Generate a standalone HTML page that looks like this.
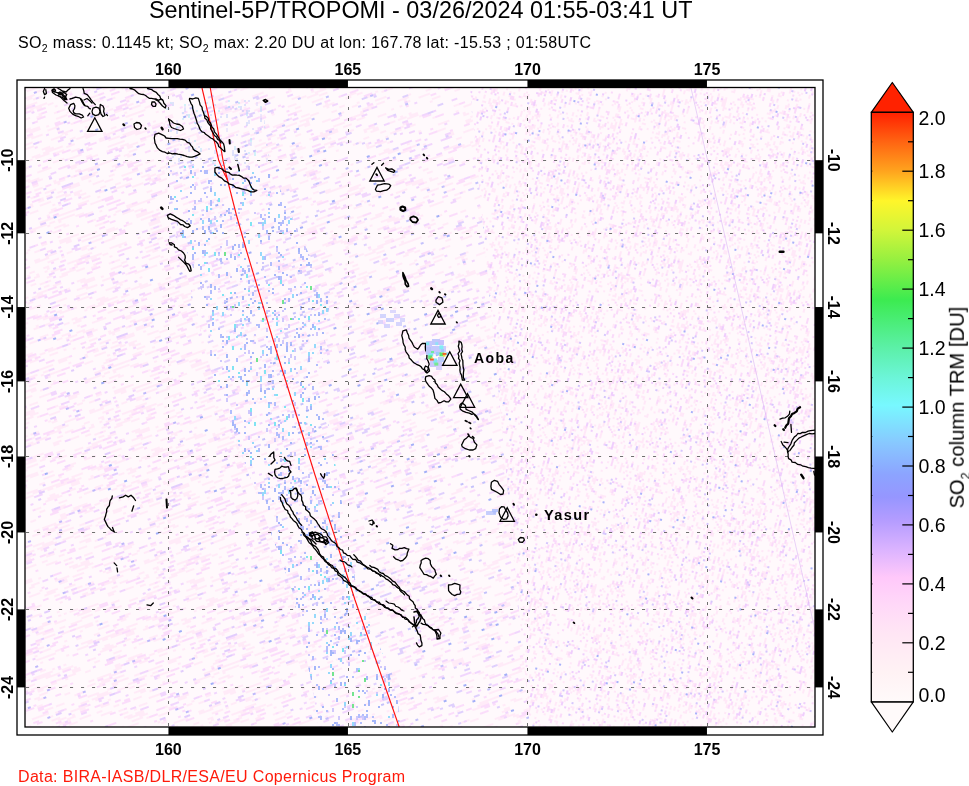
<!DOCTYPE html><html><head><meta charset="utf-8"><style>html,body{margin:0;padding:0;background:#fff;width:969px;height:786px;overflow:hidden}</style></head><body><svg width="969" height="786" viewBox="0 0 969 786" style="position:absolute;left:0;top:0;will-change:transform">
<defs>
<linearGradient id="cb" x1="0" y1="0" x2="0" y2="1"><stop offset="0" stop-color="#ff2000"/><stop offset="0.05" stop-color="#ff6412"/><stop offset="0.1" stop-color="#ffa41e"/><stop offset="0.15" stop-color="#fff52a"/><stop offset="0.2" stop-color="#d2f53a"/><stop offset="0.25" stop-color="#96f040"/><stop offset="0.318" stop-color="#3ceb50"/><stop offset="0.4" stop-color="#5cf0a8"/><stop offset="0.45" stop-color="#6cf5d8"/><stop offset="0.497" stop-color="#78f8ff"/><stop offset="0.561" stop-color="#88c8ff"/><stop offset="0.614" stop-color="#8ca4ff"/><stop offset="0.653" stop-color="#9696ff"/><stop offset="0.692" stop-color="#b49cff"/><stop offset="0.743" stop-color="#dcb4ff"/><stop offset="0.789" stop-color="#ffc8fa"/><stop offset="0.835" stop-color="#ffd8f8"/><stop offset="0.886" stop-color="#ffe6f4"/><stop offset="0.95" stop-color="#fff2f4"/><stop offset="1.0" stop-color="#fffafa"/></linearGradient>
<clipPath id="mapclip"><rect x="25" y="87.5" width="790" height="639.5"/></clipPath>
<pattern id="pL" width="270" height="160" patternUnits="userSpaceOnUse" patternTransform="rotate(-20)"><path fill="#ffebf8" d="M12 0h9v2h-9zM51 0h3v2h-3zM171 0h9v2h-9zM189 0h6v2h-6zM201 0h6v2h-6zM243 0h3v2h-3zM249 0h15v2h-15zM0 2h9v2h-9zM51 2h12v2h-12zM147 2h6v2h-6zM45 4h6v2h-6zM54 4h3v2h-3zM78 4h6v2h-6zM144 4h12v2h-12zM168 4h6v2h-6zM204 4h3v2h-3zM228 4h6v2h-6zM15 6h9v2h-9zM45 6h6v2h-6zM90 6h3v2h-3zM102 6h3v2h-3zM141 6h18v2h-18zM219 6h6v2h-6zM231 6h9v2h-9zM30 8h3v2h-3zM54 8h12v2h-12zM69 8h21v2h-21zM228 8h9v2h-9zM0 10h6v2h-6zM72 10h15v2h-15zM99 10h12v2h-12zM129 10h6v2h-6zM192 10h9v2h-9zM264 10h6v2h-6zM9 12h15v2h-15zM81 12h15v2h-15zM111 12h3v2h-3zM153 12h9v2h-9zM180 12h9v2h-9zM231 12h3v2h-3zM51 14h18v2h-18zM108 14h9v2h-9zM132 14h6v2h-6zM174 14h3v2h-3zM195 14h12v2h-12zM246 14h15v2h-15zM27 16h6v2h-6zM108 16h9v2h-9zM153 16h6v2h-6zM213 16h9v2h-9zM33 18h6v2h-6zM48 18h3v2h-3zM63 18h9v2h-9zM90 18h6v2h-6zM102 18h9v2h-9zM153 18h3v2h-3zM207 18h6v2h-6zM228 18h9v2h-9zM9 20h9v2h-9zM69 20h12v2h-12zM84 20h6v2h-6zM99 20h3v2h-3zM120 20h6v2h-6zM216 20h12v2h-12zM234 20h12v2h-12zM9 22h6v2h-6zM69 22h6v2h-6zM165 22h15v2h-15zM243 22h6v2h-6zM150 24h6v2h-6zM162 24h9v2h-9zM195 24h6v2h-6zM219 24h3v2h-3zM12 26h6v2h-6zM69 26h9v2h-9zM93 26h6v2h-6zM150 26h6v2h-6zM171 26h12v2h-12zM186 26h6v2h-6zM195 26h9v2h-9zM237 26h6v2h-6zM0 28h3v2h-3zM18 28h33v2h-33zM63 28h6v2h-6zM147 28h9v2h-9zM258 28h3v2h-3zM6 30h3v2h-3zM12 30h3v2h-3zM24 30h3v2h-3zM30 30h6v2h-6zM66 30h6v2h-6zM120 30h6v2h-6zM129 30h15v2h-15zM174 30h9v2h-9zM195 30h9v2h-9zM210 30h3v2h-3zM237 30h9v2h-9zM258 30h12v2h-12zM141 32h12v2h-12zM219 32h3v2h-3zM261 32h3v2h-3zM15 34h9v2h-9zM27 34h6v2h-6zM48 34h6v2h-6zM93 34h6v2h-6zM117 34h9v2h-9zM132 34h9v2h-9zM15 36h15v2h-15zM63 36h6v2h-6zM129 36h12v2h-12zM144 36h12v2h-12zM231 36h3v2h-3zM246 36h12v2h-12zM3 38h9v2h-9zM48 38h3v2h-3zM102 38h3v2h-3zM108 38h3v2h-3zM129 38h3v2h-3zM201 38h12v2h-12zM0 40h12v2h-12zM21 40h3v2h-3zM141 40h18v2h-18zM165 40h6v2h-6zM180 40h15v2h-15zM201 40h9v2h-9zM240 40h3v2h-3zM246 40h6v2h-6zM258 40h6v2h-6zM42 42h6v2h-6zM69 42h9v2h-9zM81 42h9v2h-9zM141 42h6v2h-6zM228 42h3v2h-3zM237 42h6v2h-6zM24 44h12v2h-12zM114 44h12v2h-12zM135 44h3v2h-3zM168 44h9v2h-9zM183 44h6v2h-6zM210 44h3v2h-3zM228 44h3v2h-3zM255 44h12v2h-12zM3 46h9v2h-9zM36 46h9v2h-9zM54 46h18v2h-18zM123 46h12v2h-12zM156 46h6v2h-6zM180 46h3v2h-3zM237 46h12v2h-12zM264 46h6v2h-6zM3 48h6v2h-6zM78 48h3v2h-3zM105 48h9v2h-9zM117 48h21v2h-21zM144 48h12v2h-12zM189 48h12v2h-12zM6 50h9v2h-9zM30 50h6v2h-6zM72 50h3v2h-3zM120 50h3v2h-3zM156 50h6v2h-6zM186 50h3v2h-3zM225 50h9v2h-9zM249 50h3v2h-3zM45 52h6v2h-6zM93 52h18v2h-18zM165 52h9v2h-9zM255 52h3v2h-3zM9 54h9v2h-9zM27 54h6v2h-6zM72 54h9v2h-9zM102 54h6v2h-6zM132 54h3v2h-3zM246 54h6v2h-6zM42 56h18v2h-18zM78 56h9v2h-9zM93 56h3v2h-3zM123 56h3v2h-3zM159 56h12v2h-12zM189 56h3v2h-3zM243 56h6v2h-6zM3 58h12v2h-12zM24 58h3v2h-3zM87 58h9v2h-9zM123 58h9v2h-9zM165 58h6v2h-6zM186 58h3v2h-3zM195 58h3v2h-3zM240 58h3v2h-3zM60 60h12v2h-12zM78 60h6v2h-6zM87 60h3v2h-3zM174 60h3v2h-3zM183 60h3v2h-3zM15 62h12v2h-12zM99 62h12v2h-12zM117 62h6v2h-6zM135 62h6v2h-6zM156 62h9v2h-9zM231 62h15v2h-15zM249 62h21v2h-21zM87 64h9v2h-9zM120 66h12v2h-12zM171 66h12v2h-12zM219 66h18v2h-18zM240 66h6v2h-6zM249 66h18v2h-18zM0 68h6v2h-6zM138 68h6v2h-6zM222 68h3v2h-3zM237 68h3v2h-3zM249 68h3v2h-3zM267 68h3v2h-3zM9 70h6v2h-6zM72 70h6v2h-6zM159 70h9v2h-9zM21 72h3v2h-3zM141 72h6v2h-6zM153 72h3v2h-3zM186 72h3v2h-3zM243 72h12v2h-12zM90 74h12v2h-12zM252 74h6v2h-6zM48 76h6v2h-6zM81 76h21v2h-21zM108 76h3v2h-3zM141 76h9v2h-9zM153 76h9v2h-9zM198 76h12v2h-12zM240 76h6v2h-6zM12 78h3v2h-3zM36 78h6v2h-6zM48 78h30v2h-30zM144 78h18v2h-18zM198 78h9v2h-9zM33 80h3v2h-3zM99 80h9v2h-9zM156 80h9v2h-9zM183 80h3v2h-3zM42 82h12v2h-12zM96 82h6v2h-6zM147 82h12v2h-12zM186 82h6v2h-6zM243 82h3v2h-3zM12 84h9v2h-9zM54 84h9v2h-9zM123 84h15v2h-15zM162 84h3v2h-3zM210 84h3v2h-3zM225 84h6v2h-6zM132 86h3v2h-3zM141 86h12v2h-12zM174 86h12v2h-12zM204 86h6v2h-6zM243 86h21v2h-21zM54 88h12v2h-12zM105 88h3v2h-3zM126 88h9v2h-9zM216 88h6v2h-6zM243 88h12v2h-12zM0 90h12v2h-12zM54 90h18v2h-18zM75 90h3v2h-3zM93 90h12v2h-12zM249 90h6v2h-6zM261 90h9v2h-9zM21 92h9v2h-9zM111 92h12v2h-12zM171 92h3v2h-3zM0 94h33v2h-33zM42 94h6v2h-6zM57 94h12v2h-12zM108 94h12v2h-12zM129 94h12v2h-12zM174 94h6v2h-6zM264 94h6v2h-6zM69 96h6v2h-6zM213 96h6v2h-6zM225 96h12v2h-12zM3 98h12v2h-12zM72 98h9v2h-9zM117 98h6v2h-6zM141 98h6v2h-6zM150 98h3v2h-3zM156 98h3v2h-3zM186 98h15v2h-15zM213 98h15v2h-15zM24 100h6v2h-6zM63 100h12v2h-12zM135 100h3v2h-3zM174 100h9v2h-9zM246 100h6v2h-6zM261 100h9v2h-9zM15 102h12v2h-12zM63 102h12v2h-12zM90 102h12v2h-12zM150 102h3v2h-3zM177 102h12v2h-12zM225 102h12v2h-12zM240 102h3v2h-3zM261 102h6v2h-6zM3 104h3v2h-3zM93 104h3v2h-3zM168 104h12v2h-12zM267 104h3v2h-3zM63 106h3v2h-3zM72 106h3v2h-3zM120 106h3v2h-3zM144 106h6v2h-6zM153 106h12v2h-12zM204 106h6v2h-6zM219 106h6v2h-6zM147 108h6v2h-6zM183 108h9v2h-9zM201 108h3v2h-3zM222 108h3v2h-3zM258 108h12v2h-12zM18 110h18v2h-18zM48 110h3v2h-3zM63 110h18v2h-18zM87 110h12v2h-12zM174 110h6v2h-6zM210 110h3v2h-3zM219 110h3v2h-3zM243 110h12v2h-12zM0 112h9v2h-9zM27 112h3v2h-3zM75 112h6v2h-6zM207 112h6v2h-6zM225 112h12v2h-12zM252 112h6v2h-6zM261 112h9v2h-9zM0 114h3v2h-3zM9 114h6v2h-6zM57 114h9v2h-9zM114 114h3v2h-3zM168 114h9v2h-9zM249 114h3v2h-3zM261 114h3v2h-3zM267 114h3v2h-3zM168 116h6v2h-6zM186 116h9v2h-9zM219 116h6v2h-6zM243 116h3v2h-3zM249 116h3v2h-3zM15 118h3v2h-3zM66 118h6v2h-6zM114 118h3v2h-3zM120 118h3v2h-3zM126 118h9v2h-9zM201 118h6v2h-6zM234 118h15v2h-15zM84 120h3v2h-3zM96 120h6v2h-6zM144 120h12v2h-12zM210 120h6v2h-6zM219 120h3v2h-3zM231 120h9v2h-9zM249 120h9v2h-9zM267 120h3v2h-3zM51 122h9v2h-9zM90 122h15v2h-15zM138 122h9v2h-9zM264 122h6v2h-6zM12 124h3v2h-3zM18 124h6v2h-6zM84 124h12v2h-12zM108 124h12v2h-12zM132 124h15v2h-15zM153 124h3v2h-3zM168 124h9v2h-9zM213 124h6v2h-6zM51 126h9v2h-9zM150 126h6v2h-6zM222 126h9v2h-9zM24 128h6v2h-6zM57 128h6v2h-6zM87 128h9v2h-9zM135 128h12v2h-12zM162 128h3v2h-3zM186 128h9v2h-9zM204 128h12v2h-12zM12 130h12v2h-12zM72 130h3v2h-3zM93 130h12v2h-12zM111 130h6v2h-6zM123 130h12v2h-12zM168 130h9v2h-9zM198 130h12v2h-12zM246 130h9v2h-9zM201 132h3v2h-3zM249 132h15v2h-15zM0 134h3v2h-3zM51 134h12v2h-12zM93 134h12v2h-12zM192 134h6v2h-6zM228 134h3v2h-3zM234 134h3v2h-3zM252 134h12v2h-12zM63 136h3v2h-3zM84 136h6v2h-6zM111 136h9v2h-9zM126 136h18v2h-18zM147 136h3v2h-3zM0 138h12v2h-12zM135 138h9v2h-9zM243 138h12v2h-12zM24 140h3v2h-3zM60 140h9v2h-9zM129 140h3v2h-3zM153 140h6v2h-6zM177 140h6v2h-6zM192 140h12v2h-12zM252 140h12v2h-12zM9 142h3v2h-3zM33 142h24v2h-24zM81 142h9v2h-9zM174 142h6v2h-6zM219 142h12v2h-12zM69 144h9v2h-9zM111 144h3v2h-3zM147 144h12v2h-12zM171 144h6v2h-6zM240 144h12v2h-12zM12 146h9v2h-9zM87 146h9v2h-9zM123 146h6v2h-6zM0 148h12v2h-12zM15 148h3v2h-3zM36 148h3v2h-3zM60 148h9v2h-9zM78 148h3v2h-3zM108 148h3v2h-3zM141 148h6v2h-6zM162 148h3v2h-3zM195 148h3v2h-3zM225 148h3v2h-3zM240 148h12v2h-12zM99 150h6v2h-6zM204 150h3v2h-3zM78 152h21v2h-21zM126 152h12v2h-12zM174 152h12v2h-12zM195 152h9v2h-9zM216 152h6v2h-6zM18 154h6v2h-6zM33 154h3v2h-3zM132 154h6v2h-6zM141 154h21v2h-21zM165 154h12v2h-12zM201 154h12v2h-12zM219 154h12v2h-12zM234 154h3v2h-3zM258 154h9v2h-9zM24 156h18v2h-18zM81 156h3v2h-3zM120 156h12v2h-12zM147 156h6v2h-6zM156 156h12v2h-12zM177 156h6v2h-6zM261 156h9v2h-9zM0 158h9v2h-9zM33 158h12v2h-12zM60 158h6v2h-6zM108 158h3v2h-3zM171 158h9v2h-9zM192 158h3v2h-3zM246 158h9v2h-9zM258 158h12v2h-12z"/><path fill="#fbddfb" d="M114 0h6v2h-6zM63 2h6v2h-6zM267 2h3v2h-3zM0 4h3v2h-3zM6 4h9v2h-9zM159 4h6v2h-6zM180 4h3v2h-3zM210 4h3v2h-3zM33 6h9v2h-9zM177 6h3v2h-3zM207 6h6v2h-6zM255 6h9v2h-9zM96 8h3v2h-3zM138 8h3v2h-3zM150 8h3v2h-3zM165 8h3v2h-3zM174 8h6v2h-6zM249 8h3v2h-3zM30 10h6v2h-6zM126 10h3v2h-3zM207 10h9v2h-9zM99 12h9v2h-9zM192 12h3v2h-3zM204 12h9v2h-9zM252 12h6v2h-6zM234 14h6v2h-6zM0 18h9v2h-9zM27 18h6v2h-6zM51 18h9v2h-9zM84 18h6v2h-6zM144 18h9v2h-9zM156 18h9v2h-9zM219 18h3v2h-3zM267 18h3v2h-3zM24 20h3v2h-3zM60 20h6v2h-6zM141 20h9v2h-9zM81 24h6v2h-6zM174 24h9v2h-9zM192 24h3v2h-3zM222 24h12v2h-12zM237 24h6v2h-6zM54 26h6v2h-6zM102 26h3v2h-3zM156 26h3v2h-3zM204 26h6v2h-6zM216 26h3v2h-3zM15 28h3v2h-3zM168 28h9v2h-9zM180 28h6v2h-6zM264 28h6v2h-6zM9 30h3v2h-3zM27 30h3v2h-3zM228 30h6v2h-6zM249 30h6v2h-6zM84 32h6v2h-6zM129 32h6v2h-6zM60 34h3v2h-3zM141 34h3v2h-3zM237 34h6v2h-6zM51 36h9v2h-9zM189 36h9v2h-9zM234 36h6v2h-6zM0 38h3v2h-3zM63 38h12v2h-12zM105 38h3v2h-3zM126 38h3v2h-3zM132 38h3v2h-3zM213 38h3v2h-3zM264 38h6v2h-6zM63 40h6v2h-6zM231 40h9v2h-9zM105 42h9v2h-9zM66 44h6v2h-6zM96 46h3v2h-3zM162 46h3v2h-3zM171 46h3v2h-3zM87 48h3v2h-3zM165 48h3v2h-3zM201 48h9v2h-9zM213 48h12v2h-12zM54 50h6v2h-6zM102 50h3v2h-3zM261 50h9v2h-9zM57 52h6v2h-6zM111 52h3v2h-3zM195 52h9v2h-9zM102 56h9v2h-9zM117 56h6v2h-6zM249 56h9v2h-9zM75 58h6v2h-6zM138 58h6v2h-6zM189 58h6v2h-6zM3 60h9v2h-9zM147 60h6v2h-6zM198 60h6v2h-6zM240 60h3v2h-3zM246 60h6v2h-6zM27 62h12v2h-12zM48 62h3v2h-3zM81 62h9v2h-9zM144 62h9v2h-9zM30 64h9v2h-9zM54 66h9v2h-9zM30 68h15v2h-15zM108 68h3v2h-3zM129 68h6v2h-6zM144 68h3v2h-3zM219 68h3v2h-3zM0 70h9v2h-9zM192 70h6v2h-6zM6 72h3v2h-3zM39 72h9v2h-9zM138 72h3v2h-3zM177 72h9v2h-9zM30 74h9v2h-9zM75 74h12v2h-12zM237 74h3v2h-3zM54 76h6v2h-6zM246 76h3v2h-3zM6 78h6v2h-6zM18 78h9v2h-9zM123 78h9v2h-9zM264 78h3v2h-3zM15 80h9v2h-9zM27 80h3v2h-3zM69 80h3v2h-3zM174 80h9v2h-9zM123 82h3v2h-3zM219 82h3v2h-3zM225 82h6v2h-6zM252 82h3v2h-3zM21 84h6v2h-6zM165 84h9v2h-9zM186 84h9v2h-9zM201 84h3v2h-3zM27 86h6v2h-6zM60 86h6v2h-6zM93 86h3v2h-3zM108 86h3v2h-3zM15 88h6v2h-6zM141 90h9v2h-9zM168 90h3v2h-3zM198 90h3v2h-3zM42 92h3v2h-3zM177 92h3v2h-3zM204 92h3v2h-3zM228 92h6v2h-6zM39 94h3v2h-3zM69 94h9v2h-9zM192 94h3v2h-3zM240 96h3v2h-3zM33 98h6v2h-6zM93 98h3v2h-3zM105 98h6v2h-6zM30 100h9v2h-9zM87 100h9v2h-9zM198 100h9v2h-9zM117 102h6v2h-6zM141 102h9v2h-9zM162 102h12v2h-12zM126 104h6v2h-6zM165 104h3v2h-3zM228 104h3v2h-3zM177 106h3v2h-3zM237 106h6v2h-6zM189 110h12v2h-12zM255 110h9v2h-9zM33 112h3v2h-3zM66 112h9v2h-9zM48 114h6v2h-6zM78 114h3v2h-3zM198 114h9v2h-9zM234 114h6v2h-6zM252 114h9v2h-9zM0 116h6v2h-6zM24 116h15v2h-15zM246 116h3v2h-3zM267 116h3v2h-3zM48 118h3v2h-3zM0 120h6v2h-6zM135 120h6v2h-6zM216 120h3v2h-3zM60 122h6v2h-6zM72 122h6v2h-6zM108 122h3v2h-3zM129 122h6v2h-6zM156 122h9v2h-9zM0 124h3v2h-3zM15 124h3v2h-3zM156 124h9v2h-9zM264 124h6v2h-6zM72 126h9v2h-9zM261 126h3v2h-3zM96 128h9v2h-9zM165 128h6v2h-6zM216 128h9v2h-9zM45 130h9v2h-9zM159 130h6v2h-6zM24 132h6v2h-6zM120 132h9v2h-9zM183 132h9v2h-9zM204 132h9v2h-9zM219 132h6v2h-6zM9 134h6v2h-6zM84 134h6v2h-6zM165 134h9v2h-9zM183 134h3v2h-3zM9 136h9v2h-9zM30 136h6v2h-6zM120 136h6v2h-6zM213 136h15v2h-15zM249 136h6v2h-6zM84 138h3v2h-3zM102 138h9v2h-9zM192 138h3v2h-3zM27 140h9v2h-9zM72 140h12v2h-12zM69 142h9v2h-9zM99 142h6v2h-6zM168 142h6v2h-6zM96 144h6v2h-6zM21 146h3v2h-3zM84 146h3v2h-3zM162 146h6v2h-6zM213 146h9v2h-9zM258 146h3v2h-3zM186 148h9v2h-9zM63 150h9v2h-9zM105 150h9v2h-9zM153 150h9v2h-9zM192 150h9v2h-9zM210 150h6v2h-6zM252 150h3v2h-3zM105 152h3v2h-3zM162 152h9v2h-9zM204 152h3v2h-3zM228 152h3v2h-3zM162 154h3v2h-3zM90 156h6v2h-6zM168 156h9v2h-9zM207 156h9v2h-9zM207 158h15v2h-15z"/><path fill="#f1d6fd" d="M195 0h6v2h-6zM75 2h6v2h-6zM168 2h3v2h-3zM204 2h6v2h-6zM30 4h6v2h-6zM51 4h3v2h-3zM60 4h3v2h-3zM69 4h3v2h-3zM126 4h3v2h-3zM165 4h3v2h-3zM267 4h3v2h-3zM51 6h6v2h-6zM96 6h3v2h-3zM21 8h3v2h-3zM180 8h6v2h-6zM21 10h6v2h-6zM66 10h6v2h-6zM6 12h3v2h-3zM93 14h3v2h-3zM144 16h3v2h-3zM15 18h6v2h-6zM96 18h6v2h-6zM129 18h3v2h-3zM6 20h3v2h-3zM18 20h6v2h-6zM30 20h3v2h-3zM48 20h6v2h-6zM57 20h3v2h-3zM258 20h6v2h-6zM33 22h6v2h-6zM60 22h3v2h-3zM216 22h3v2h-3zM237 22h6v2h-6zM255 22h3v2h-3zM153 32h6v2h-6zM168 32h3v2h-3zM183 32h6v2h-6zM228 34h3v2h-3zM45 38h3v2h-3zM75 38h3v2h-3zM105 40h3v2h-3zM171 40h9v2h-9zM264 42h3v2h-3zM0 44h3v2h-3zM189 44h6v2h-6zM222 44h3v2h-3zM165 46h6v2h-6zM81 48h6v2h-6zM183 48h6v2h-6zM105 50h6v2h-6zM123 50h6v2h-6zM141 50h6v2h-6zM183 50h3v2h-3zM216 50h6v2h-6zM255 50h3v2h-3zM6 52h3v2h-3zM123 52h3v2h-3zM264 54h3v2h-3zM126 56h6v2h-6zM150 56h3v2h-3zM39 58h6v2h-6zM54 58h6v2h-6zM102 58h6v2h-6zM231 58h3v2h-3zM84 60h3v2h-3zM0 62h6v2h-6zM72 62h6v2h-6zM78 64h6v2h-6zM210 64h3v2h-3zM183 66h6v2h-6zM21 68h6v2h-6zM183 68h6v2h-6zM150 70h6v2h-6zM189 72h6v2h-6zM159 74h9v2h-9zM195 74h6v2h-6zM204 74h6v2h-6zM48 80h3v2h-3zM111 80h6v2h-6zM189 80h9v2h-9zM213 82h6v2h-6zM234 84h3v2h-3zM129 86h3v2h-3zM195 86h6v2h-6zM111 88h3v2h-3zM222 88h6v2h-6zM135 92h3v2h-3zM156 92h3v2h-3zM240 92h3v2h-3zM261 92h3v2h-3zM33 96h3v2h-3zM66 98h6v2h-6zM81 98h6v2h-6zM135 98h6v2h-6zM252 98h6v2h-6zM153 100h6v2h-6zM240 100h3v2h-3zM255 100h6v2h-6zM12 102h3v2h-3zM123 102h6v2h-6zM135 102h6v2h-6zM153 104h6v2h-6zM54 106h6v2h-6zM66 106h6v2h-6zM129 106h3v2h-3zM141 108h6v2h-6zM153 108h3v2h-3zM162 108h6v2h-6zM201 110h3v2h-3zM234 110h6v2h-6zM264 110h3v2h-3zM60 112h6v2h-6zM96 112h3v2h-3zM222 114h6v2h-6zM45 116h6v2h-6zM102 116h6v2h-6zM180 116h6v2h-6zM261 116h3v2h-3zM225 118h3v2h-3zM24 120h6v2h-6zM45 124h3v2h-3zM225 124h6v2h-6zM60 126h6v2h-6zM87 126h3v2h-3zM201 126h3v2h-3zM258 126h3v2h-3zM39 128h3v2h-3zM66 130h6v2h-6zM228 130h3v2h-3zM240 130h3v2h-3zM147 132h6v2h-6zM210 134h3v2h-3zM225 134h3v2h-3zM231 134h3v2h-3zM78 136h6v2h-6zM231 136h6v2h-6zM21 138h3v2h-3zM42 138h6v2h-6zM147 140h3v2h-3zM171 140h6v2h-6zM267 142h3v2h-3zM9 144h6v2h-6zM78 144h6v2h-6zM123 144h6v2h-6zM63 146h6v2h-6zM237 146h6v2h-6zM207 148h3v2h-3zM9 150h6v2h-6zM75 150h3v2h-3zM228 150h3v2h-3zM6 152h6v2h-6zM138 154h3v2h-3zM231 154h3v2h-3zM15 158h3v2h-3zM132 158h9v2h-9z"/><path fill="#e2cdfd" d="M69 2h6v2h-6zM135 2h3v2h-3zM213 4h6v2h-6zM240 6h3v2h-3zM195 12h3v2h-3zM99 16h3v2h-3zM147 16h6v2h-6zM255 24h3v2h-3zM159 26h6v2h-6zM210 26h6v2h-6zM3 28h3v2h-3zM51 28h6v2h-6zM246 32h3v2h-3zM0 36h6v2h-6zM264 36h6v2h-6zM30 38h3v2h-3zM252 38h3v2h-3zM246 42h6v2h-6zM138 44h6v2h-6zM162 44h6v2h-6zM258 48h6v2h-6zM78 50h6v2h-6zM135 50h6v2h-6zM24 52h6v2h-6zM210 52h3v2h-3zM39 54h6v2h-6zM90 54h3v2h-3zM258 54h6v2h-6zM177 60h6v2h-6zM60 64h3v2h-3zM219 64h3v2h-3zM231 64h6v2h-6zM9 72h6v2h-6zM75 76h6v2h-6zM225 76h3v2h-3zM120 78h3v2h-3zM42 80h6v2h-6zM174 90h6v2h-6zM225 94h3v2h-3zM231 94h6v2h-6zM18 96h3v2h-3zM198 96h6v2h-6zM255 96h6v2h-6zM129 98h3v2h-3zM183 100h3v2h-3zM0 104h3v2h-3zM48 106h3v2h-3zM84 108h6v2h-6zM102 110h6v2h-6zM228 110h3v2h-3zM84 112h3v2h-3zM60 116h6v2h-6zM57 118h3v2h-3zM78 120h6v2h-6zM141 120h3v2h-3zM84 122h6v2h-6zM207 124h3v2h-3zM30 126h3v2h-3zM168 126h3v2h-3zM195 132h6v2h-6zM90 134h3v2h-3zM108 134h6v2h-6zM9 140h3v2h-3zM60 142h3v2h-3zM120 142h3v2h-3zM213 142h6v2h-6zM252 146h6v2h-6zM30 150h3v2h-3zM144 150h3v2h-3zM120 152h3v2h-3zM138 156h6v2h-6z"/><path fill="#beb8fa" d="M216 0h3v2h-3zM24 8h3v2h-3zM189 12h3v2h-3zM78 24h3v2h-3zM33 26h3v2h-3zM168 26h3v2h-3zM15 30h3v2h-3zM72 30h3v2h-3zM147 30h3v2h-3zM24 34h3v2h-3zM54 34h3v2h-3zM111 38h3v2h-3zM144 38h3v2h-3zM225 44h3v2h-3zM69 50h3v2h-3zM198 72h3v2h-3zM126 86h3v2h-3zM192 86h3v2h-3zM201 92h3v2h-3zM15 96h3v2h-3zM0 98h3v2h-3zM126 98h3v2h-3zM153 98h3v2h-3zM102 120h3v2h-3zM18 136h3v2h-3zM93 142h3v2h-3zM18 156h3v2h-3zM75 158h3v2h-3z"/><path fill="#a0aff7" d="M222 14h3v2h-3zM204 16h3v2h-3zM33 32h3v2h-3zM33 54h3v2h-3zM246 62h3v2h-3zM234 74h3v2h-3zM45 140h3v2h-3zM150 140h3v2h-3zM45 154h3v2h-3zM213 154h3v2h-3z"/></pattern>
<pattern id="pM" width="288" height="168" patternUnits="userSpaceOnUse" patternTransform="rotate(-20)"><path fill="#ffebf8" d="M105 0h6v2h-6zM117 0h6v2h-6zM228 0h9v2h-9zM0 2h9v2h-9zM24 2h12v2h-12zM72 2h6v2h-6zM81 2h3v2h-3zM99 2h21v2h-21zM141 2h6v2h-6zM264 2h3v2h-3zM270 2h3v2h-3zM282 2h6v2h-6zM0 4h12v2h-12zM45 4h15v2h-15zM99 4h12v2h-12zM135 4h12v2h-12zM165 4h9v2h-9zM219 4h6v2h-6zM231 4h3v2h-3zM6 6h12v2h-12zM21 6h3v2h-3zM30 6h3v2h-3zM72 6h6v2h-6zM165 6h9v2h-9zM222 6h6v2h-6zM231 6h9v2h-9zM249 6h12v2h-12zM117 8h9v2h-9zM192 8h3v2h-3zM204 8h12v2h-12zM237 8h6v2h-6zM276 8h6v2h-6zM285 8h3v2h-3zM33 10h3v2h-3zM171 10h3v2h-3zM180 10h15v2h-15zM240 10h3v2h-3zM252 10h3v2h-3zM0 12h6v2h-6zM90 12h6v2h-6zM126 12h3v2h-3zM165 12h9v2h-9zM243 12h6v2h-6zM258 12h3v2h-3zM264 12h3v2h-3zM285 12h3v2h-3zM6 14h6v2h-6zM153 14h6v2h-6zM171 14h9v2h-9zM240 14h3v2h-3zM12 16h6v2h-6zM51 16h3v2h-3zM180 16h9v2h-9zM192 16h3v2h-3zM204 16h6v2h-6zM213 16h12v2h-12zM240 16h3v2h-3zM15 18h6v2h-6zM42 18h3v2h-3zM102 18h9v2h-9zM279 18h6v2h-6zM72 20h6v2h-6zM117 20h12v2h-12zM186 20h9v2h-9zM9 22h12v2h-12zM33 22h12v2h-12zM90 22h9v2h-9zM111 22h3v2h-3zM201 22h12v2h-12zM279 22h9v2h-9zM0 24h12v2h-12zM105 24h3v2h-3zM111 24h30v2h-30zM180 24h3v2h-3zM240 24h9v2h-9zM261 24h3v2h-3zM270 24h15v2h-15zM51 26h6v2h-6zM138 26h3v2h-3zM147 26h9v2h-9zM159 26h12v2h-12zM249 26h6v2h-6zM264 26h12v2h-12zM6 28h3v2h-3zM69 28h3v2h-3zM111 28h9v2h-9zM138 28h12v2h-12zM255 28h12v2h-12zM3 30h24v2h-24zM36 30h3v2h-3zM132 30h21v2h-21zM204 30h6v2h-6zM234 30h9v2h-9zM267 30h9v2h-9zM33 32h6v2h-6zM87 32h3v2h-3zM144 32h12v2h-12zM216 32h3v2h-3zM48 34h3v2h-3zM87 34h3v2h-3zM96 34h3v2h-3zM135 34h12v2h-12zM240 34h6v2h-6zM258 34h12v2h-12zM45 36h3v2h-3zM51 36h6v2h-6zM117 36h3v2h-3zM168 36h12v2h-12zM42 38h9v2h-9zM126 38h9v2h-9zM153 38h12v2h-12zM240 38h6v2h-6zM6 40h9v2h-9zM66 40h12v2h-12zM120 40h3v2h-3zM183 40h6v2h-6zM204 40h6v2h-6zM270 40h3v2h-3zM3 42h6v2h-6zM15 42h6v2h-6zM48 42h6v2h-6zM72 42h3v2h-3zM129 42h15v2h-15zM156 42h12v2h-12zM267 42h12v2h-12zM189 44h6v2h-6zM198 44h3v2h-3zM213 44h12v2h-12zM243 44h9v2h-9zM270 44h3v2h-3zM33 46h3v2h-3zM63 46h12v2h-12zM87 46h3v2h-3zM99 46h12v2h-12zM252 46h9v2h-9zM24 48h3v2h-3zM39 48h3v2h-3zM45 48h6v2h-6zM183 48h3v2h-3zM225 48h12v2h-12zM240 48h12v2h-12zM282 48h6v2h-6zM12 50h3v2h-3zM246 50h3v2h-3zM273 50h6v2h-6zM6 52h6v2h-6zM99 52h6v2h-6zM138 52h3v2h-3zM171 52h6v2h-6zM195 52h3v2h-3zM204 52h9v2h-9zM237 52h12v2h-12zM30 54h12v2h-12zM231 54h3v2h-3zM243 54h6v2h-6zM282 54h3v2h-3zM189 56h12v2h-12zM213 56h6v2h-6zM261 56h9v2h-9zM15 58h12v2h-12zM30 58h9v2h-9zM117 58h3v2h-3zM123 58h6v2h-6zM12 60h3v2h-3zM21 60h3v2h-3zM63 60h3v2h-3zM111 60h18v2h-18zM174 60h3v2h-3zM195 60h15v2h-15zM231 60h6v2h-6zM3 62h12v2h-12zM51 62h12v2h-12zM81 62h6v2h-6zM90 62h6v2h-6zM132 62h12v2h-12zM180 62h6v2h-6zM57 64h3v2h-3zM210 64h6v2h-6zM270 64h12v2h-12zM6 66h9v2h-9zM60 66h3v2h-3zM72 66h12v2h-12zM99 66h9v2h-9zM123 66h3v2h-3zM156 66h3v2h-3zM195 66h9v2h-9zM255 66h3v2h-3zM42 68h3v2h-3zM51 68h3v2h-3zM108 68h3v2h-3zM144 68h3v2h-3zM222 68h12v2h-12zM243 68h3v2h-3zM252 68h12v2h-12zM267 68h6v2h-6zM279 68h9v2h-9zM27 70h9v2h-9zM126 70h9v2h-9zM177 70h6v2h-6zM195 70h6v2h-6zM255 70h18v2h-18zM84 72h9v2h-9zM108 72h6v2h-6zM222 72h12v2h-12zM258 72h3v2h-3zM81 74h3v2h-3zM222 74h3v2h-3zM228 74h9v2h-9zM261 74h3v2h-3zM282 74h6v2h-6zM195 76h3v2h-3zM204 76h12v2h-12zM9 78h12v2h-12zM48 78h3v2h-3zM57 78h3v2h-3zM156 78h3v2h-3zM207 78h3v2h-3zM255 78h12v2h-12zM9 80h3v2h-3zM18 80h6v2h-6zM36 80h6v2h-6zM45 80h9v2h-9zM57 80h9v2h-9zM168 80h6v2h-6zM15 82h9v2h-9zM54 82h12v2h-12zM228 82h3v2h-3zM258 82h6v2h-6zM273 82h3v2h-3zM66 84h3v2h-3zM150 84h6v2h-6zM168 84h6v2h-6zM213 84h12v2h-12zM240 84h12v2h-12zM6 86h6v2h-6zM24 86h6v2h-6zM48 86h3v2h-3zM102 86h6v2h-6zM150 86h3v2h-3zM216 86h9v2h-9zM0 88h3v2h-3zM45 88h3v2h-3zM153 88h3v2h-3zM159 88h3v2h-3zM192 88h3v2h-3zM210 88h6v2h-6zM264 88h3v2h-3zM282 88h3v2h-3zM33 90h12v2h-12zM54 90h6v2h-6zM78 90h3v2h-3zM111 90h12v2h-12zM171 90h3v2h-3zM231 90h12v2h-12zM6 92h3v2h-3zM27 92h3v2h-3zM102 92h3v2h-3zM123 92h12v2h-12zM240 92h12v2h-12zM6 94h3v2h-3zM138 94h9v2h-9zM180 94h12v2h-12zM216 94h15v2h-15zM237 94h3v2h-3zM6 96h9v2h-9zM18 96h9v2h-9zM108 96h3v2h-3zM135 96h6v2h-6zM207 96h6v2h-6zM246 96h3v2h-3zM252 96h3v2h-3zM27 98h3v2h-3zM60 98h3v2h-3zM81 98h12v2h-12zM108 98h6v2h-6zM162 98h6v2h-6zM171 98h18v2h-18zM228 98h9v2h-9zM129 100h12v2h-12zM228 100h3v2h-3zM114 102h3v2h-3zM120 102h6v2h-6zM135 102h3v2h-3zM189 102h9v2h-9zM228 102h3v2h-3zM237 102h6v2h-6zM21 104h6v2h-6zM78 104h9v2h-9zM108 104h6v2h-6zM120 104h9v2h-9zM177 104h6v2h-6zM198 104h12v2h-12zM234 104h3v2h-3zM15 106h15v2h-15zM45 106h3v2h-3zM108 106h15v2h-15zM132 106h9v2h-9zM153 106h6v2h-6zM162 106h3v2h-3zM198 106h12v2h-12zM219 106h9v2h-9zM273 106h3v2h-3zM24 108h12v2h-12zM198 108h6v2h-6zM207 108h3v2h-3zM234 108h6v2h-6zM48 110h6v2h-6zM90 110h3v2h-3zM36 112h12v2h-12zM60 112h3v2h-3zM87 112h6v2h-6zM141 112h6v2h-6zM261 112h9v2h-9zM3 114h3v2h-3zM102 114h18v2h-18zM153 114h9v2h-9zM234 114h12v2h-12zM255 114h12v2h-12zM285 114h3v2h-3zM18 116h9v2h-9zM135 116h3v2h-3zM150 116h12v2h-12zM15 118h6v2h-6zM93 118h6v2h-6zM123 118h15v2h-15zM141 118h12v2h-12zM192 118h3v2h-3zM228 120h6v2h-6zM12 122h3v2h-3zM51 122h3v2h-3zM132 122h3v2h-3zM213 122h3v2h-3zM240 122h6v2h-6zM15 124h9v2h-9zM78 124h15v2h-15zM162 124h9v2h-9zM219 124h6v2h-6zM240 124h27v2h-27zM9 126h3v2h-3zM42 126h9v2h-9zM96 126h3v2h-3zM105 126h3v2h-3zM135 126h6v2h-6zM195 126h12v2h-12zM27 128h9v2h-9zM60 128h15v2h-15zM96 128h9v2h-9zM120 128h3v2h-3zM141 128h9v2h-9zM207 128h6v2h-6zM264 128h12v2h-12zM105 130h9v2h-9zM222 130h3v2h-3zM228 130h6v2h-6zM261 130h12v2h-12zM18 132h9v2h-9zM111 132h3v2h-3zM123 132h12v2h-12zM168 132h6v2h-6zM273 132h6v2h-6zM72 134h12v2h-12zM171 134h12v2h-12zM198 134h12v2h-12zM258 134h18v2h-18zM51 136h6v2h-6zM114 136h12v2h-12zM168 136h12v2h-12zM246 136h15v2h-15zM21 138h12v2h-12zM246 138h3v2h-3zM18 140h3v2h-3zM54 140h6v2h-6zM0 142h9v2h-9zM12 142h3v2h-3zM75 142h9v2h-9zM90 142h9v2h-9zM114 142h9v2h-9zM126 142h3v2h-3zM135 142h3v2h-3zM150 142h6v2h-6zM165 142h3v2h-3zM0 144h6v2h-6zM30 144h18v2h-18zM258 144h3v2h-3zM270 144h3v2h-3zM282 144h6v2h-6zM36 146h12v2h-12zM54 146h3v2h-3zM123 146h9v2h-9zM204 146h3v2h-3zM222 146h12v2h-12zM273 146h3v2h-3zM18 148h12v2h-12zM48 148h3v2h-3zM54 148h9v2h-9zM261 148h9v2h-9zM156 150h3v2h-3zM276 150h3v2h-3zM186 152h3v2h-3zM210 152h21v2h-21zM234 152h18v2h-18zM42 154h9v2h-9zM60 154h9v2h-9zM120 154h6v2h-6zM207 154h12v2h-12zM201 156h9v2h-9zM252 156h6v2h-6zM48 158h12v2h-12zM66 158h9v2h-9zM261 158h6v2h-6zM15 160h3v2h-3zM93 160h9v2h-9zM165 160h3v2h-3zM240 160h6v2h-6zM6 162h6v2h-6zM42 162h6v2h-6zM231 162h3v2h-3zM243 162h9v2h-9zM279 162h9v2h-9zM66 164h6v2h-6zM84 164h9v2h-9zM108 164h3v2h-3zM165 164h12v2h-12zM186 164h3v2h-3zM192 164h3v2h-3zM255 164h12v2h-12zM273 164h12v2h-12zM33 166h9v2h-9zM117 166h6v2h-6zM165 166h9v2h-9zM195 166h9v2h-9zM231 166h6v2h-6z"/><path fill="#fbddfb" d="M24 0h15v2h-15zM60 0h6v2h-6zM132 0h6v2h-6zM177 0h9v2h-9zM24 4h6v2h-6zM177 4h3v2h-3zM225 4h6v2h-6zM24 6h6v2h-6zM30 8h3v2h-3zM108 8h6v2h-6zM144 8h3v2h-3zM168 8h9v2h-9zM246 8h9v2h-9zM282 8h3v2h-3zM21 10h6v2h-6zM129 10h3v2h-3zM243 10h9v2h-9zM261 10h3v2h-3zM30 12h3v2h-3zM135 12h9v2h-9zM174 12h9v2h-9zM195 12h3v2h-3zM210 12h9v2h-9zM0 14h6v2h-6zM57 14h3v2h-3zM147 14h6v2h-6zM285 14h3v2h-3zM18 16h3v2h-3zM237 16h3v2h-3zM6 18h6v2h-6zM189 18h9v2h-9zM60 20h9v2h-9zM261 22h3v2h-3zM36 24h3v2h-3zM147 24h3v2h-3zM165 24h9v2h-9zM204 24h9v2h-9zM285 24h3v2h-3zM174 26h9v2h-9zM225 26h3v2h-3zM36 28h6v2h-6zM45 28h6v2h-6zM66 28h3v2h-3zM105 28h6v2h-6zM174 28h9v2h-9zM219 28h3v2h-3zM123 30h6v2h-6zM195 30h9v2h-9zM114 32h3v2h-3zM204 32h6v2h-6zM60 34h9v2h-9zM156 34h6v2h-6zM231 34h3v2h-3zM63 36h9v2h-9zM9 38h9v2h-9zM75 38h9v2h-9zM102 38h6v2h-6zM165 38h9v2h-9zM231 38h9v2h-9zM270 38h6v2h-6zM285 38h3v2h-3zM156 40h6v2h-6zM204 42h6v2h-6zM225 42h3v2h-3zM231 42h3v2h-3zM63 44h3v2h-3zM78 44h3v2h-3zM165 44h6v2h-6zM21 46h9v2h-9zM216 46h6v2h-6zM186 48h6v2h-6zM120 54h3v2h-3zM204 54h3v2h-3zM21 56h6v2h-6zM105 56h3v2h-3zM138 58h9v2h-9zM201 58h6v2h-6zM270 58h9v2h-9zM156 60h6v2h-6zM0 62h3v2h-3zM159 62h3v2h-3zM189 62h6v2h-6zM282 62h6v2h-6zM0 64h6v2h-6zM204 64h6v2h-6zM246 64h3v2h-3zM264 66h6v2h-6zM84 68h6v2h-6zM99 68h9v2h-9zM147 68h6v2h-6zM159 68h12v2h-12zM246 68h6v2h-6zM57 70h3v2h-3zM120 70h3v2h-3zM144 72h9v2h-9zM168 74h9v2h-9zM183 74h3v2h-3zM207 74h9v2h-9zM15 76h6v2h-6zM135 76h3v2h-3zM186 76h3v2h-3zM192 76h3v2h-3zM243 76h9v2h-9zM219 78h3v2h-3zM270 78h9v2h-9zM165 82h9v2h-9zM186 82h12v2h-12zM243 82h3v2h-3zM156 84h6v2h-6zM51 86h3v2h-3zM69 86h9v2h-9zM108 86h6v2h-6zM171 88h3v2h-3zM81 90h9v2h-9zM195 92h6v2h-6zM15 94h9v2h-9zM249 96h3v2h-3zM261 98h6v2h-6zM72 100h3v2h-3zM231 100h9v2h-9zM180 102h6v2h-6zM69 104h9v2h-9zM255 104h3v2h-3zM3 106h9v2h-9zM54 106h6v2h-6zM165 106h6v2h-6zM183 106h9v2h-9zM231 106h6v2h-6zM90 108h3v2h-3zM105 108h6v2h-6zM39 110h9v2h-9zM207 110h9v2h-9zM15 112h3v2h-3zM174 112h3v2h-3zM27 116h3v2h-3zM117 116h3v2h-3zM138 116h9v2h-9zM174 118h3v2h-3zM273 118h6v2h-6zM42 122h9v2h-9zM135 122h9v2h-9zM264 122h3v2h-3zM60 124h3v2h-3zM144 124h3v2h-3zM87 126h9v2h-9zM36 128h3v2h-3zM54 128h6v2h-6zM81 128h9v2h-9zM225 128h3v2h-3zM159 130h3v2h-3zM9 132h9v2h-9zM48 132h3v2h-3zM147 132h9v2h-9zM228 132h12v2h-12zM252 132h9v2h-9zM141 134h9v2h-9zM78 136h6v2h-6zM21 140h9v2h-9zM237 140h9v2h-9zM30 142h6v2h-6zM102 142h3v2h-3zM168 142h3v2h-3zM243 142h6v2h-6zM249 144h9v2h-9zM12 148h3v2h-3zM42 148h6v2h-6zM186 148h9v2h-9zM216 148h3v2h-3zM105 150h6v2h-6zM162 150h9v2h-9zM75 152h3v2h-3zM108 152h3v2h-3zM177 152h6v2h-6zM279 152h3v2h-3zM195 154h6v2h-6zM168 156h6v2h-6zM210 156h9v2h-9zM0 158h6v2h-6zM81 158h6v2h-6zM93 158h6v2h-6zM108 158h9v2h-9zM213 158h6v2h-6zM222 158h3v2h-3zM267 158h9v2h-9zM78 160h9v2h-9zM51 162h3v2h-3zM105 162h3v2h-3zM132 162h3v2h-3zM207 162h9v2h-9zM72 164h3v2h-3zM21 166h3v2h-3zM111 166h6v2h-6z"/><path fill="#f1d6fd" d="M3 0h3v2h-3zM45 0h6v2h-6zM78 2h3v2h-3zM231 2h3v2h-3zM15 4h3v2h-3zM69 6h3v2h-3zM114 6h6v2h-6zM228 6h3v2h-3zM6 8h6v2h-6zM66 8h6v2h-6zM138 8h6v2h-6zM156 8h6v2h-6zM282 10h6v2h-6zM105 12h3v2h-3zM114 12h6v2h-6zM261 12h3v2h-3zM168 14h3v2h-3zM24 16h6v2h-6zM12 20h6v2h-6zM33 20h6v2h-6zM90 20h3v2h-3zM237 20h6v2h-6zM156 22h3v2h-3zM177 22h3v2h-3zM189 22h6v2h-6zM75 26h3v2h-3zM228 28h3v2h-3zM81 30h3v2h-3zM216 30h3v2h-3zM282 30h6v2h-6zM90 32h9v2h-9zM108 32h6v2h-6zM111 34h3v2h-3zM123 34h6v2h-6zM147 34h3v2h-3zM186 34h3v2h-3zM99 36h6v2h-6zM0 38h6v2h-6zM93 38h3v2h-3zM198 40h6v2h-6zM237 40h3v2h-3zM96 42h6v2h-6zM180 42h9v2h-9zM195 42h6v2h-6zM234 44h6v2h-6zM276 44h6v2h-6zM30 48h3v2h-3zM42 48h3v2h-3zM177 48h3v2h-3zM210 48h6v2h-6zM81 50h3v2h-3zM144 52h3v2h-3zM150 52h6v2h-6zM177 52h3v2h-3zM183 52h3v2h-3zM222 52h6v2h-6zM21 54h3v2h-3zM66 54h6v2h-6zM114 54h3v2h-3zM216 54h6v2h-6zM42 56h3v2h-3zM231 56h3v2h-3zM279 56h3v2h-3zM156 58h6v2h-6zM216 58h6v2h-6zM15 60h6v2h-6zM24 60h6v2h-6zM150 60h3v2h-3zM243 60h6v2h-6zM96 62h9v2h-9zM111 62h3v2h-3zM12 64h6v2h-6zM93 64h3v2h-3zM177 64h3v2h-3zM57 66h3v2h-3zM261 66h3v2h-3zM192 68h6v2h-6zM210 68h3v2h-3zM66 70h3v2h-3zM246 70h6v2h-6zM3 72h6v2h-6zM120 72h3v2h-3zM126 72h6v2h-6zM36 74h6v2h-6zM159 74h6v2h-6zM279 74h3v2h-3zM42 76h3v2h-3zM189 76h3v2h-3zM219 76h6v2h-6zM30 80h6v2h-6zM102 80h6v2h-6zM243 80h12v2h-12zM261 80h6v2h-6zM198 82h6v2h-6zM267 82h6v2h-6zM48 84h6v2h-6zM69 84h6v2h-6zM81 84h3v2h-3zM276 84h6v2h-6zM39 88h6v2h-6zM51 88h6v2h-6zM156 88h3v2h-3zM48 90h6v2h-6zM165 90h6v2h-6zM9 92h3v2h-3zM18 92h3v2h-3zM42 94h3v2h-3zM99 94h6v2h-6zM126 94h6v2h-6zM51 96h6v2h-6zM183 96h6v2h-6zM30 98h3v2h-3zM249 98h3v2h-3zM267 98h6v2h-6zM60 100h3v2h-3zM87 100h3v2h-3zM126 100h3v2h-3zM189 100h6v2h-6zM225 100h3v2h-3zM198 102h3v2h-3zM231 102h6v2h-6zM39 104h12v2h-12zM63 108h3v2h-3zM135 108h6v2h-6zM186 108h3v2h-3zM84 110h6v2h-6zM123 110h6v2h-6zM18 112h6v2h-6zM237 112h3v2h-3zM270 112h3v2h-3zM45 114h6v2h-6zM63 114h6v2h-6zM78 114h12v2h-12zM180 114h6v2h-6zM228 114h6v2h-6zM57 116h6v2h-6zM252 118h6v2h-6zM48 120h6v2h-6zM168 120h3v2h-3zM201 120h12v2h-12zM78 122h6v2h-6zM216 122h6v2h-6zM255 122h3v2h-3zM30 124h6v2h-6zM279 124h3v2h-3zM3 126h6v2h-6zM54 126h6v2h-6zM69 126h6v2h-6zM36 136h3v2h-3zM66 136h6v2h-6zM267 136h6v2h-6zM72 138h6v2h-6zM201 138h6v2h-6zM273 138h6v2h-6zM36 140h6v2h-6zM117 140h6v2h-6zM159 140h6v2h-6zM213 140h3v2h-3zM228 140h6v2h-6zM273 140h9v2h-9zM36 142h3v2h-3zM129 142h6v2h-6zM252 142h3v2h-3zM87 144h6v2h-6zM234 146h6v2h-6zM69 148h3v2h-3zM129 148h3v2h-3zM138 148h3v2h-3zM39 150h3v2h-3zM99 150h3v2h-3zM111 150h6v2h-6zM132 150h6v2h-6zM15 152h6v2h-6zM69 152h6v2h-6zM135 152h3v2h-3zM108 154h6v2h-6zM135 154h3v2h-3zM249 154h3v2h-3zM120 156h6v2h-6zM183 156h3v2h-3zM222 156h6v2h-6zM15 158h3v2h-3zM30 158h6v2h-6zM87 158h6v2h-6zM105 160h3v2h-3zM258 162h6v2h-6zM189 164h3v2h-3zM45 166h3v2h-3zM252 166h6v2h-6z"/><path fill="#dfd0fd" d="M18 0h6v2h-6zM171 0h6v2h-6zM87 2h6v2h-6zM96 4h3v2h-3zM156 4h6v2h-6zM174 10h6v2h-6zM204 10h6v2h-6zM120 12h6v2h-6zM207 12h3v2h-3zM141 14h6v2h-6zM183 14h3v2h-3zM135 18h6v2h-6zM153 18h12v2h-12zM258 18h3v2h-3zM141 20h3v2h-3zM213 20h6v2h-6zM180 22h3v2h-3zM186 22h3v2h-3zM141 24h6v2h-6zM195 24h6v2h-6zM192 26h6v2h-6zM213 28h6v2h-6zM66 30h6v2h-6zM63 32h6v2h-6zM39 36h3v2h-3zM84 36h6v2h-6zM261 38h6v2h-6zM228 42h3v2h-3zM93 46h6v2h-6zM111 46h6v2h-6zM18 48h6v2h-6zM120 48h6v2h-6zM180 48h3v2h-3zM30 50h3v2h-3zM111 50h6v2h-6zM204 50h6v2h-6zM120 52h6v2h-6zM12 54h3v2h-3zM102 54h6v2h-6zM135 54h6v2h-6zM78 56h6v2h-6zM57 60h6v2h-6zM210 62h3v2h-3zM228 70h3v2h-3zM174 72h3v2h-3zM42 74h3v2h-3zM153 74h6v2h-6zM21 76h3v2h-3zM153 76h3v2h-3zM198 76h3v2h-3zM279 76h6v2h-6zM126 78h6v2h-6zM150 78h6v2h-6zM87 80h6v2h-6zM219 80h6v2h-6zM75 84h6v2h-6zM270 84h3v2h-3zM285 88h3v2h-3zM3 90h3v2h-3zM216 90h3v2h-3zM36 92h3v2h-3zM162 92h6v2h-6zM213 96h6v2h-6zM15 98h6v2h-6zM117 98h3v2h-3zM30 106h6v2h-6zM279 106h6v2h-6zM165 108h3v2h-3zM204 108h3v2h-3zM132 110h3v2h-3zM198 110h3v2h-3zM243 110h6v2h-6zM84 112h3v2h-3zM210 112h3v2h-3zM231 112h3v2h-3zM120 114h6v2h-6zM120 116h6v2h-6zM207 116h6v2h-6zM156 122h3v2h-3zM234 122h6v2h-6zM36 124h6v2h-6zM27 126h6v2h-6zM21 130h3v2h-3zM192 134h6v2h-6zM240 136h6v2h-6zM78 138h6v2h-6zM225 138h3v2h-3zM162 142h3v2h-3zM108 144h6v2h-6zM171 144h3v2h-3zM180 144h6v2h-6zM207 144h6v2h-6zM183 146h3v2h-3zM264 146h6v2h-6zM24 150h3v2h-3zM186 154h6v2h-6zM162 162h6v2h-6zM225 162h3v2h-3zM267 162h3v2h-3zM183 164h3v2h-3z"/><path fill="#c4c1fb" d="M264 4h3v2h-3zM153 6h3v2h-3zM186 8h3v2h-3zM18 10h3v2h-3zM249 14h3v2h-3zM18 24h3v2h-3zM246 26h3v2h-3zM273 34h3v2h-3zM24 36h3v2h-3zM48 36h3v2h-3zM195 44h3v2h-3zM129 46h3v2h-3zM222 46h3v2h-3zM27 48h3v2h-3zM252 50h3v2h-3zM141 52h3v2h-3zM180 52h3v2h-3zM279 54h3v2h-3zM168 58h3v2h-3zM108 60h3v2h-3zM177 60h3v2h-3zM186 60h3v2h-3zM174 62h3v2h-3zM57 68h3v2h-3zM264 68h3v2h-3zM246 82h3v2h-3zM27 94h3v2h-3zM135 94h3v2h-3zM162 94h3v2h-3zM186 104h3v2h-3zM267 108h3v2h-3zM54 110h3v2h-3zM234 112h3v2h-3zM0 114h3v2h-3zM27 114h3v2h-3zM60 114h3v2h-3zM276 114h3v2h-3zM183 116h3v2h-3zM42 120h3v2h-3zM117 120h3v2h-3zM123 120h3v2h-3zM93 124h3v2h-3zM147 124h3v2h-3zM222 142h3v2h-3zM144 146h3v2h-3zM276 146h3v2h-3zM72 150h3v2h-3zM117 150h3v2h-3zM117 154h3v2h-3zM252 154h3v2h-3zM48 156h3v2h-3zM63 158h3v2h-3zM30 160h3v2h-3zM63 164h3v2h-3zM96 166h3v2h-3zM141 166h3v2h-3z"/><path fill="#a3aff7" d="M237 2h3v2h-3zM132 4h3v2h-3zM147 8h3v2h-3zM48 16h3v2h-3zM114 22h3v2h-3zM108 24h3v2h-3zM51 38h3v2h-3zM234 54h3v2h-3zM114 62h3v2h-3zM225 66h3v2h-3zM255 72h3v2h-3zM174 84h3v2h-3zM237 84h3v2h-3zM252 84h3v2h-3zM201 86h3v2h-3zM243 96h3v2h-3zM132 98h3v2h-3zM3 104h3v2h-3zM33 112h3v2h-3zM24 128h3v2h-3zM201 130h3v2h-3zM0 132h3v2h-3zM243 134h3v2h-3zM177 138h3v2h-3zM0 146h3v2h-3zM204 148h3v2h-3zM231 152h3v2h-3zM147 154h3v2h-3z"/></pattern>
<pattern id="pB" width="240" height="270" patternUnits="userSpaceOnUse"><path fill="#cfc8fc" d="M60 0h2v2h-2zM116 0h2v2h-2zM120 0h2v2h-2zM124 0h2v2h-2zM60 2h2v2h-2zM164 2h2v2h-2zM36 6h2v2h-2zM96 6h2v2h-2zM112 6h2v2h-2zM122 6h2v2h-2zM126 6h2v2h-2zM158 6h2v2h-2zM230 6h2v2h-2zM96 8h2v2h-2zM126 8h2v2h-2zM158 8h2v2h-2zM162 8h4v2h-4zM26 10h2v2h-2zM184 10h2v2h-2zM188 10h2v2h-2zM26 12h2v2h-2zM116 12h2v2h-2zM188 12h2v2h-2zM116 14h2v2h-2zM202 14h2v2h-2zM14 16h2v2h-2zM60 16h2v2h-2zM122 16h2v2h-2zM154 16h2v2h-2zM170 16h2v2h-2zM200 16h4v2h-4zM8 18h2v2h-2zM48 18h4v2h-4zM122 18h2v2h-2zM162 18h2v2h-2zM200 18h2v2h-2zM218 18h2v2h-2zM14 20h2v2h-2zM50 20h2v2h-2zM98 20h2v2h-2zM130 22h2v2h-2zM166 22h2v2h-2zM8 24h2v2h-2zM74 24h2v2h-2zM108 24h2v2h-2zM108 26h2v2h-2zM170 26h2v2h-2zM206 26h4v2h-4zM236 26h2v2h-2zM196 28h2v2h-2zM206 28h2v2h-2zM68 30h2v2h-2zM224 30h2v2h-2zM144 34h2v2h-2zM234 34h2v2h-2zM234 36h2v2h-2zM68 38h2v2h-2zM114 38h2v2h-2zM26 40h4v2h-4zM42 40h2v2h-2zM108 40h2v2h-2zM140 40h2v2h-2zM170 40h2v2h-2zM26 42h2v2h-2zM70 44h2v2h-2zM150 44h2v2h-2zM188 44h2v2h-2zM230 44h2v2h-2zM36 46h2v2h-2zM54 46h2v2h-2zM112 46h2v2h-2zM142 46h2v2h-2zM150 46h2v2h-2zM210 46h2v2h-2zM0 48h2v2h-2zM42 48h2v2h-2zM196 48h2v2h-2zM210 48h2v2h-2zM42 50h2v2h-2zM68 50h2v2h-2zM150 50h2v2h-2zM154 52h2v2h-2zM202 52h2v2h-2zM48 54h2v2h-2zM176 54h2v2h-2zM208 54h2v2h-2zM236 54h2v2h-2zM48 56h2v2h-2zM176 56h2v2h-2zM200 56h2v2h-2zM208 56h2v2h-2zM236 56h2v2h-2zM26 58h2v2h-2zM44 58h4v2h-4zM142 58h2v2h-2zM148 58h2v2h-2zM154 58h2v2h-2zM202 58h2v2h-2zM26 60h2v2h-2zM76 62h2v2h-2zM138 62h2v2h-2zM14 64h2v2h-2zM72 64h2v2h-2zM76 64h2v2h-2zM182 64h2v2h-2zM208 66h2v2h-2zM226 66h2v2h-2zM6 68h2v2h-2zM34 68h2v2h-2zM38 68h2v2h-2zM176 68h2v2h-2zM34 70h2v2h-2zM38 70h2v2h-2zM42 70h2v2h-2zM62 70h2v2h-2zM84 70h2v2h-2zM138 70h2v2h-2zM176 70h2v2h-2zM14 72h2v2h-2zM42 72h2v2h-2zM84 72h2v2h-2zM138 72h2v2h-2zM162 72h2v2h-2zM200 72h2v2h-2zM62 74h2v2h-2zM54 78h2v2h-2zM86 78h2v2h-2zM188 78h2v2h-2zM202 78h2v2h-2zM8 80h2v2h-2zM36 80h2v2h-2zM54 80h2v2h-2zM210 80h2v2h-2zM4 82h2v2h-2zM8 82h2v2h-2zM164 82h2v2h-2zM210 82h2v2h-2zM22 84h2v2h-2zM50 84h2v2h-2zM142 84h2v2h-2zM20 86h2v2h-2zM50 86h2v2h-2zM54 86h2v2h-2zM122 86h2v2h-2zM140 86h4v2h-4zM48 88h2v2h-2zM54 88h2v2h-2zM86 88h2v2h-2zM94 88h2v2h-2zM122 88h2v2h-2zM152 88h2v2h-2zM172 88h2v2h-2zM204 88h2v2h-2zM208 88h2v2h-2zM48 90h2v2h-2zM152 90h2v2h-2zM172 90h2v2h-2zM204 90h2v2h-2zM220 90h2v2h-2zM30 92h2v2h-2zM10 96h2v2h-2zM182 96h2v2h-2zM182 98h4v2h-4zM222 98h2v2h-2zM164 100h2v2h-2zM16 102h2v2h-2zM56 102h2v2h-2zM158 102h2v2h-2zM16 104h2v2h-2zM42 104h2v2h-2zM154 104h2v2h-2zM158 104h2v2h-2zM188 104h2v2h-2zM154 106h2v2h-2zM184 106h2v2h-2zM230 108h2v2h-2zM92 110h4v2h-4zM104 110h2v2h-2zM192 110h2v2h-2zM212 110h2v2h-2zM94 112h2v2h-2zM104 112h2v2h-2zM192 112h2v2h-2zM20 114h2v2h-2zM68 114h2v2h-2zM200 114h2v2h-2zM206 114h2v2h-2zM20 116h2v2h-2zM108 116h2v2h-2zM156 116h2v2h-2zM86 118h2v2h-2zM108 118h2v2h-2zM124 120h2v2h-2zM176 120h2v2h-2zM102 122h2v2h-2zM108 122h2v2h-2zM138 122h2v2h-2zM176 122h2v2h-2zM108 124h2v2h-2zM224 124h2v2h-2zM140 126h2v2h-2zM144 126h2v2h-2zM226 128h2v2h-2zM66 130h2v2h-2zM226 130h2v2h-2zM54 132h2v2h-2zM54 134h2v2h-2zM146 134h2v2h-2zM236 134h2v2h-2zM66 136h2v2h-2zM146 136h2v2h-2zM170 136h2v2h-2zM66 138h2v2h-2zM144 138h2v2h-2zM170 138h2v2h-2zM182 138h2v2h-2zM188 138h2v2h-2zM8 140h2v2h-2zM144 140h2v2h-2zM178 140h2v2h-2zM8 142h2v2h-2zM190 142h2v2h-2zM52 144h2v2h-2zM94 144h2v2h-2zM180 144h2v2h-2zM190 144h2v2h-2zM52 146h2v2h-2zM174 148h2v2h-2zM236 148h2v2h-2zM126 150h2v2h-2zM170 150h2v2h-2zM174 150h2v2h-2zM40 152h2v2h-2zM136 152h2v2h-2zM88 154h2v2h-2zM4 156h2v2h-2zM38 156h2v2h-2zM52 156h2v2h-2zM26 158h2v2h-2zM36 158h2v2h-2zM72 158h2v2h-2zM142 158h2v2h-2zM168 158h2v2h-2zM200 158h2v2h-2zM210 158h2v2h-2zM234 158h2v2h-2zM26 160h2v2h-2zM72 160h2v2h-2zM210 160h2v2h-2zM174 162h2v2h-2zM8 166h2v2h-2zM18 166h2v2h-2zM104 166h2v2h-2zM116 166h2v2h-2zM8 168h2v2h-2zM34 168h2v2h-2zM70 168h2v2h-2zM92 168h2v2h-2zM34 170h2v2h-2zM92 170h2v2h-2zM170 170h2v2h-2zM180 172h2v2h-2zM194 172h2v2h-2zM228 172h2v2h-2zM194 174h2v2h-2zM238 174h2v2h-2zM98 176h2v2h-2zM116 176h2v2h-2zM122 176h2v2h-2zM98 178h2v2h-2zM116 178h2v2h-2zM122 178h2v2h-2zM50 182h2v2h-2zM54 182h2v2h-2zM50 184h2v2h-2zM54 184h2v2h-2zM156 184h2v2h-2zM124 186h2v2h-2zM194 186h2v2h-2zM210 186h2v2h-2zM40 188h2v2h-2zM128 188h2v2h-2zM142 188h2v2h-2zM194 188h2v2h-2zM46 190h2v2h-2zM142 190h2v2h-2zM160 190h2v2h-2zM4 192h2v2h-2zM86 192h2v2h-2zM128 192h2v2h-2zM136 192h2v2h-2zM160 192h2v2h-2zM186 196h2v2h-2zM206 196h2v2h-2zM200 198h2v2h-2zM138 200h2v2h-2zM194 200h2v2h-2zM198 200h4v2h-4zM124 202h2v2h-2zM138 202h2v2h-2zM156 202h2v2h-2zM194 202h2v2h-2zM68 204h2v2h-2zM156 204h2v2h-2zM222 204h2v2h-2zM68 206h2v2h-2zM0 208h2v2h-2zM80 208h4v2h-4zM192 208h2v2h-2zM44 210h2v2h-2zM116 210h2v2h-2zM228 210h2v2h-2zM14 212h2v2h-2zM50 212h2v2h-2zM146 212h2v2h-2zM230 212h2v2h-2zM238 212h2v2h-2zM24 214h2v2h-2zM110 214h2v2h-2zM126 214h2v2h-2zM144 214h2v2h-2zM202 214h2v2h-2zM74 216h2v2h-2zM160 216h2v2h-2zM214 216h2v2h-2zM230 216h2v2h-2zM24 218h2v2h-2zM52 218h2v2h-2zM150 218h2v2h-2zM188 218h2v2h-2zM214 218h2v2h-2zM230 218h2v2h-2zM130 220h2v2h-2zM150 220h2v2h-2zM168 220h2v2h-2zM186 220h2v2h-2zM150 222h2v2h-2zM176 222h2v2h-2zM46 224h2v2h-2zM92 224h2v2h-2zM176 224h2v2h-2zM22 226h2v2h-2zM70 226h2v2h-2zM22 228h2v2h-2zM56 228h2v2h-2zM166 228h2v2h-2zM42 230h2v2h-2zM56 230h2v2h-2zM78 230h2v2h-2zM146 230h2v2h-2zM166 230h2v2h-2zM78 232h2v2h-2zM146 232h2v2h-2zM158 232h2v2h-2zM50 234h2v2h-2zM90 234h2v2h-2zM66 236h2v2h-2zM158 236h2v2h-2zM66 238h2v2h-2zM74 238h2v2h-2zM74 240h2v2h-2zM108 240h2v2h-2zM194 240h2v2h-2zM226 240h2v2h-2zM2 242h2v2h-2zM20 242h2v2h-2zM108 242h2v2h-2zM226 242h2v2h-2zM182 244h2v2h-2zM226 244h2v2h-2zM64 246h2v2h-2zM182 246h2v2h-2zM220 246h2v2h-2zM36 248h2v2h-2zM64 248h2v2h-2zM36 250h2v2h-2zM68 254h2v2h-2zM218 254h2v2h-2zM82 256h2v2h-2zM82 258h2v2h-2zM216 258h2v2h-2zM164 260h2v2h-2zM188 260h2v2h-2zM16 262h2v2h-2zM22 262h2v2h-2zM152 262h2v2h-2zM164 262h2v2h-2zM180 264h2v2h-2zM192 264h2v2h-2zM22 266h2v2h-2zM70 266h2v2h-2zM82 266h2v2h-2zM192 266h2v2h-2zM22 268h2v2h-2zM96 268h2v2h-2zM120 268h2v2h-2z"/><path fill="#b2bdfc" d="M2 0h4v2h-4zM112 0h2v2h-2zM128 0h2v2h-2zM150 0h2v2h-2zM168 0h2v2h-2zM4 2h2v2h-2zM118 2h2v2h-2zM46 4h2v2h-2zM92 4h4v2h-4zM162 4h4v2h-4zM218 4h2v2h-2zM24 6h2v2h-2zM40 6h2v2h-2zM50 6h2v2h-2zM162 6h4v2h-4zM172 6h4v2h-4zM218 6h2v2h-2zM0 8h2v2h-2zM40 8h2v2h-2zM8 10h2v2h-2zM120 10h2v2h-2zM8 12h2v2h-2zM64 12h2v2h-2zM134 12h2v2h-2zM170 12h2v2h-2zM178 12h2v2h-2zM170 14h2v2h-2zM54 16h2v2h-2zM104 16h2v2h-2zM214 16h2v2h-2zM32 18h2v2h-2zM214 18h2v2h-2zM28 20h2v2h-2zM210 20h2v2h-2zM12 22h2v2h-2zM76 22h2v2h-2zM210 22h2v2h-2zM12 24h2v2h-2zM138 24h2v2h-2zM10 28h2v2h-2zM68 28h2v2h-2zM80 28h2v2h-2zM80 30h2v2h-2zM12 32h2v2h-2zM26 32h2v2h-2zM44 32h2v2h-2zM184 32h2v2h-2zM224 32h2v2h-2zM122 34h2v2h-2zM60 36h2v2h-2zM104 36h2v2h-2zM132 36h2v2h-2zM226 36h2v2h-2zM230 36h2v2h-2zM44 38h2v2h-2zM60 38h2v2h-2zM92 38h2v2h-2zM126 38h2v2h-2zM132 38h2v2h-2zM226 38h2v2h-2zM102 40h2v2h-2zM172 40h2v2h-2zM78 42h2v2h-2zM102 42h2v2h-2zM172 42h2v2h-2zM182 42h2v2h-2zM38 44h2v2h-2zM74 44h2v2h-2zM154 44h2v2h-2zM6 46h2v2h-2zM64 46h2v2h-2zM32 48h2v2h-2zM84 48h2v2h-2zM204 48h2v2h-2zM0 50h2v2h-2zM62 52h2v2h-2zM16 54h4v2h-4zM212 54h2v2h-2zM18 56h2v2h-2zM62 56h2v2h-2zM102 56h2v2h-2zM60 58h2v2h-2zM70 58h2v2h-2zM102 58h2v2h-2zM158 58h2v2h-2zM184 58h2v2h-2zM218 58h2v2h-2zM56 62h2v2h-2zM90 62h2v2h-2zM62 64h2v2h-2zM112 64h2v2h-2zM220 64h2v2h-2zM54 66h2v2h-2zM112 66h2v2h-2zM220 66h2v2h-2zM10 70h4v2h-4zM66 70h2v2h-2zM152 70h2v2h-2zM222 70h2v2h-2zM46 72h2v2h-2zM50 72h2v2h-2zM4 74h2v2h-2zM46 74h2v2h-2zM186 74h2v2h-2zM196 74h2v2h-2zM4 76h2v2h-2zM26 76h2v2h-2zM80 76h2v2h-2zM84 76h2v2h-2zM94 76h2v2h-2zM182 76h2v2h-2zM222 76h2v2h-2zM4 78h2v2h-2zM80 78h2v2h-2zM150 80h4v2h-4zM196 80h2v2h-2zM206 80h2v2h-2zM80 82h2v2h-2zM150 82h4v2h-4zM196 82h2v2h-2zM36 84h2v2h-2zM68 86h2v2h-2zM98 86h2v2h-2zM126 86h2v2h-2zM154 86h2v2h-2zM158 86h2v2h-2zM208 86h2v2h-2zM98 88h2v2h-2zM102 88h2v2h-2zM154 88h2v2h-2zM236 88h2v2h-2zM102 90h2v2h-2zM166 90h2v2h-2zM170 90h2v2h-2zM236 90h2v2h-2zM128 92h2v2h-2zM170 92h2v2h-2zM206 92h2v2h-2zM76 94h2v2h-2zM84 94h2v2h-2zM98 96h2v2h-2zM198 96h2v2h-2zM54 98h2v2h-2zM98 98h2v2h-2zM8 100h2v2h-2zM32 100h2v2h-2zM90 100h2v2h-2zM138 102h2v2h-2zM28 104h2v2h-2zM28 106h2v2h-2zM86 106h2v2h-2zM130 106h2v2h-2zM52 108h2v2h-2zM86 108h2v2h-2zM130 108h2v2h-2zM150 108h2v2h-2zM168 108h2v2h-2zM184 108h2v2h-2zM32 110h2v2h-2zM86 110h2v2h-2zM150 110h2v2h-2zM184 110h2v2h-2zM32 112h2v2h-2zM154 112h2v2h-2zM118 114h2v2h-2zM72 116h2v2h-2zM150 116h2v2h-2zM20 118h2v2h-2zM28 118h2v2h-2zM64 118h2v2h-2zM72 118h2v2h-2zM98 118h2v2h-2zM150 118h2v2h-2zM8 120h2v2h-2zM202 120h2v2h-2zM8 122h2v2h-2zM162 122h2v2h-2zM60 124h2v2h-2zM60 126h2v2h-2zM78 126h2v2h-2zM200 126h2v2h-2zM12 128h2v2h-2zM20 128h2v2h-2zM116 128h2v2h-2zM144 128h2v2h-2zM116 130h2v2h-2zM214 130h2v2h-2zM14 132h2v2h-2zM30 132h2v2h-2zM34 132h2v2h-2zM218 132h2v2h-2zM34 134h2v2h-2zM136 134h2v2h-2zM152 134h2v2h-2zM112 136h2v2h-2zM142 136h2v2h-2zM152 136h2v2h-2zM92 138h2v2h-2zM154 138h2v2h-2zM220 138h2v2h-2zM54 140h2v2h-2zM230 140h2v2h-2zM10 142h2v2h-2zM28 142h2v2h-2zM230 142h2v2h-2zM10 144h2v2h-2zM42 144h2v2h-2zM48 144h2v2h-2zM58 144h2v2h-2zM76 144h2v2h-2zM48 146h2v2h-2zM94 146h2v2h-2zM188 146h2v2h-2zM198 146h2v2h-2zM82 148h2v2h-2zM148 148h2v2h-2zM188 148h2v2h-2zM208 148h2v2h-2zM188 150h2v2h-2zM214 150h2v2h-2zM232 150h2v2h-2zM58 152h2v2h-2zM124 152h2v2h-2zM214 152h2v2h-2zM58 154h2v2h-2zM150 154h2v2h-2zM164 154h2v2h-2zM234 154h2v2h-2zM74 156h2v2h-2zM154 156h2v2h-2zM96 158h2v2h-2zM226 158h2v2h-2zM96 160h2v2h-2zM36 162h2v2h-2zM238 162h2v2h-2zM36 164h4v2h-4zM38 166h2v2h-2zM42 166h2v2h-2zM158 166h2v2h-2zM168 166h2v2h-2zM218 166h2v2h-2zM42 168h2v2h-2zM102 168h2v2h-2zM158 168h2v2h-2zM218 168h2v2h-2zM86 170h2v2h-2zM158 170h2v2h-2zM200 170h2v2h-2zM204 170h4v2h-4zM66 172h2v2h-2zM204 172h4v2h-4zM66 174h2v2h-2zM118 174h2v2h-2zM122 174h2v2h-2zM126 174h2v2h-2zM152 174h2v2h-2zM160 174h2v2h-2zM14 176h2v2h-2zM78 176h4v2h-4zM118 176h2v2h-2zM124 176h4v2h-4zM132 176h2v2h-2zM152 176h2v2h-2zM18 178h2v2h-2zM64 178h2v2h-2zM80 178h2v2h-2zM124 178h2v2h-2zM18 180h2v2h-2zM176 180h2v2h-2zM208 180h4v2h-4zM96 182h2v2h-2zM114 182h2v2h-2zM120 182h2v2h-2zM208 182h2v2h-2zM96 184h4v2h-4zM114 184h2v2h-2zM146 184h2v2h-2zM224 184h2v2h-2zM148 186h2v2h-2zM190 186h2v2h-2zM150 188h2v2h-2zM40 190h2v2h-2zM36 192h2v2h-2zM78 192h2v2h-2zM120 192h2v2h-2zM114 194h2v2h-2zM120 194h2v2h-2zM148 194h2v2h-2zM58 196h2v2h-2zM4 198h2v2h-2zM58 198h2v2h-2zM172 198h2v2h-2zM176 200h2v2h-2zM210 200h2v2h-2zM0 202h2v2h-2zM40 202h2v2h-2zM62 202h2v2h-2zM88 202h2v2h-2zM210 202h2v2h-2zM40 204h2v2h-2zM210 204h2v2h-2zM44 206h2v2h-2zM194 206h2v2h-2zM28 208h2v2h-2zM58 208h2v2h-2zM98 208h2v2h-2zM162 208h2v2h-2zM194 208h2v2h-2zM238 208h2v2h-2zM58 210h2v2h-2zM82 210h4v2h-4zM134 210h2v2h-2zM162 210h2v2h-2zM226 210h2v2h-2zM60 212h2v2h-2zM84 212h2v2h-2zM134 212h2v2h-2zM20 214h2v2h-2zM86 214h2v2h-2zM164 214h2v2h-2zM220 214h2v2h-2zM234 214h2v2h-2zM20 216h2v2h-2zM44 216h2v2h-2zM88 216h2v2h-2zM22 218h2v2h-2zM44 218h2v2h-2zM60 218h2v2h-2zM98 218h2v2h-2zM120 218h2v2h-2zM146 218h2v2h-2zM162 218h2v2h-2zM42 220h2v2h-2zM60 220h2v2h-2zM124 220h2v2h-2zM190 220h2v2h-2zM222 220h2v2h-2zM18 222h4v2h-4zM40 222h4v2h-4zM124 222h2v2h-2zM158 222h2v2h-2zM190 222h2v2h-2zM236 222h2v2h-2zM40 224h2v2h-2zM74 224h2v2h-2zM38 226h2v2h-2zM202 226h2v2h-2zM38 228h2v2h-2zM46 228h2v2h-2zM202 228h2v2h-2zM40 230h2v2h-2zM70 230h2v2h-2zM80 230h2v2h-2zM138 230h2v2h-2zM4 232h2v2h-2zM26 232h2v2h-2zM70 232h2v2h-2zM120 232h2v2h-2zM152 232h2v2h-2zM62 234h2v2h-2zM124 234h2v2h-2zM128 234h2v2h-2zM4 236h2v2h-2zM28 236h2v2h-2zM124 236h2v2h-2zM160 236h2v2h-2zM170 236h2v2h-2zM184 236h2v2h-2zM28 238h2v2h-2zM76 240h2v2h-2zM128 240h2v2h-2zM146 240h2v2h-2zM98 242h2v2h-2zM128 242h2v2h-2zM98 244h2v2h-2zM198 244h2v2h-2zM238 244h2v2h-2zM36 246h2v2h-2zM148 246h2v2h-2zM192 246h2v2h-2zM238 246h2v2h-2zM66 248h2v2h-2zM148 248h2v2h-2zM66 250h2v2h-2zM70 250h2v2h-2zM84 250h2v2h-2zM130 250h2v2h-2zM204 250h2v2h-2zM58 252h2v2h-2zM70 252h2v2h-2zM84 252h2v2h-2zM110 252h2v2h-2zM138 252h2v2h-2zM204 252h2v2h-2zM218 252h2v2h-2zM60 254h2v2h-2zM110 254h2v2h-2zM138 254h2v2h-2zM192 254h2v2h-2zM230 254h2v2h-2zM24 256h2v2h-2zM60 256h4v2h-4zM74 256h2v2h-2zM94 256h2v2h-2zM192 256h2v2h-2zM230 256h2v2h-2zM4 258h2v2h-2zM24 258h2v2h-2zM62 258h2v2h-2zM94 258h2v2h-2zM172 258h2v2h-2zM192 258h2v2h-2zM220 258h2v2h-2zM226 258h2v2h-2zM98 260h2v2h-2zM220 260h2v2h-2zM30 262h2v2h-2zM88 262h2v2h-2zM206 262h2v2h-2zM30 264h2v2h-2zM70 264h2v2h-2zM88 264h2v2h-2zM122 264h2v2h-2zM168 264h2v2h-2zM38 266h2v2h-2zM142 266h2v2h-2zM166 266h2v2h-2zM200 266h2v2h-2zM2 268h2v2h-2zM38 268h2v2h-2zM112 268h2v2h-2zM128 268h4v2h-4zM150 268h2v2h-2zM200 268h2v2h-2z"/><path fill="#a4b6f9" d="M8 0h2v2h-2zM58 0h2v2h-2zM94 0h2v2h-2zM236 0h2v2h-2zM42 2h2v2h-2zM88 2h2v2h-2zM144 2h2v2h-2zM168 2h2v2h-2zM226 2h2v2h-2zM34 4h2v2h-2zM144 4h2v2h-2zM168 4h2v2h-2zM176 4h2v2h-2zM226 4h2v2h-2zM38 6h2v2h-2zM152 6h2v2h-2zM38 8h2v2h-2zM174 8h2v2h-2zM180 8h2v2h-2zM180 12h2v2h-2zM200 12h2v2h-2zM18 14h2v2h-2zM42 14h2v2h-2zM90 14h2v2h-2zM146 14h2v2h-2zM172 14h2v2h-2zM210 14h2v2h-2zM90 16h2v2h-2zM102 16h2v2h-2zM110 16h2v2h-2zM210 16h2v2h-2zM4 18h2v2h-2zM102 18h2v2h-2zM100 20h2v2h-2zM192 20h2v2h-2zM32 22h2v2h-2zM60 22h2v2h-2zM150 22h2v2h-2zM234 22h2v2h-2zM56 24h2v2h-2zM76 24h2v2h-2zM2 26h2v2h-2zM76 26h2v2h-2zM86 26h2v2h-2zM94 26h2v2h-2zM134 26h2v2h-2zM180 26h2v2h-2zM204 26h2v2h-2zM2 28h2v2h-2zM44 28h2v2h-2zM48 28h2v2h-2zM94 28h2v2h-2zM104 28h2v2h-2zM134 28h2v2h-2zM226 28h2v2h-2zM14 30h2v2h-2zM48 30h2v2h-2zM76 30h2v2h-2zM86 30h2v2h-2zM104 30h2v2h-2zM76 32h2v2h-2zM86 32h2v2h-2zM136 32h2v2h-2zM166 32h2v2h-2zM114 34h2v2h-2zM118 34h2v2h-2zM130 34h2v2h-2zM160 34h2v2h-2zM206 34h2v2h-2zM22 36h2v2h-2zM112 36h4v2h-4zM186 36h2v2h-2zM88 38h2v2h-2zM162 38h2v2h-2zM166 38h2v2h-2zM2 40h2v2h-2zM10 40h2v2h-2zM34 40h2v2h-2zM88 40h2v2h-2zM122 40h2v2h-2zM128 40h2v2h-2zM184 40h2v2h-2zM212 40h2v2h-2zM10 42h2v2h-2zM128 42h2v2h-2zM154 42h2v2h-2zM166 42h2v2h-2zM184 42h2v2h-2zM34 44h2v2h-2zM78 44h2v2h-2zM174 44h2v2h-2zM182 44h2v2h-2zM8 48h2v2h-2zM52 48h2v2h-2zM120 48h2v2h-2zM8 50h2v2h-2zM168 50h2v2h-2zM212 52h2v2h-2zM72 54h2v2h-2zM112 54h2v2h-2zM72 56h2v2h-2zM106 56h2v2h-2zM184 56h2v2h-2zM56 58h2v2h-2zM78 58h2v2h-2zM234 58h2v2h-2zM144 60h2v2h-2zM162 60h2v2h-2zM234 60h2v2h-2zM82 62h2v2h-2zM192 62h2v2h-2zM58 64h2v2h-2zM192 64h2v2h-2zM26 66h2v2h-2zM58 66h2v2h-2zM222 66h2v2h-2zM106 68h2v2h-2zM170 68h2v2h-2zM174 68h2v2h-2zM106 70h2v2h-2zM200 70h2v2h-2zM226 70h2v2h-2zM6 72h2v2h-2zM160 72h2v2h-2zM226 72h2v2h-2zM36 74h2v2h-2zM40 74h2v2h-2zM50 74h2v2h-2zM84 74h2v2h-2zM104 74h2v2h-2zM140 74h2v2h-2zM160 74h2v2h-2zM166 74h2v2h-2zM180 74h2v2h-2zM198 74h2v2h-2zM30 76h2v2h-2zM36 76h2v2h-2zM46 76h2v2h-2zM198 76h2v2h-2zM28 78h4v2h-4zM46 78h2v2h-2zM30 80h2v2h-2zM46 80h2v2h-2zM158 80h2v2h-2zM12 82h2v2h-2zM30 82h2v2h-2zM96 82h2v2h-2zM136 82h2v2h-2zM140 82h2v2h-2zM26 84h2v2h-2zM210 84h2v2h-2zM214 84h2v2h-2zM226 84h2v2h-2zM10 86h2v2h-2zM44 86h2v2h-2zM108 86h2v2h-2zM184 86h2v2h-2zM202 86h2v2h-2zM226 86h2v2h-2zM68 88h2v2h-2zM82 88h2v2h-2zM174 88h2v2h-2zM68 90h2v2h-2zM82 90h2v2h-2zM100 90h2v2h-2zM104 90h2v2h-2zM10 92h2v2h-2zM44 92h2v2h-2zM100 92h2v2h-2zM104 92h2v2h-2zM120 92h2v2h-2zM24 94h2v2h-2zM94 94h2v2h-2zM124 94h2v2h-2zM24 96h2v2h-2zM162 96h2v2h-2zM226 96h2v2h-2zM4 98h2v2h-2zM110 98h2v2h-2zM170 98h2v2h-2zM226 98h2v2h-2zM4 100h2v2h-2zM40 100h2v2h-2zM44 100h2v2h-2zM110 100h2v2h-2zM116 100h4v2h-4zM44 102h2v2h-2zM68 102h2v2h-2zM116 102h2v2h-2zM172 102h2v2h-2zM4 104h2v2h-2zM30 104h2v2h-2zM88 104h2v2h-2zM96 104h2v2h-2zM172 104h2v2h-2zM214 104h2v2h-2zM0 106h2v2h-2zM30 106h2v2h-2zM66 106h2v2h-2zM140 106h2v2h-2zM146 106h2v2h-2zM232 106h2v2h-2zM0 108h2v2h-2zM140 108h2v2h-2zM164 108h2v2h-2zM2 110h2v2h-2zM6 110h4v2h-4zM90 110h2v2h-2zM144 110h2v2h-2zM60 112h2v2h-2zM90 112h4v2h-4zM124 112h2v2h-2zM162 112h2v2h-2zM60 114h2v2h-2zM90 114h2v2h-2zM110 114h2v2h-2zM186 114h2v2h-2zM210 114h2v2h-2zM226 114h2v2h-2zM46 116h2v2h-2zM196 116h2v2h-2zM220 116h2v2h-2zM226 116h2v2h-2zM20 120h2v2h-2zM24 120h2v2h-2zM156 120h2v2h-2zM200 120h2v2h-2zM6 122h2v2h-2zM24 122h2v2h-2zM62 122h2v2h-2zM154 122h2v2h-2zM6 124h2v2h-2zM226 124h2v2h-2zM74 126h2v2h-2zM168 126h2v2h-2zM68 128h2v2h-2zM74 128h2v2h-2zM92 128h2v2h-2zM210 128h2v2h-2zM52 130h2v2h-2zM68 130h2v2h-2zM176 130h2v2h-2zM28 132h2v2h-2zM176 132h2v2h-2zM148 134h2v2h-2zM70 136h2v2h-2zM106 136h2v2h-2zM126 136h2v2h-2zM136 136h2v2h-2zM148 136h2v2h-2zM70 138h2v2h-2zM126 138h2v2h-2zM136 138h2v2h-2zM90 140h2v2h-2zM188 140h2v2h-2zM100 142h2v2h-2zM104 142h2v2h-2zM26 144h2v2h-2zM100 144h2v2h-2zM78 146h2v2h-2zM78 148h2v2h-2zM144 148h2v2h-2zM4 150h2v2h-2zM118 150h2v2h-2zM122 150h2v2h-2zM148 150h2v2h-2zM224 150h2v2h-2zM60 152h2v2h-2zM162 152h2v2h-2zM232 152h2v2h-2zM28 154h2v2h-2zM38 154h2v2h-2zM142 154h2v2h-2zM162 154h2v2h-2zM174 154h2v2h-2zM180 154h2v2h-2zM232 154h2v2h-2zM54 156h2v2h-2zM142 156h2v2h-2zM172 156h2v2h-2zM180 156h2v2h-2zM234 156h2v2h-2zM170 158h2v2h-2zM178 158h2v2h-2zM236 158h2v2h-2zM62 160h2v2h-2zM128 160h2v2h-2zM156 160h2v2h-2zM160 160h2v2h-2zM170 160h2v2h-2zM178 160h2v2h-2zM190 160h2v2h-2zM214 160h2v2h-2zM236 160h2v2h-2zM4 162h2v2h-2zM52 162h2v2h-2zM128 162h2v2h-2zM156 162h2v2h-2zM160 162h2v2h-2zM190 162h2v2h-2zM68 164h2v2h-2zM124 164h2v2h-2zM128 164h2v2h-2zM222 164h2v2h-2zM82 166h2v2h-2zM138 166h2v2h-2zM152 166h2v2h-2zM202 166h2v2h-2zM166 168h2v2h-2zM222 168h2v2h-2zM226 168h2v2h-2zM76 170h2v2h-2zM126 170h2v2h-2zM190 170h2v2h-2zM50 172h2v2h-2zM70 172h2v2h-2zM190 172h2v2h-2zM218 172h2v2h-2zM28 174h2v2h-2zM168 174h2v2h-2zM28 176h2v2h-2zM110 176h2v2h-2zM4 178h2v2h-2zM46 178h2v2h-2zM110 178h2v2h-2zM232 178h2v2h-2zM4 180h2v2h-2zM8 180h2v2h-2zM132 180h4v2h-4zM158 180h2v2h-2zM10 182h2v2h-2zM94 182h2v2h-2zM134 182h2v2h-2zM140 182h2v2h-2zM64 184h2v2h-2zM92 184h2v2h-2zM192 184h2v2h-2zM220 184h2v2h-2zM232 184h2v2h-2zM232 186h2v2h-2zM12 188h2v2h-2zM24 188h2v2h-2zM210 188h2v2h-2zM112 190h2v2h-2zM210 190h2v2h-2zM190 192h2v2h-2zM204 192h2v2h-2zM236 192h2v2h-2zM10 194h2v2h-2zM80 194h2v2h-2zM144 196h2v2h-2zM166 196h2v2h-2zM170 196h2v2h-2zM124 198h2v2h-2zM170 198h2v2h-2zM48 200h2v2h-2zM124 200h2v2h-2zM86 202h2v2h-2zM100 202h2v2h-2zM38 204h2v2h-2zM86 204h2v2h-2zM160 204h2v2h-2zM52 206h2v2h-2zM122 206h2v2h-2zM132 206h2v2h-2zM160 206h2v2h-2zM52 208h2v2h-2zM122 208h2v2h-2zM166 208h2v2h-2zM176 208h2v2h-2zM228 208h2v2h-2zM232 208h2v2h-2zM60 210h2v2h-2zM98 210h2v2h-2zM188 210h2v2h-2zM206 210h2v2h-2zM44 212h2v2h-2zM98 212h2v2h-2zM166 212h2v2h-2zM228 212h2v2h-2zM66 214h2v2h-2zM146 214h2v2h-2zM152 214h2v2h-2zM224 214h2v2h-2zM28 216h2v2h-2zM52 216h2v2h-2zM72 216h2v2h-2zM86 216h2v2h-2zM94 216h2v2h-2zM152 216h2v2h-2zM34 218h2v2h-2zM82 218h2v2h-2zM134 218h2v2h-2zM200 218h2v2h-2zM208 218h2v2h-2zM34 220h2v2h-2zM72 220h2v2h-2zM126 220h2v2h-2zM134 220h2v2h-2zM144 220h2v2h-2zM208 220h2v2h-2zM38 222h2v2h-2zM72 222h2v2h-2zM112 222h2v2h-2zM144 222h2v2h-2zM154 222h2v2h-2zM112 224h2v2h-2zM118 224h2v2h-2zM154 224h2v2h-2zM220 224h2v2h-2zM138 226h2v2h-2zM158 226h2v2h-2zM208 226h2v2h-2zM220 226h2v2h-2zM104 228h4v2h-4zM128 228h2v2h-2zM196 228h2v2h-2zM208 228h2v2h-2zM26 230h2v2h-2zM32 230h2v2h-2zM46 230h2v2h-2zM54 230h2v2h-2zM100 230h2v2h-2zM104 230h2v2h-2zM128 230h2v2h-2zM182 230h2v2h-2zM192 230h2v2h-2zM204 230h2v2h-2zM216 230h2v2h-2zM100 232h2v2h-2zM180 232h4v2h-4zM192 232h2v2h-2zM204 232h2v2h-2zM210 232h2v2h-2zM222 232h2v2h-2zM146 234h2v2h-2zM180 234h2v2h-2zM116 236h2v2h-2zM164 236h2v2h-2zM68 238h2v2h-2zM208 238h2v2h-2zM20 240h2v2h-2zM104 240h2v2h-2zM134 240h2v2h-2zM56 242h2v2h-2zM162 242h2v2h-2zM198 242h2v2h-2zM2 244h2v2h-2zM204 244h2v2h-2zM234 244h2v2h-2zM2 246h2v2h-2zM98 246h2v2h-2zM126 246h4v2h-4zM232 246h2v2h-2zM58 248h2v2h-2zM126 248h2v2h-2zM232 248h2v2h-2zM58 250h2v2h-2zM128 250h2v2h-2zM202 250h2v2h-2zM0 252h2v2h-2zM38 252h2v2h-2zM82 252h2v2h-2zM186 252h2v2h-2zM194 252h2v2h-2zM202 252h2v2h-2zM40 254h2v2h-2zM94 254h2v2h-2zM130 254h2v2h-2zM234 256h2v2h-2zM66 258h2v2h-2zM110 258h4v2h-4zM184 258h2v2h-2zM234 258h2v2h-2zM38 260h2v2h-2zM110 260h6v2h-6zM184 260h2v2h-2zM68 262h2v2h-2zM80 262h2v2h-2zM132 262h2v2h-2zM60 264h2v2h-2zM66 264h4v2h-4zM80 264h2v2h-2zM112 264h2v2h-2zM198 264h2v2h-2zM100 266h2v2h-2zM112 266h2v2h-2zM152 266h2v2h-2zM160 266h2v2h-2zM8 268h2v2h-2zM236 268h2v2h-2z"/><path fill="#96d9fb" d="M156 0h2v2h-2zM208 0h2v2h-2zM138 2h2v2h-2zM156 2h2v2h-2zM166 2h2v2h-2zM138 4h2v2h-2zM200 4h2v2h-2zM190 14h2v2h-2zM86 18h2v2h-2zM190 18h2v2h-2zM176 20h2v2h-2zM190 20h2v2h-2zM110 22h2v2h-2zM174 22h2v2h-2zM52 24h2v2h-2zM78 24h2v2h-2zM110 24h2v2h-2zM176 24h2v2h-2zM52 26h2v2h-2zM78 26h2v2h-2zM124 26h2v2h-2zM164 28h2v2h-2zM210 28h2v2h-2zM130 30h2v2h-2zM18 32h4v2h-4zM150 32h2v2h-2zM200 32h2v2h-2zM238 32h2v2h-2zM102 34h2v2h-2zM150 34h2v2h-2zM200 34h2v2h-2zM238 34h2v2h-2zM18 36h2v2h-2zM102 36h2v2h-2zM122 36h2v2h-2zM162 36h2v2h-2zM216 36h2v2h-2zM18 38h2v2h-2zM86 38h2v2h-2zM216 38h2v2h-2zM82 40h2v2h-2zM86 40h2v2h-2zM104 40h2v2h-2zM134 40h2v2h-2zM192 40h2v2h-2zM32 42h2v2h-2zM82 42h2v2h-2zM192 42h2v2h-2zM212 42h2v2h-2zM222 42h2v2h-2zM2 44h2v2h-2zM106 44h2v2h-2zM110 44h2v2h-2zM212 44h2v2h-2zM222 44h2v2h-2zM106 46h2v2h-2zM110 46h2v2h-2zM4 48h2v2h-2zM212 48h2v2h-2zM78 50h2v2h-2zM122 50h2v2h-2zM36 52h2v2h-2zM2 54h2v2h-2zM36 54h2v2h-2zM64 54h2v2h-2zM74 56h2v2h-2zM74 58h2v2h-2zM40 60h2v2h-2zM210 60h2v2h-2zM0 62h2v2h-2zM104 62h2v2h-2zM0 64h2v2h-2zM36 66h2v2h-2zM236 66h2v2h-2zM86 68h2v2h-2zM200 68h2v2h-2zM86 70h2v2h-2zM126 72h2v2h-2zM74 74h2v2h-2zM74 76h2v2h-2zM124 76h2v2h-2zM0 78h2v2h-2zM124 78h2v2h-2zM22 80h2v2h-2zM52 80h2v2h-2zM22 82h2v2h-2zM68 82h2v2h-2zM72 82h2v2h-2zM116 82h2v2h-2zM206 82h2v2h-2zM68 84h2v2h-2zM128 84h2v2h-2zM94 86h2v2h-2zM156 90h2v2h-2zM110 92h2v2h-2zM110 94h2v2h-2zM200 94h2v2h-2zM60 96h2v2h-2zM108 96h2v2h-2zM10 98h2v2h-2zM50 98h2v2h-2zM60 98h2v2h-2zM108 98h2v2h-2zM50 100h2v2h-2zM228 100h2v2h-2zM86 102h2v2h-2zM130 102h2v2h-2zM170 102h2v2h-2zM204 102h4v2h-4zM130 104h2v2h-2zM20 106h2v2h-2zM106 106h2v2h-2zM192 106h2v2h-2zM228 106h2v2h-2zM238 106h2v2h-2zM20 108h2v2h-2zM166 108h2v2h-2zM192 108h2v2h-2zM20 110h2v2h-2zM142 110h2v2h-2zM6 112h2v2h-2zM86 112h2v2h-2zM142 112h2v2h-2zM182 112h2v2h-2zM204 112h2v2h-2zM6 114h2v2h-2zM204 114h2v2h-2zM32 118h2v2h-2zM100 118h2v2h-2zM182 118h2v2h-2zM100 120h2v2h-2zM54 122h2v2h-2zM136 122h2v2h-2zM34 124h2v2h-2zM54 124h2v2h-2zM90 124h2v2h-2zM24 126h2v2h-2zM90 126h2v2h-2zM118 128h2v2h-2zM170 130h2v2h-2zM88 132h2v2h-2zM28 134h2v2h-2zM70 134h2v2h-2zM28 136h2v2h-2zM218 136h2v2h-2zM148 142h2v2h-2zM216 142h2v2h-2zM148 144h2v2h-2zM66 146h2v2h-2zM234 146h2v2h-2zM30 148h2v2h-2zM194 148h2v2h-2zM200 148h2v2h-2zM234 148h2v2h-2zM44 150h2v2h-2zM194 150h2v2h-2zM200 150h2v2h-2zM8 152h2v2h-2zM64 152h2v2h-2zM136 154h2v2h-2zM188 156h2v2h-2zM42 158h2v2h-2zM42 160h2v2h-2zM212 160h2v2h-2zM220 160h2v2h-2zM48 162h2v2h-2zM68 162h2v2h-2zM104 162h2v2h-2zM212 162h2v2h-2zM224 162h2v2h-2zM48 164h2v2h-2zM104 164h2v2h-2zM214 164h2v2h-2zM192 166h2v2h-2zM238 170h2v2h-2zM12 172h2v2h-2zM214 172h2v2h-2zM214 174h2v2h-2zM70 176h2v2h-2zM148 176h2v2h-2zM16 180h2v2h-2zM2 182h2v2h-2zM40 182h2v2h-2zM112 182h2v2h-2zM112 184h2v2h-2zM84 188h2v2h-2zM116 188h2v2h-2zM148 188h2v2h-2zM10 190h2v2h-2zM58 190h2v2h-2zM148 190h2v2h-2zM154 190h2v2h-2zM180 190h2v2h-2zM10 192h2v2h-2zM58 192h2v2h-2zM214 192h2v2h-2zM28 194h2v2h-2zM162 194h2v2h-2zM214 194h2v2h-2zM122 198h2v2h-2zM136 198h2v2h-2zM2 202h2v2h-2zM2 204h2v2h-2zM138 206h2v2h-2zM174 208h2v2h-2zM210 208h2v2h-2zM170 210h2v2h-2zM28 212h2v2h-2zM38 214h2v2h-2zM114 214h2v2h-2zM38 216h2v2h-2zM50 218h2v2h-2zM106 218h2v2h-2zM160 218h2v2h-2zM24 220h2v2h-2zM48 220h2v2h-2zM106 220h2v2h-2zM160 220h2v2h-2zM202 220h2v2h-2zM210 220h2v2h-2zM216 220h2v2h-2zM22 222h4v2h-4zM48 222h2v2h-2zM202 222h2v2h-2zM210 222h2v2h-2zM22 224h2v2h-2zM142 224h2v2h-2zM146 224h2v2h-2zM126 226h2v2h-2zM146 226h2v2h-2zM126 228h2v2h-2zM42 232h2v2h-2zM92 232h2v2h-2zM138 232h2v2h-2zM212 232h2v2h-2zM18 234h2v2h-2zM76 234h2v2h-2zM174 234h2v2h-2zM182 234h2v2h-2zM18 236h2v2h-2zM74 236h2v2h-2zM182 236h2v2h-2zM104 238h2v2h-2zM162 238h2v2h-2zM8 240h2v2h-2zM190 240h2v2h-2zM206 240h2v2h-2zM8 242h2v2h-2zM132 242h2v2h-2zM190 242h2v2h-2zM20 252h2v2h-2zM150 252h2v2h-2zM206 252h2v2h-2zM20 254h2v2h-2zM160 254h2v2h-2zM204 254h2v2h-2zM22 256h2v2h-2zM42 256h2v2h-2zM86 256h2v2h-2zM22 258h2v2h-2zM86 258h2v2h-2zM156 260h2v2h-2zM156 262h2v2h-2zM168 262h2v2h-2zM0 266h2v2h-2z"/><path fill="#81e4f2" d="M6 4h2v2h-2zM6 6h2v2h-2zM40 10h2v2h-2zM40 12h2v2h-2zM28 14h2v2h-2zM100 14h2v2h-2zM66 16h2v2h-2zM8 20h2v2h-2zM156 20h2v2h-2zM156 22h2v2h-2zM230 22h2v2h-2zM222 24h2v2h-2zM72 30h2v2h-2zM8 34h2v2h-2zM80 34h2v2h-2zM84 36h2v2h-2zM124 36h2v2h-2zM68 46h2v2h-2zM36 48h2v2h-2zM58 48h2v2h-2zM68 48h2v2h-2zM22 50h2v2h-2zM140 50h2v2h-2zM234 54h2v2h-2zM108 56h2v2h-2zM234 56h2v2h-2zM108 58h2v2h-2zM228 66h2v2h-2zM228 68h2v2h-2zM182 70h2v2h-2zM170 74h2v2h-2zM232 76h2v2h-2zM232 78h2v2h-2zM166 80h2v2h-2zM36 86h2v2h-2zM36 88h2v2h-2zM48 92h2v2h-2zM120 94h2v2h-2zM232 96h2v2h-2zM232 98h2v2h-2zM24 100h2v2h-2zM24 102h2v2h-2zM238 102h2v2h-2zM184 104h2v2h-2zM92 106h2v2h-2zM102 108h2v2h-2zM46 110h2v2h-2zM102 110h2v2h-2zM196 110h2v2h-2zM218 110h2v2h-2zM158 112h2v2h-2zM188 114h2v2h-2zM62 116h2v2h-2zM188 116h2v2h-2zM194 122h2v2h-2zM36 124h2v2h-2zM176 126h2v2h-2zM62 128h2v2h-2zM62 130h2v2h-2zM44 136h2v2h-2zM10 138h2v2h-2zM10 140h2v2h-2zM194 140h2v2h-2zM90 142h2v2h-2zM104 144h2v2h-2zM140 144h2v2h-2zM46 146h2v2h-2zM46 148h2v2h-2zM14 152h2v2h-2zM34 152h2v2h-2zM14 154h2v2h-2zM34 154h2v2h-2zM70 154h2v2h-2zM184 166h2v2h-2zM192 176h2v2h-2zM10 186h2v2h-2zM44 188h2v2h-2zM58 188h2v2h-2zM44 190h2v2h-2zM158 190h2v2h-2zM2 192h2v2h-2zM148 192h2v2h-2zM158 192h2v2h-2zM166 192h2v2h-2zM2 194h2v2h-2zM94 194h2v2h-2zM166 194h2v2h-2zM174 196h2v2h-2zM218 198h2v2h-2zM126 200h2v2h-2zM218 200h2v2h-2zM206 206h2v2h-2zM206 208h2v2h-2zM54 210h2v2h-2zM128 210h2v2h-2zM128 212h2v2h-2zM192 214h2v2h-2zM90 216h2v2h-2zM10 222h2v2h-2zM10 224h2v2h-2zM164 224h2v2h-2zM130 232h2v2h-2zM192 248h2v2h-2zM214 252h2v2h-2zM186 254h2v2h-2zM214 254h2v2h-2zM238 254h2v2h-2zM176 256h2v2h-2zM176 258h2v2h-2zM204 262h2v2h-2zM208 268h2v2h-2z"/><path fill="#73e48f" d="M122 2h2v2h-2zM140 2h2v2h-2zM122 4h2v2h-2zM140 4h2v2h-2zM194 8h2v2h-2zM70 16h2v2h-2zM70 18h2v2h-2zM200 26h2v2h-2zM200 28h2v2h-2zM42 30h2v2h-2zM42 32h2v2h-2zM232 36h2v2h-2zM22 48h2v2h-2zM50 48h2v2h-2zM196 50h2v2h-2zM160 52h2v2h-2zM160 54h2v2h-2zM204 56h2v2h-2zM204 58h2v2h-2zM16 88h2v2h-2zM16 90h2v2h-2zM86 90h2v2h-2zM86 92h2v2h-2zM204 92h2v2h-2zM204 94h2v2h-2zM122 120h2v2h-2zM118 130h2v2h-2zM92 132h2v2h-2zM92 134h2v2h-2zM124 138h2v2h-2zM124 140h2v2h-2zM112 152h2v2h-2zM112 154h2v2h-2zM118 156h2v2h-2zM112 164h2v2h-2zM112 166h2v2h-2zM168 224h2v2h-2zM180 242h2v2h-2zM180 244h2v2h-2zM224 252h2v2h-2zM224 254h2v2h-2z"/></pattern>
<pattern id="pR" width="240" height="168" patternUnits="userSpaceOnUse" patternTransform="rotate(15)"><path fill="#ffe8f8" d="M14 0h2v2h-2zM38 0h2v2h-2zM50 0h2v2h-2zM86 0h2v2h-2zM98 0h2v2h-2zM118 0h2v2h-2zM122 0h2v2h-2zM128 0h4v2h-4zM138 0h2v2h-2zM142 0h4v2h-4zM150 0h2v2h-2zM154 0h2v2h-2zM168 0h2v2h-2zM174 0h2v2h-2zM222 0h2v2h-2zM232 0h2v2h-2zM236 0h2v2h-2zM6 2h4v2h-4zM20 2h2v2h-2zM38 2h2v2h-2zM48 2h2v2h-2zM70 2h4v2h-4zM86 2h2v2h-2zM118 2h2v2h-2zM128 2h2v2h-2zM138 2h4v2h-4zM150 2h2v2h-2zM154 2h2v2h-2zM164 2h2v2h-2zM182 2h2v2h-2zM194 2h2v2h-2zM214 2h2v2h-2zM236 2h2v2h-2zM6 4h2v2h-2zM20 4h2v2h-2zM52 4h2v2h-2zM60 4h2v2h-2zM68 4h4v2h-4zM74 4h2v2h-2zM82 4h2v2h-2zM110 4h2v2h-2zM114 4h2v2h-2zM126 4h2v2h-2zM130 4h2v2h-2zM140 4h2v2h-2zM148 4h2v2h-2zM154 4h2v2h-2zM160 4h2v2h-2zM164 4h2v2h-2zM188 4h4v2h-4zM194 4h2v2h-2zM232 4h2v2h-2zM40 6h4v2h-4zM60 6h4v2h-4zM94 6h2v2h-2zM110 6h2v2h-2zM114 6h2v2h-2zM118 6h2v2h-2zM124 6h4v2h-4zM138 6h2v2h-2zM148 6h2v2h-2zM160 6h4v2h-4zM168 6h2v2h-2zM182 6h2v2h-2zM194 6h2v2h-2zM198 6h2v2h-2zM210 6h2v2h-2zM0 8h2v2h-2zM18 8h2v2h-2zM22 8h2v2h-2zM40 8h2v2h-2zM62 8h2v2h-2zM92 8h2v2h-2zM160 8h2v2h-2zM182 8h2v2h-2zM190 8h2v2h-2zM200 8h2v2h-2zM212 8h2v2h-2zM10 10h2v2h-2zM18 10h2v2h-2zM22 10h2v2h-2zM44 10h2v2h-2zM62 10h2v2h-2zM96 10h2v2h-2zM110 10h2v2h-2zM122 10h2v2h-2zM134 10h2v2h-2zM158 10h2v2h-2zM164 10h2v2h-2zM200 10h4v2h-4zM206 10h2v2h-2zM212 10h2v2h-2zM220 10h2v2h-2zM6 12h6v2h-6zM14 12h2v2h-2zM18 12h2v2h-2zM38 12h4v2h-4zM44 12h2v2h-2zM48 12h2v2h-2zM58 12h2v2h-2zM62 12h4v2h-4zM74 12h2v2h-2zM84 12h2v2h-2zM110 12h2v2h-2zM122 12h2v2h-2zM164 12h4v2h-4zM186 12h2v2h-2zM206 12h2v2h-2zM220 12h2v2h-2zM232 12h2v2h-2zM8 14h2v2h-2zM12 14h2v2h-2zM16 14h4v2h-4zM36 14h2v2h-2zM48 14h2v2h-2zM74 14h2v2h-2zM84 14h2v2h-2zM100 14h2v2h-2zM130 14h2v2h-2zM144 14h2v2h-2zM150 14h2v2h-2zM186 14h6v2h-6zM226 14h6v2h-6zM10 16h2v2h-2zM16 16h2v2h-2zM78 16h2v2h-2zM100 16h2v2h-2zM114 16h2v2h-2zM126 16h2v2h-2zM144 16h2v2h-2zM168 16h4v2h-4zM190 16h2v2h-2zM194 16h2v2h-2zM202 16h2v2h-2zM228 16h4v2h-4zM0 18h2v2h-2zM48 18h2v2h-2zM58 18h4v2h-4zM68 18h2v2h-2zM74 18h2v2h-2zM102 18h4v2h-4zM114 18h2v2h-2zM122 18h2v2h-2zM164 18h4v2h-4zM194 18h2v2h-2zM204 18h2v2h-2zM228 18h2v2h-2zM20 20h2v2h-2zM60 20h4v2h-4zM68 20h2v2h-2zM74 20h2v2h-2zM80 20h2v2h-2zM88 20h2v2h-2zM98 20h2v2h-2zM110 20h2v2h-2zM118 20h2v2h-2zM122 20h2v2h-2zM128 20h2v2h-2zM138 20h2v2h-2zM150 20h2v2h-2zM166 20h4v2h-4zM174 20h2v2h-2zM182 20h2v2h-2zM204 20h2v2h-2zM210 20h2v2h-2zM234 20h2v2h-2zM20 22h2v2h-2zM36 22h2v2h-2zM42 22h2v2h-2zM52 22h2v2h-2zM74 22h2v2h-2zM94 22h2v2h-2zM106 22h2v2h-2zM120 22h2v2h-2zM166 22h4v2h-4zM174 22h2v2h-2zM188 22h2v2h-2zM218 22h2v2h-2zM224 22h2v2h-2zM234 22h2v2h-2zM6 24h2v2h-2zM36 24h2v2h-2zM42 24h2v2h-2zM64 24h2v2h-2zM74 24h2v2h-2zM100 24h2v2h-2zM152 24h2v2h-2zM166 24h2v2h-2zM174 24h2v2h-2zM184 24h2v2h-2zM188 24h4v2h-4zM218 24h2v2h-2zM224 24h4v2h-4zM2 26h2v2h-2zM6 26h2v2h-2zM36 26h2v2h-2zM42 26h2v2h-2zM70 26h2v2h-2zM96 26h4v2h-4zM104 26h2v2h-2zM116 26h2v2h-2zM126 26h2v2h-2zM146 26h2v2h-2zM180 26h2v2h-2zM186 26h2v2h-2zM208 26h2v2h-2zM218 26h4v2h-4zM224 26h6v2h-6zM2 28h2v2h-2zM22 28h2v2h-2zM30 28h2v2h-2zM62 28h2v2h-2zM66 28h2v2h-2zM70 28h4v2h-4zM88 28h2v2h-2zM94 28h2v2h-2zM102 28h4v2h-4zM116 28h2v2h-2zM126 28h2v2h-2zM130 28h2v2h-2zM134 28h2v2h-2zM146 28h2v2h-2zM164 28h4v2h-4zM174 28h2v2h-2zM190 28h2v2h-2zM224 28h2v2h-2zM228 28h2v2h-2zM232 28h2v2h-2zM14 30h4v2h-4zM20 30h2v2h-2zM24 30h4v2h-4zM46 30h2v2h-2zM66 30h2v2h-2zM94 30h4v2h-4zM104 30h2v2h-2zM126 30h2v2h-2zM180 30h2v2h-2zM190 30h2v2h-2zM218 30h2v2h-2zM238 30h2v2h-2zM2 32h2v2h-2zM16 32h2v2h-2zM24 32h2v2h-2zM60 32h2v2h-2zM70 32h2v2h-2zM94 32h4v2h-4zM104 32h2v2h-2zM116 32h2v2h-2zM122 32h2v2h-2zM154 32h2v2h-2zM174 32h2v2h-2zM180 32h2v2h-2zM206 32h2v2h-2zM210 32h2v2h-2zM218 32h2v2h-2zM230 32h4v2h-4zM238 32h2v2h-2zM12 34h2v2h-2zM32 34h2v2h-2zM48 34h2v2h-2zM70 34h2v2h-2zM80 34h2v2h-2zM86 34h2v2h-2zM108 34h2v2h-2zM116 34h2v2h-2zM122 34h2v2h-2zM144 34h2v2h-2zM158 34h4v2h-4zM172 34h4v2h-4zM202 34h2v2h-2zM214 34h4v2h-4zM224 34h2v2h-2zM230 34h2v2h-2zM2 36h2v2h-2zM32 36h2v2h-2zM42 36h2v2h-2zM48 36h2v2h-2zM70 36h2v2h-2zM74 36h2v2h-2zM88 36h4v2h-4zM110 36h4v2h-4zM122 36h2v2h-2zM136 36h2v2h-2zM142 36h2v2h-2zM166 36h2v2h-2zM186 36h2v2h-2zM192 36h2v2h-2zM198 36h2v2h-2zM202 36h2v2h-2zM210 36h2v2h-2zM214 36h2v2h-2zM230 36h2v2h-2zM16 38h2v2h-2zM28 38h2v2h-2zM44 38h2v2h-2zM48 38h2v2h-2zM54 38h2v2h-2zM60 38h2v2h-2zM100 38h2v2h-2zM104 38h2v2h-2zM110 38h4v2h-4zM138 38h2v2h-2zM142 38h2v2h-2zM148 38h2v2h-2zM168 38h2v2h-2zM174 38h2v2h-2zM184 38h2v2h-2zM190 38h4v2h-4zM210 38h2v2h-2zM26 40h2v2h-2zM48 40h2v2h-2zM54 40h2v2h-2zM72 40h2v2h-2zM86 40h2v2h-2zM90 40h2v2h-2zM94 40h2v2h-2zM110 40h6v2h-6zM138 40h2v2h-2zM148 40h2v2h-2zM166 40h2v2h-2zM170 40h2v2h-2zM186 40h2v2h-2zM204 40h2v2h-2zM226 40h2v2h-2zM238 40h2v2h-2zM2 42h2v2h-2zM22 42h2v2h-2zM48 42h2v2h-2zM56 42h2v2h-2zM68 42h4v2h-4zM74 42h2v2h-2zM112 42h2v2h-2zM118 42h2v2h-2zM132 42h2v2h-2zM150 42h4v2h-4zM160 42h2v2h-2zM166 42h2v2h-2zM174 42h2v2h-2zM204 42h6v2h-6zM214 42h2v2h-2zM222 42h2v2h-2zM2 44h2v2h-2zM18 44h2v2h-2zM52 44h2v2h-2zM64 44h2v2h-2zM70 44h2v2h-2zM94 44h2v2h-2zM102 44h4v2h-4zM108 44h2v2h-2zM114 44h2v2h-2zM122 44h4v2h-4zM150 44h4v2h-4zM160 44h2v2h-2zM170 44h2v2h-2zM176 44h2v2h-2zM198 44h2v2h-2zM206 44h2v2h-2zM214 44h2v2h-2zM222 44h2v2h-2zM230 44h2v2h-2zM236 44h4v2h-4zM18 46h4v2h-4zM26 46h2v2h-2zM38 46h2v2h-2zM50 46h2v2h-2zM56 46h2v2h-2zM60 46h2v2h-2zM66 46h2v2h-2zM76 46h2v2h-2zM88 46h2v2h-2zM108 46h4v2h-4zM114 46h2v2h-2zM122 46h2v2h-2zM126 46h2v2h-2zM130 46h2v2h-2zM154 46h2v2h-2zM176 46h2v2h-2zM198 46h2v2h-2zM208 46h2v2h-2zM214 46h2v2h-2zM236 46h2v2h-2zM2 48h4v2h-4zM20 48h2v2h-2zM26 48h2v2h-2zM32 48h2v2h-2zM48 48h2v2h-2zM56 48h2v2h-2zM60 48h2v2h-2zM66 48h2v2h-2zM114 48h2v2h-2zM122 48h4v2h-4zM146 48h2v2h-2zM154 48h2v2h-2zM202 48h2v2h-2zM208 48h4v2h-4zM216 48h2v2h-2zM4 50h2v2h-2zM36 50h2v2h-2zM66 50h2v2h-2zM70 50h2v2h-2zM74 50h2v2h-2zM78 50h2v2h-2zM86 50h2v2h-2zM114 50h2v2h-2zM122 50h2v2h-2zM146 50h2v2h-2zM154 50h4v2h-4zM188 50h2v2h-2zM200 50h2v2h-2zM222 50h2v2h-2zM6 52h2v2h-2zM18 52h2v2h-2zM38 52h2v2h-2zM66 52h2v2h-2zM76 52h2v2h-2zM86 52h2v2h-2zM112 52h2v2h-2zM138 52h2v2h-2zM144 52h2v2h-2zM148 52h2v2h-2zM186 52h2v2h-2zM200 52h2v2h-2zM206 52h2v2h-2zM6 54h2v2h-2zM44 54h4v2h-4zM58 54h2v2h-2zM96 54h2v2h-2zM144 54h2v2h-2zM192 54h4v2h-4zM14 56h2v2h-2zM22 56h4v2h-4zM36 56h2v2h-2zM44 56h4v2h-4zM56 56h2v2h-2zM74 56h2v2h-2zM78 56h2v2h-2zM102 56h2v2h-2zM130 56h2v2h-2zM138 56h2v2h-2zM150 56h2v2h-2zM154 56h2v2h-2zM180 56h2v2h-2zM194 56h2v2h-2zM210 56h4v2h-4zM222 56h2v2h-2zM228 56h2v2h-2zM232 56h2v2h-2zM6 58h2v2h-2zM14 58h2v2h-2zM22 58h2v2h-2zM28 58h2v2h-2zM34 58h2v2h-2zM38 58h2v2h-2zM56 58h4v2h-4zM76 58h2v2h-2zM88 58h2v2h-2zM94 58h2v2h-2zM108 58h2v2h-2zM138 58h4v2h-4zM150 58h2v2h-2zM154 58h2v2h-2zM166 58h4v2h-4zM194 58h2v2h-2zM200 58h2v2h-2zM212 58h2v2h-2zM228 58h2v2h-2zM232 58h2v2h-2zM6 60h2v2h-2zM18 60h2v2h-2zM38 60h2v2h-2zM50 60h2v2h-2zM66 60h2v2h-2zM96 60h2v2h-2zM102 60h4v2h-4zM108 60h2v2h-2zM148 60h2v2h-2zM154 60h2v2h-2zM168 60h2v2h-2zM184 60h2v2h-2zM192 60h2v2h-2zM198 60h2v2h-2zM214 60h2v2h-2zM228 60h2v2h-2zM76 62h2v2h-2zM96 62h2v2h-2zM104 62h2v2h-2zM132 62h2v2h-2zM164 62h2v2h-2zM172 62h4v2h-4zM178 62h2v2h-2zM192 62h2v2h-2zM202 62h4v2h-4zM208 62h2v2h-2zM214 62h4v2h-4zM222 62h2v2h-2zM228 62h2v2h-2zM2 64h4v2h-4zM12 64h2v2h-2zM34 64h2v2h-2zM38 64h2v2h-2zM52 64h2v2h-2zM56 64h2v2h-2zM68 64h2v2h-2zM76 64h2v2h-2zM84 64h2v2h-2zM88 64h2v2h-2zM104 64h2v2h-2zM108 64h2v2h-2zM132 64h2v2h-2zM162 64h2v2h-2zM168 64h2v2h-2zM172 64h4v2h-4zM192 64h2v2h-2zM208 64h2v2h-2zM216 64h2v2h-2zM222 64h4v2h-4zM236 64h2v2h-2zM2 66h2v2h-2zM10 66h4v2h-4zM52 66h2v2h-2zM66 66h4v2h-4zM88 66h2v2h-2zM92 66h2v2h-2zM100 66h2v2h-2zM118 66h2v2h-2zM128 66h2v2h-2zM144 66h2v2h-2zM154 66h2v2h-2zM178 66h2v2h-2zM204 66h2v2h-2zM210 66h2v2h-2zM214 66h4v2h-4zM238 66h2v2h-2zM24 68h2v2h-2zM30 68h4v2h-4zM58 68h2v2h-2zM66 68h2v2h-2zM102 68h4v2h-4zM118 68h2v2h-2zM130 68h2v2h-2zM140 68h2v2h-2zM154 68h2v2h-2zM160 68h2v2h-2zM184 68h2v2h-2zM188 68h2v2h-2zM206 68h2v2h-2zM210 68h2v2h-2zM214 68h2v2h-2zM232 68h2v2h-2zM20 70h2v2h-2zM24 70h2v2h-2zM58 70h2v2h-2zM70 70h2v2h-2zM82 70h2v2h-2zM104 70h2v2h-2zM118 70h2v2h-2zM130 70h2v2h-2zM140 70h2v2h-2zM148 70h2v2h-2zM154 70h2v2h-2zM158 70h2v2h-2zM164 70h4v2h-4zM188 70h4v2h-4zM196 70h4v2h-4zM208 70h2v2h-2zM220 70h2v2h-2zM226 70h2v2h-2zM232 70h2v2h-2zM20 72h2v2h-2zM30 72h2v2h-2zM56 72h2v2h-2zM64 72h2v2h-2zM82 72h2v2h-2zM104 72h2v2h-2zM108 72h2v2h-2zM114 72h2v2h-2zM128 72h2v2h-2zM148 72h4v2h-4zM154 72h2v2h-2zM164 72h2v2h-2zM176 72h2v2h-2zM196 72h2v2h-2zM202 72h2v2h-2zM212 72h4v2h-4zM220 72h2v2h-2zM238 72h2v2h-2zM2 74h2v2h-2zM6 74h2v2h-2zM22 74h2v2h-2zM28 74h6v2h-6zM54 74h4v2h-4zM62 74h4v2h-4zM68 74h2v2h-2zM76 74h2v2h-2zM80 74h2v2h-2zM92 74h4v2h-4zM114 74h2v2h-2zM122 74h2v2h-2zM126 74h2v2h-2zM138 74h2v2h-2zM150 74h2v2h-2zM154 74h2v2h-2zM170 74h2v2h-2zM178 74h2v2h-2zM182 74h2v2h-2zM186 74h2v2h-2zM192 74h2v2h-2zM196 74h2v2h-2zM208 74h2v2h-2zM230 74h2v2h-2zM238 74h2v2h-2zM4 76h4v2h-4zM14 76h2v2h-2zM22 76h4v2h-4zM34 76h4v2h-4zM52 76h4v2h-4zM72 76h2v2h-2zM76 76h2v2h-2zM94 76h2v2h-2zM106 76h6v2h-6zM116 76h2v2h-2zM128 76h2v2h-2zM138 76h2v2h-2zM160 76h2v2h-2zM182 76h2v2h-2zM192 76h2v2h-2zM206 76h4v2h-4zM220 76h2v2h-2zM228 76h2v2h-2zM232 76h2v2h-2zM2 78h6v2h-6zM16 78h2v2h-2zM24 78h2v2h-2zM50 78h4v2h-4zM58 78h2v2h-2zM70 78h2v2h-2zM104 78h8v2h-8zM116 78h2v2h-2zM132 78h2v2h-2zM140 78h2v2h-2zM160 78h2v2h-2zM170 78h2v2h-2zM178 78h2v2h-2zM190 78h2v2h-2zM204 78h2v2h-2zM232 78h2v2h-2zM4 80h4v2h-4zM30 80h2v2h-2zM68 80h4v2h-4zM106 80h2v2h-2zM116 80h2v2h-2zM150 80h2v2h-2zM170 80h2v2h-2zM178 80h2v2h-2zM204 80h2v2h-2zM228 80h2v2h-2zM232 80h2v2h-2zM4 82h4v2h-4zM14 82h2v2h-2zM20 82h2v2h-2zM40 82h2v2h-2zM52 82h2v2h-2zM106 82h2v2h-2zM110 82h2v2h-2zM116 82h2v2h-2zM142 82h2v2h-2zM150 82h2v2h-2zM164 82h2v2h-2zM170 82h2v2h-2zM184 82h2v2h-2zM216 82h2v2h-2zM228 82h4v2h-4zM238 82h2v2h-2zM6 84h4v2h-4zM26 84h2v2h-2zM46 84h2v2h-2zM72 84h4v2h-4zM80 84h2v2h-2zM88 84h2v2h-2zM96 84h2v2h-2zM100 84h2v2h-2zM110 84h2v2h-2zM116 84h2v2h-2zM132 84h2v2h-2zM140 84h2v2h-2zM156 84h2v2h-2zM164 84h2v2h-2zM184 84h2v2h-2zM198 84h2v2h-2zM212 84h2v2h-2zM216 84h2v2h-2zM222 84h2v2h-2zM226 84h2v2h-2zM230 84h2v2h-2zM6 86h2v2h-2zM22 86h2v2h-2zM50 86h2v2h-2zM72 86h2v2h-2zM80 86h2v2h-2zM106 86h2v2h-2zM110 86h4v2h-4zM140 86h2v2h-2zM154 86h2v2h-2zM184 86h2v2h-2zM198 86h2v2h-2zM208 86h2v2h-2zM212 86h2v2h-2zM238 86h2v2h-2zM14 88h2v2h-2zM22 88h2v2h-2zM32 88h2v2h-2zM40 88h2v2h-2zM70 88h2v2h-2zM86 88h2v2h-2zM106 88h2v2h-2zM110 88h2v2h-2zM114 88h2v2h-2zM150 88h2v2h-2zM184 88h2v2h-2zM204 88h2v2h-2zM208 88h4v2h-4zM224 88h2v2h-2zM234 88h2v2h-2zM14 90h2v2h-2zM20 90h2v2h-2zM28 90h2v2h-2zM44 90h2v2h-2zM76 90h2v2h-2zM80 90h2v2h-2zM86 90h2v2h-2zM90 90h2v2h-2zM94 90h2v2h-2zM98 90h2v2h-2zM114 90h2v2h-2zM136 90h2v2h-2zM148 90h4v2h-4zM178 90h2v2h-2zM208 90h2v2h-2zM234 90h2v2h-2zM10 92h6v2h-6zM28 92h2v2h-2zM36 92h2v2h-2zM70 92h2v2h-2zM80 92h2v2h-2zM94 92h2v2h-2zM100 92h2v2h-2zM110 92h2v2h-2zM122 92h2v2h-2zM136 92h2v2h-2zM148 92h2v2h-2zM168 92h2v2h-2zM188 92h2v2h-2zM194 92h2v2h-2zM224 92h2v2h-2zM230 92h2v2h-2zM8 94h2v2h-2zM16 94h2v2h-2zM26 94h4v2h-4zM36 94h2v2h-2zM54 94h2v2h-2zM70 94h2v2h-2zM74 94h2v2h-2zM78 94h4v2h-4zM86 94h2v2h-2zM104 94h2v2h-2zM114 94h2v2h-2zM122 94h2v2h-2zM156 94h2v2h-2zM160 94h2v2h-2zM172 94h4v2h-4zM194 94h4v2h-4zM212 94h2v2h-2zM224 94h2v2h-2zM230 94h2v2h-2zM8 96h2v2h-2zM12 96h2v2h-2zM16 96h2v2h-2zM20 96h2v2h-2zM52 96h6v2h-6zM90 96h2v2h-2zM94 96h2v2h-2zM104 96h2v2h-2zM114 96h4v2h-4zM154 96h4v2h-4zM166 96h2v2h-2zM174 96h2v2h-2zM182 96h2v2h-2zM196 96h2v2h-2zM212 96h2v2h-2zM236 96h2v2h-2zM12 98h2v2h-2zM30 98h2v2h-2zM70 98h2v2h-2zM100 98h2v2h-2zM108 98h2v2h-2zM174 98h2v2h-2zM182 98h2v2h-2zM186 98h2v2h-2zM196 98h2v2h-2zM212 98h2v2h-2zM234 98h2v2h-2zM2 100h4v2h-4zM12 100h2v2h-2zM32 100h2v2h-2zM60 100h2v2h-2zM82 100h2v2h-2zM100 100h2v2h-2zM104 100h2v2h-2zM110 100h2v2h-2zM128 100h2v2h-2zM158 100h2v2h-2zM166 100h2v2h-2zM182 100h2v2h-2zM196 100h2v2h-2zM208 100h2v2h-2zM228 100h2v2h-2zM238 100h2v2h-2zM10 102h4v2h-4zM42 102h2v2h-2zM50 102h2v2h-2zM60 102h2v2h-2zM70 102h4v2h-4zM92 102h2v2h-2zM100 102h2v2h-2zM104 102h2v2h-2zM114 102h2v2h-2zM156 102h2v2h-2zM182 102h2v2h-2zM190 102h2v2h-2zM210 102h2v2h-2zM218 102h2v2h-2zM230 102h2v2h-2zM238 102h2v2h-2zM8 104h2v2h-2zM32 104h2v2h-2zM40 104h2v2h-2zM64 104h2v2h-2zM70 104h2v2h-2zM92 104h4v2h-4zM98 104h2v2h-2zM104 104h2v2h-2zM112 104h4v2h-4zM126 104h2v2h-2zM164 104h2v2h-2zM176 104h2v2h-2zM190 104h6v2h-6zM200 104h6v2h-6zM228 104h4v2h-4zM12 106h2v2h-2zM28 106h2v2h-2zM46 106h2v2h-2zM58 106h2v2h-2zM64 106h2v2h-2zM82 106h2v2h-2zM96 106h2v2h-2zM102 106h2v2h-2zM130 106h2v2h-2zM140 106h2v2h-2zM152 106h2v2h-2zM166 106h4v2h-4zM176 106h2v2h-2zM194 106h6v2h-6zM202 106h2v2h-2zM222 106h2v2h-2zM232 106h2v2h-2zM238 106h2v2h-2zM12 108h2v2h-2zM20 108h2v2h-2zM34 108h2v2h-2zM56 108h6v2h-6zM66 108h4v2h-4zM90 108h2v2h-2zM100 108h4v2h-4zM106 108h2v2h-2zM140 108h2v2h-2zM156 108h2v2h-2zM172 108h2v2h-2zM188 108h2v2h-2zM198 108h2v2h-2zM202 108h2v2h-2zM212 108h2v2h-2zM232 108h2v2h-2zM238 108h2v2h-2zM48 110h2v2h-2zM58 110h2v2h-2zM68 110h2v2h-2zM86 110h2v2h-2zM112 110h4v2h-4zM122 110h4v2h-4zM138 110h2v2h-2zM146 110h2v2h-2zM158 110h2v2h-2zM188 110h2v2h-2zM192 110h2v2h-2zM196 110h2v2h-2zM2 112h2v2h-2zM32 112h2v2h-2zM42 112h4v2h-4zM64 112h2v2h-2zM72 112h2v2h-2zM76 112h2v2h-2zM112 112h2v2h-2zM120 112h2v2h-2zM124 112h2v2h-2zM128 112h2v2h-2zM144 112h4v2h-4zM154 112h2v2h-2zM160 112h2v2h-2zM172 112h2v2h-2zM188 112h2v2h-2zM194 112h2v2h-2zM4 114h2v2h-2zM10 114h2v2h-2zM32 114h4v2h-4zM44 114h4v2h-4zM54 114h2v2h-2zM64 114h2v2h-2zM76 114h2v2h-2zM86 114h2v2h-2zM146 114h2v2h-2zM182 114h2v2h-2zM188 114h2v2h-2zM212 114h4v2h-4zM230 114h2v2h-2zM234 114h2v2h-2zM16 116h2v2h-2zM34 116h2v2h-2zM68 116h4v2h-4zM76 116h2v2h-2zM82 116h2v2h-2zM86 116h2v2h-2zM164 116h2v2h-2zM168 116h2v2h-2zM172 116h2v2h-2zM180 116h2v2h-2zM184 116h4v2h-4zM200 116h2v2h-2zM204 116h2v2h-2zM234 116h2v2h-2zM0 118h2v2h-2zM6 118h2v2h-2zM16 118h2v2h-2zM44 118h2v2h-2zM80 118h2v2h-2zM96 118h2v2h-2zM102 118h2v2h-2zM106 118h2v2h-2zM116 118h2v2h-2zM126 118h2v2h-2zM144 118h4v2h-4zM160 118h6v2h-6zM186 118h4v2h-4zM198 118h2v2h-2zM202 118h4v2h-4zM216 118h2v2h-2zM236 118h2v2h-2zM0 120h4v2h-4zM12 120h2v2h-2zM16 120h2v2h-2zM24 120h2v2h-2zM30 120h2v2h-2zM44 120h2v2h-2zM52 120h2v2h-2zM80 120h2v2h-2zM114 120h2v2h-2zM126 120h2v2h-2zM144 120h2v2h-2zM164 120h2v2h-2zM172 120h4v2h-4zM188 120h2v2h-2zM198 120h2v2h-2zM202 120h2v2h-2zM208 120h2v2h-2zM226 120h2v2h-2zM0 122h2v2h-2zM20 122h6v2h-6zM32 122h2v2h-2zM50 122h2v2h-2zM54 122h2v2h-2zM92 122h2v2h-2zM126 122h2v2h-2zM142 122h2v2h-2zM150 122h2v2h-2zM184 122h2v2h-2zM198 122h2v2h-2zM208 122h2v2h-2zM234 122h2v2h-2zM0 124h2v2h-2zM6 124h2v2h-2zM10 124h2v2h-2zM18 124h6v2h-6zM36 124h2v2h-2zM40 124h2v2h-2zM50 124h6v2h-6zM76 124h2v2h-2zM80 124h2v2h-2zM92 124h2v2h-2zM106 124h2v2h-2zM116 124h2v2h-2zM130 124h4v2h-4zM144 124h2v2h-2zM150 124h2v2h-2zM170 124h2v2h-2zM178 124h2v2h-2zM190 124h2v2h-2zM196 124h4v2h-4zM208 124h4v2h-4zM234 124h2v2h-2zM0 126h2v2h-2zM4 126h2v2h-2zM18 126h2v2h-2zM22 126h2v2h-2zM30 126h2v2h-2zM48 126h2v2h-2zM54 126h2v2h-2zM58 126h2v2h-2zM72 126h2v2h-2zM76 126h2v2h-2zM116 126h2v2h-2zM146 126h2v2h-2zM150 126h4v2h-4zM170 126h2v2h-2zM184 126h2v2h-2zM188 126h4v2h-4zM194 126h4v2h-4zM200 126h2v2h-2zM18 128h2v2h-2zM30 128h2v2h-2zM36 128h2v2h-2zM58 128h2v2h-2zM72 128h2v2h-2zM102 128h2v2h-2zM110 128h2v2h-2zM124 128h2v2h-2zM128 128h2v2h-2zM138 128h2v2h-2zM142 128h2v2h-2zM146 128h2v2h-2zM150 128h2v2h-2zM194 128h2v2h-2zM200 128h2v2h-2zM206 128h2v2h-2zM210 128h4v2h-4zM42 130h2v2h-2zM64 130h2v2h-2zM78 130h2v2h-2zM88 130h2v2h-2zM96 130h2v2h-2zM102 130h2v2h-2zM106 130h2v2h-2zM116 130h2v2h-2zM124 130h4v2h-4zM142 130h6v2h-6zM188 130h4v2h-4zM206 130h2v2h-2zM222 130h2v2h-2zM26 132h2v2h-2zM62 132h2v2h-2zM70 132h2v2h-2zM90 132h2v2h-2zM134 132h2v2h-2zM142 132h6v2h-6zM152 132h2v2h-2zM164 132h2v2h-2zM184 132h2v2h-2zM12 134h2v2h-2zM26 134h2v2h-2zM34 134h4v2h-4zM44 134h2v2h-2zM50 134h2v2h-2zM58 134h2v2h-2zM88 134h2v2h-2zM98 134h2v2h-2zM102 134h2v2h-2zM110 134h2v2h-2zM132 134h4v2h-4zM146 134h2v2h-2zM194 134h2v2h-2zM210 134h2v2h-2zM214 134h2v2h-2zM12 136h2v2h-2zM18 136h2v2h-2zM22 136h4v2h-4zM28 136h2v2h-2zM42 136h4v2h-4zM58 136h2v2h-2zM80 136h2v2h-2zM88 136h2v2h-2zM100 136h6v2h-6zM132 136h2v2h-2zM172 136h2v2h-2zM180 136h2v2h-2zM4 138h2v2h-2zM18 138h2v2h-2zM22 138h4v2h-4zM28 138h2v2h-2zM54 138h2v2h-2zM58 138h4v2h-4zM70 138h2v2h-2zM82 138h2v2h-2zM118 138h2v2h-2zM168 138h2v2h-2zM196 138h6v2h-6zM210 138h4v2h-4zM218 138h2v2h-2zM224 138h2v2h-2zM238 138h2v2h-2zM4 140h2v2h-2zM12 140h4v2h-4zM18 140h4v2h-4zM52 140h2v2h-2zM60 140h2v2h-2zM66 140h6v2h-6zM120 140h2v2h-2zM134 140h2v2h-2zM150 140h2v2h-2zM164 140h2v2h-2zM168 140h2v2h-2zM178 140h2v2h-2zM206 140h2v2h-2zM216 140h4v2h-4zM224 140h2v2h-2zM232 140h2v2h-2zM20 142h4v2h-4zM52 142h2v2h-2zM58 142h2v2h-2zM64 142h2v2h-2zM68 142h2v2h-2zM90 142h2v2h-2zM100 142h2v2h-2zM140 142h2v2h-2zM144 142h2v2h-2zM160 142h2v2h-2zM168 142h4v2h-4zM178 142h4v2h-4zM186 142h2v2h-2zM206 142h2v2h-2zM212 142h2v2h-2zM216 142h4v2h-4zM226 142h2v2h-2zM22 144h2v2h-2zM30 144h2v2h-2zM52 144h2v2h-2zM58 144h2v2h-2zM64 144h2v2h-2zM84 144h2v2h-2zM90 144h2v2h-2zM108 144h2v2h-2zM122 144h2v2h-2zM126 144h2v2h-2zM148 144h2v2h-2zM178 144h2v2h-2zM218 144h2v2h-2zM16 146h2v2h-2zM58 146h4v2h-4zM88 146h2v2h-2zM108 146h2v2h-2zM114 146h4v2h-4zM126 146h2v2h-2zM132 146h2v2h-2zM138 146h2v2h-2zM148 146h2v2h-2zM176 146h4v2h-4zM184 146h2v2h-2zM214 146h2v2h-2zM230 146h2v2h-2zM236 146h2v2h-2zM14 148h2v2h-2zM26 148h2v2h-2zM46 148h2v2h-2zM56 148h2v2h-2zM74 148h2v2h-2zM84 148h2v2h-2zM102 148h2v2h-2zM110 148h2v2h-2zM116 148h2v2h-2zM130 148h2v2h-2zM146 148h2v2h-2zM172 148h2v2h-2zM176 148h2v2h-2zM214 148h4v2h-4zM236 148h2v2h-2zM0 150h2v2h-2zM12 150h2v2h-2zM26 150h2v2h-2zM42 150h2v2h-2zM68 150h2v2h-2zM74 150h2v2h-2zM94 150h2v2h-2zM106 150h2v2h-2zM118 150h2v2h-2zM126 150h2v2h-2zM130 150h2v2h-2zM136 150h2v2h-2zM160 150h2v2h-2zM184 150h2v2h-2zM198 150h2v2h-2zM216 150h2v2h-2zM238 150h2v2h-2zM12 152h2v2h-2zM24 152h2v2h-2zM30 152h2v2h-2zM36 152h4v2h-4zM52 152h2v2h-2zM58 152h2v2h-2zM62 152h8v2h-8zM72 152h2v2h-2zM78 152h2v2h-2zM84 152h2v2h-2zM92 152h2v2h-2zM112 152h2v2h-2zM126 152h2v2h-2zM132 152h2v2h-2zM136 152h2v2h-2zM140 152h2v2h-2zM160 152h4v2h-4zM172 152h2v2h-2zM180 152h2v2h-2zM222 152h2v2h-2zM24 154h2v2h-2zM40 154h4v2h-4zM46 154h2v2h-2zM52 154h2v2h-2zM64 154h4v2h-4zM78 154h2v2h-2zM84 154h2v2h-2zM94 154h2v2h-2zM110 154h4v2h-4zM124 154h2v2h-2zM144 154h2v2h-2zM162 154h2v2h-2zM166 154h2v2h-2zM172 154h2v2h-2zM176 154h2v2h-2zM180 154h2v2h-2zM196 154h2v2h-2zM204 154h2v2h-2zM222 154h2v2h-2zM228 154h6v2h-6zM2 156h2v2h-2zM64 156h2v2h-2zM68 156h2v2h-2zM88 156h2v2h-2zM96 156h2v2h-2zM106 156h2v2h-2zM112 156h2v2h-2zM116 156h2v2h-2zM120 156h2v2h-2zM128 156h2v2h-2zM136 156h2v2h-2zM154 156h2v2h-2zM164 156h2v2h-2zM170 156h2v2h-2zM196 156h2v2h-2zM204 156h4v2h-4zM214 156h2v2h-2zM226 156h2v2h-2zM230 156h2v2h-2zM62 158h4v2h-4zM72 158h2v2h-2zM88 158h2v2h-2zM100 158h2v2h-2zM110 158h2v2h-2zM120 158h2v2h-2zM128 158h2v2h-2zM134 158h4v2h-4zM164 158h2v2h-2zM170 158h2v2h-2zM178 158h2v2h-2zM188 158h2v2h-2zM214 158h4v2h-4zM2 160h2v2h-2zM32 160h2v2h-2zM40 160h2v2h-2zM62 160h2v2h-2zM74 160h4v2h-4zM90 160h4v2h-4zM96 160h2v2h-2zM100 160h4v2h-4zM118 160h2v2h-2zM142 160h2v2h-2zM150 160h2v2h-2zM172 160h2v2h-2zM194 160h2v2h-2zM216 160h2v2h-2zM228 160h2v2h-2zM24 162h4v2h-4zM40 162h2v2h-2zM72 162h6v2h-6zM80 162h2v2h-2zM100 162h2v2h-2zM106 162h2v2h-2zM118 162h2v2h-2zM172 162h2v2h-2zM182 162h2v2h-2zM204 162h2v2h-2zM26 164h2v2h-2zM30 164h2v2h-2zM38 164h2v2h-2zM46 164h2v2h-2zM50 164h2v2h-2zM80 164h2v2h-2zM84 164h2v2h-2zM100 164h2v2h-2zM104 164h4v2h-4zM122 164h2v2h-2zM128 164h2v2h-2zM134 164h2v2h-2zM146 164h2v2h-2zM164 164h2v2h-2zM204 164h2v2h-2zM214 164h2v2h-2zM4 166h2v2h-2zM22 166h2v2h-2zM32 166h2v2h-2zM50 166h2v2h-2zM62 166h4v2h-4zM70 166h2v2h-2zM86 166h2v2h-2zM100 166h2v2h-2zM128 166h2v2h-2zM134 166h2v2h-2zM142 166h2v2h-2zM150 166h2v2h-2zM158 166h2v2h-2zM168 166h2v2h-2zM174 166h2v2h-2zM180 166h2v2h-2zM228 166h2v2h-2zM238 166h2v2h-2z"/><path fill="#fadafa" d="M36 0h2v2h-2zM92 0h2v2h-2zM100 0h2v2h-2zM220 0h2v2h-2zM10 2h2v2h-2zM32 2h2v2h-2zM92 2h2v2h-2zM106 2h2v2h-2zM136 2h2v2h-2zM178 2h2v2h-2zM200 2h2v2h-2zM216 2h2v2h-2zM220 2h2v2h-2zM228 2h2v2h-2zM32 4h2v2h-2zM144 4h2v2h-2zM156 4h2v2h-2zM192 4h2v2h-2zM32 6h2v2h-2zM56 6h2v2h-2zM66 6h2v2h-2zM96 6h2v2h-2zM102 6h2v2h-2zM106 6h2v2h-2zM144 6h2v2h-2zM150 6h4v2h-4zM214 6h2v2h-2zM236 6h2v2h-2zM14 8h2v2h-2zM28 8h2v2h-2zM32 8h2v2h-2zM56 8h2v2h-2zM66 8h2v2h-2zM78 8h2v2h-2zM96 8h2v2h-2zM150 8h4v2h-4zM192 8h2v2h-2zM214 8h2v2h-2zM16 10h2v2h-2zM106 10h2v2h-2zM150 10h2v2h-2zM178 10h2v2h-2zM192 10h2v2h-2zM216 10h2v2h-2zM228 10h2v2h-2zM16 12h2v2h-2zM56 12h2v2h-2zM96 12h2v2h-2zM106 12h2v2h-2zM178 12h2v2h-2zM192 12h4v2h-4zM198 12h2v2h-2zM208 12h2v2h-2zM216 12h2v2h-2zM68 14h2v2h-2zM152 14h2v2h-2zM194 14h2v2h-2zM198 14h2v2h-2zM20 16h2v2h-2zM40 16h2v2h-2zM118 16h2v2h-2zM156 16h2v2h-2zM26 18h2v2h-2zM72 18h2v2h-2zM82 18h2v2h-2zM118 18h2v2h-2zM128 18h2v2h-2zM136 18h2v2h-2zM150 18h2v2h-2zM156 18h2v2h-2zM180 18h2v2h-2zM184 18h2v2h-2zM200 18h2v2h-2zM216 18h2v2h-2zM18 20h2v2h-2zM38 20h2v2h-2zM50 20h2v2h-2zM66 20h2v2h-2zM72 20h2v2h-2zM82 20h2v2h-2zM114 20h2v2h-2zM136 20h2v2h-2zM160 20h2v2h-2zM164 20h2v2h-2zM184 20h2v2h-2zM200 20h2v2h-2zM232 20h2v2h-2zM8 22h2v2h-2zM50 22h2v2h-2zM54 22h2v2h-2zM96 22h4v2h-4zM114 22h2v2h-2zM124 22h2v2h-2zM160 22h2v2h-2zM164 22h2v2h-2zM212 22h2v2h-2zM216 22h2v2h-2zM8 24h2v2h-2zM24 24h2v2h-2zM98 24h2v2h-2zM154 24h2v2h-2zM158 24h2v2h-2zM212 24h2v2h-2zM24 26h2v2h-2zM38 26h2v2h-2zM78 26h2v2h-2zM114 26h2v2h-2zM164 26h2v2h-2zM204 26h2v2h-2zM222 26h2v2h-2zM38 28h2v2h-2zM48 28h2v2h-2zM52 28h2v2h-2zM58 28h2v2h-2zM98 28h2v2h-2zM114 28h2v2h-2zM140 28h2v2h-2zM216 28h2v2h-2zM222 28h2v2h-2zM52 30h2v2h-2zM140 30h2v2h-2zM154 30h2v2h-2zM162 30h4v2h-4zM200 30h2v2h-2zM216 30h2v2h-2zM12 32h2v2h-2zM74 32h2v2h-2zM126 32h2v2h-2zM150 32h2v2h-2zM164 32h2v2h-2zM192 32h2v2h-2zM200 32h2v2h-2zM126 34h2v2h-2zM134 34h2v2h-2zM150 34h2v2h-2zM84 36h2v2h-2zM106 36h2v2h-2zM152 36h4v2h-4zM232 36h2v2h-2zM238 36h2v2h-2zM26 38h2v2h-2zM56 38h2v2h-2zM84 38h2v2h-2zM130 38h2v2h-2zM140 38h2v2h-2zM152 38h2v2h-2zM228 38h2v2h-2zM232 38h4v2h-4zM238 38h2v2h-2zM6 40h2v2h-2zM40 40h2v2h-2zM46 40h2v2h-2zM68 40h2v2h-2zM100 40h2v2h-2zM140 40h2v2h-2zM156 40h2v2h-2zM194 40h2v2h-2zM210 40h2v2h-2zM220 40h2v2h-2zM232 40h2v2h-2zM6 42h2v2h-2zM46 42h2v2h-2zM76 42h2v2h-2zM100 42h2v2h-2zM178 42h2v2h-2zM194 42h4v2h-4zM210 42h2v2h-2zM228 42h2v2h-2zM30 44h2v2h-2zM38 44h2v2h-2zM166 44h2v2h-2zM196 44h2v2h-2zM208 44h2v2h-2zM92 46h2v2h-2zM150 46h2v2h-2zM166 46h2v2h-2zM194 46h2v2h-2zM10 48h2v2h-2zM18 48h2v2h-2zM92 48h2v2h-2zM108 48h2v2h-2zM150 48h2v2h-2zM190 48h2v2h-2zM194 48h2v2h-2zM214 48h2v2h-2zM236 48h4v2h-4zM18 50h2v2h-2zM38 50h2v2h-2zM100 50h2v2h-2zM108 50h2v2h-2zM178 50h2v2h-2zM190 50h2v2h-2zM238 50h2v2h-2zM100 52h2v2h-2zM120 52h2v2h-2zM126 52h4v2h-4zM184 52h2v2h-2zM194 52h2v2h-2zM226 52h2v2h-2zM30 54h2v2h-2zM60 54h2v2h-2zM70 54h2v2h-2zM118 54h2v2h-2zM126 54h2v2h-2zM158 54h2v2h-2zM182 54h2v2h-2zM30 56h2v2h-2zM60 56h2v2h-2zM110 56h2v2h-2zM126 56h2v2h-2zM74 58h2v2h-2zM98 58h2v2h-2zM110 58h2v2h-2zM170 58h4v2h-4zM176 58h2v2h-2zM198 58h2v2h-2zM88 60h2v2h-2zM170 60h2v2h-2zM236 60h4v2h-4zM2 62h2v2h-2zM38 62h2v2h-2zM50 62h2v2h-2zM56 62h2v2h-2zM88 62h2v2h-2zM150 62h2v2h-2zM184 62h2v2h-2zM196 62h2v2h-2zM42 64h2v2h-2zM50 64h2v2h-2zM110 64h2v2h-2zM128 64h2v2h-2zM142 64h2v2h-2zM214 64h2v2h-2zM226 64h2v2h-2zM22 66h2v2h-2zM26 66h2v2h-2zM42 66h2v2h-2zM76 66h2v2h-2zM188 66h2v2h-2zM232 66h2v2h-2zM22 68h2v2h-2zM26 68h4v2h-4zM50 68h2v2h-2zM76 68h2v2h-2zM94 68h2v2h-2zM164 68h2v2h-2zM50 70h2v2h-2zM76 70h2v2h-2zM86 70h2v2h-2zM92 70h2v2h-2zM152 70h2v2h-2zM204 70h2v2h-2zM18 72h2v2h-2zM26 72h2v2h-2zM34 72h2v2h-2zM66 72h2v2h-2zM94 72h2v2h-2zM152 72h2v2h-2zM172 72h2v2h-2zM66 74h2v2h-2zM70 74h2v2h-2zM102 74h2v2h-2zM148 74h2v2h-2zM172 74h2v2h-2zM226 74h2v2h-2zM70 76h2v2h-2zM80 76h2v2h-2zM102 76h2v2h-2zM122 76h2v2h-2zM156 76h2v2h-2zM188 76h2v2h-2zM198 76h2v2h-2zM224 76h2v2h-2zM12 78h2v2h-2zM30 78h2v2h-2zM34 78h2v2h-2zM80 78h2v2h-2zM118 78h2v2h-2zM122 78h2v2h-2zM200 78h2v2h-2zM216 78h2v2h-2zM20 80h2v2h-2zM74 80h2v2h-2zM118 80h2v2h-2zM126 80h2v2h-2zM192 80h2v2h-2zM216 80h2v2h-2zM226 80h2v2h-2zM236 80h2v2h-2zM54 82h4v2h-4zM86 82h2v2h-2zM126 82h2v2h-2zM136 82h2v2h-2zM172 82h2v2h-2zM192 82h2v2h-2zM236 82h2v2h-2zM20 84h2v2h-2zM86 84h2v2h-2zM120 84h2v2h-2zM168 84h2v2h-2zM36 86h2v2h-2zM42 86h2v2h-2zM74 86h2v2h-2zM120 86h4v2h-4zM126 86h2v2h-2zM144 86h2v2h-2zM152 86h2v2h-2zM168 86h4v2h-4zM28 88h2v2h-2zM44 88h2v2h-2zM64 88h2v2h-2zM84 88h2v2h-2zM104 88h2v2h-2zM122 88h2v2h-2zM180 88h2v2h-2zM200 88h2v2h-2zM220 88h2v2h-2zM18 90h2v2h-2zM40 90h2v2h-2zM64 90h2v2h-2zM172 90h2v2h-2zM180 90h2v2h-2zM200 90h2v2h-2zM222 90h2v2h-2zM48 92h2v2h-2zM86 92h2v2h-2zM162 92h2v2h-2zM172 92h2v2h-2zM196 92h2v2h-2zM212 92h2v2h-2zM226 92h2v2h-2zM234 92h2v2h-2zM2 94h2v2h-2zM50 94h2v2h-2zM72 94h2v2h-2zM100 94h2v2h-2zM48 96h4v2h-4zM120 96h2v2h-2zM192 96h2v2h-2zM4 98h2v2h-2zM38 98h2v2h-2zM48 98h2v2h-2zM62 98h2v2h-2zM134 98h2v2h-2zM142 98h2v2h-2zM158 98h2v2h-2zM184 98h2v2h-2zM38 100h2v2h-2zM142 100h2v2h-2zM168 100h2v2h-2zM222 100h2v2h-2zM142 102h2v2h-2zM168 102h2v2h-2zM178 102h2v2h-2zM198 102h2v2h-2zM24 104h2v2h-2zM42 104h2v2h-2zM154 104h2v2h-2zM182 104h2v2h-2zM188 104h2v2h-2zM24 106h2v2h-2zM94 106h2v2h-2zM114 106h2v2h-2zM138 106h2v2h-2zM142 106h2v2h-2zM182 106h2v2h-2zM188 106h2v2h-2zM192 106h2v2h-2zM224 106h2v2h-2zM40 108h2v2h-2zM94 108h2v2h-2zM144 108h2v2h-2zM178 108h2v2h-2zM192 108h2v2h-2zM104 110h2v2h-2zM144 110h2v2h-2zM168 110h2v2h-2zM20 112h2v2h-2zM30 112h2v2h-2zM62 112h2v2h-2zM104 112h2v2h-2zM166 112h2v2h-2zM30 114h2v2h-2zM114 114h2v2h-2zM152 114h2v2h-2zM164 114h2v2h-2zM194 114h2v2h-2zM228 114h2v2h-2zM4 116h2v2h-2zM50 116h2v2h-2zM66 116h2v2h-2zM120 116h2v2h-2zM126 116h2v2h-2zM156 116h2v2h-2zM194 116h2v2h-2zM230 116h2v2h-2zM64 118h4v2h-4zM88 118h2v2h-2zM108 118h2v2h-2zM118 118h4v2h-4zM134 118h4v2h-4zM156 118h2v2h-2zM168 118h2v2h-2zM230 118h2v2h-2zM6 120h2v2h-2zM64 120h2v2h-2zM82 120h2v2h-2zM88 120h2v2h-2zM96 120h2v2h-2zM136 120h2v2h-2zM146 120h2v2h-2zM230 120h2v2h-2zM70 122h2v2h-2zM220 122h2v2h-2zM230 122h2v2h-2zM70 124h2v2h-2zM78 124h2v2h-2zM136 124h2v2h-2zM156 124h2v2h-2zM20 126h2v2h-2zM46 126h2v2h-2zM62 126h2v2h-2zM156 126h2v2h-2zM172 126h2v2h-2zM226 126h2v2h-2zM8 128h2v2h-2zM20 128h2v2h-2zM24 128h2v2h-2zM38 128h4v2h-4zM60 128h2v2h-2zM80 128h2v2h-2zM164 128h2v2h-2zM12 130h2v2h-2zM18 130h2v2h-2zM38 130h4v2h-4zM60 130h2v2h-2zM82 130h4v2h-4zM136 130h2v2h-2zM202 130h2v2h-2zM6 132h2v2h-2zM130 132h2v2h-2zM136 132h2v2h-2zM192 132h2v2h-2zM198 132h2v2h-2zM202 132h2v2h-2zM40 134h2v2h-2zM130 134h2v2h-2zM140 134h2v2h-2zM152 134h2v2h-2zM198 134h2v2h-2zM206 134h2v2h-2zM34 136h2v2h-2zM40 136h2v2h-2zM46 136h2v2h-2zM68 136h2v2h-2zM150 136h2v2h-2zM164 136h2v2h-2zM186 136h2v2h-2zM0 138h2v2h-2zM26 138h2v2h-2zM68 138h2v2h-2zM146 138h2v2h-2zM164 138h2v2h-2zM214 138h2v2h-2zM230 138h2v2h-2zM2 140h2v2h-2zM26 140h2v2h-2zM38 140h2v2h-2zM104 140h2v2h-2zM146 140h2v2h-2zM190 140h2v2h-2zM196 140h2v2h-2zM220 140h2v2h-2zM38 142h2v2h-2zM96 142h2v2h-2zM104 142h2v2h-2zM120 142h2v2h-2zM124 142h2v2h-2zM132 142h2v2h-2zM154 142h2v2h-2zM172 142h2v2h-2zM196 142h2v2h-2zM70 144h2v2h-2zM96 144h2v2h-2zM120 144h2v2h-2zM128 144h2v2h-2zM132 144h2v2h-2zM140 144h2v2h-2zM164 144h2v2h-2zM172 144h2v2h-2zM180 144h2v2h-2zM194 144h2v2h-2zM206 144h2v2h-2zM50 146h2v2h-2zM62 146h2v2h-2zM82 146h2v2h-2zM86 146h2v2h-2zM110 146h2v2h-2zM128 146h2v2h-2zM140 146h2v2h-2zM152 146h2v2h-2zM164 146h2v2h-2zM194 146h2v2h-2zM204 146h2v2h-2zM238 146h2v2h-2zM32 148h2v2h-2zM50 148h2v2h-2zM62 148h2v2h-2zM92 148h2v2h-2zM118 148h4v2h-4zM144 148h2v2h-2zM164 148h2v2h-2zM208 148h4v2h-4zM238 148h2v2h-2zM14 150h4v2h-4zM66 150h2v2h-2zM82 150h2v2h-2zM120 150h2v2h-2zM154 150h4v2h-4zM178 150h2v2h-2zM218 150h2v2h-2zM10 152h2v2h-2zM32 152h2v2h-2zM108 152h2v2h-2zM146 152h2v2h-2zM154 152h2v2h-2zM168 152h2v2h-2zM178 152h2v2h-2zM212 152h2v2h-2zM218 152h2v2h-2zM10 154h2v2h-2zM60 154h2v2h-2zM142 154h2v2h-2zM152 154h2v2h-2zM168 154h2v2h-2zM10 156h2v2h-2zM32 156h2v2h-2zM124 156h2v2h-2zM142 156h2v2h-2zM150 156h4v2h-4zM166 156h2v2h-2zM176 156h2v2h-2zM184 156h2v2h-2zM26 158h2v2h-2zM32 158h2v2h-2zM116 158h2v2h-2zM124 158h2v2h-2zM150 158h2v2h-2zM166 158h2v2h-2zM184 158h2v2h-2zM36 160h2v2h-2zM42 160h2v2h-2zM66 160h2v2h-2zM84 160h2v2h-2zM104 160h2v2h-2zM206 160h2v2h-2zM36 162h2v2h-2zM42 162h2v2h-2zM50 162h2v2h-2zM82 162h2v2h-2zM104 162h2v2h-2zM116 162h2v2h-2zM150 162h4v2h-4zM10 164h2v2h-2zM48 164h2v2h-2zM82 164h2v2h-2zM116 164h2v2h-2zM124 164h2v2h-2zM176 164h2v2h-2zM198 164h2v2h-2zM36 166h2v2h-2zM72 166h2v2h-2zM124 166h2v2h-2zM130 166h2v2h-2zM140 166h2v2h-2zM176 166h2v2h-2zM198 166h2v2h-2z"/><path fill="#efcefd" d="M8 0h2v2h-2zM40 0h2v2h-2zM146 0h2v2h-2zM146 2h2v2h-2zM38 4h2v2h-2zM38 6h2v2h-2zM46 6h2v2h-2zM218 6h2v2h-2zM46 8h2v2h-2zM72 8h2v2h-2zM84 8h2v2h-2zM158 8h2v2h-2zM72 10h2v2h-2zM84 10h2v2h-2zM36 12h2v2h-2zM66 12h2v2h-2zM102 14h2v2h-2zM6 16h2v2h-2zM36 16h2v2h-2zM58 16h2v2h-2zM70 16h2v2h-2zM184 16h2v2h-2zM6 18h4v2h-4zM108 18h2v2h-2zM146 18h2v2h-2zM168 18h2v2h-2zM224 18h2v2h-2zM0 20h2v2h-2zM30 20h2v2h-2zM100 20h2v2h-2zM108 20h2v2h-2zM146 20h2v2h-2zM152 20h2v2h-2zM224 20h2v2h-2zM44 22h2v2h-2zM128 22h2v2h-2zM152 22h2v2h-2zM180 22h2v2h-2zM204 22h2v2h-2zM76 24h2v2h-2zM94 24h2v2h-2zM132 24h2v2h-2zM176 24h2v2h-2zM202 24h2v2h-2zM32 26h2v2h-2zM84 26h2v2h-2zM90 26h2v2h-2zM94 26h2v2h-2zM122 26h2v2h-2zM136 26h2v2h-2zM176 26h2v2h-2zM200 26h2v2h-2zM4 28h2v2h-2zM84 28h2v2h-2zM122 28h2v2h-2zM136 28h2v2h-2zM212 28h2v2h-2zM4 30h2v2h-2zM112 30h2v2h-2zM150 30h2v2h-2zM206 30h2v2h-2zM212 30h2v2h-2zM232 30h2v2h-2zM8 32h2v2h-2zM20 34h2v2h-2zM152 34h2v2h-2zM182 34h2v2h-2zM28 36h2v2h-2zM34 36h2v2h-2zM50 36h2v2h-2zM96 36h2v2h-2zM100 36h2v2h-2zM126 36h2v2h-2zM216 36h2v2h-2zM34 38h2v2h-2zM216 38h2v2h-2zM236 38h2v2h-2zM74 40h2v2h-2zM118 40h2v2h-2zM144 40h2v2h-2zM214 40h2v2h-2zM236 40h2v2h-2zM86 42h2v2h-2zM176 42h2v2h-2zM80 44h2v2h-2zM86 44h2v2h-2zM200 44h2v2h-2zM80 46h2v2h-2zM124 46h2v2h-2zM42 48h2v2h-2zM88 48h2v2h-2zM106 48h2v2h-2zM42 50h2v2h-2zM166 50h2v2h-2zM42 52h2v2h-2zM166 52h2v2h-2zM212 52h2v2h-2zM156 54h2v2h-2zM190 54h2v2h-2zM212 54h4v2h-4zM224 54h2v2h-2zM112 56h2v2h-2zM156 56h2v2h-2zM234 56h2v2h-2zM112 58h2v2h-2zM178 58h2v2h-2zM42 60h2v2h-2zM194 60h2v2h-2zM122 62h2v2h-2zM194 62h2v2h-2zM30 64h2v2h-2zM78 64h2v2h-2zM178 64h2v2h-2zM230 64h2v2h-2zM30 66h2v2h-2zM74 66h2v2h-2zM230 66h2v2h-2zM220 68h2v2h-2zM236 68h2v2h-2zM106 70h2v2h-2zM116 70h2v2h-2zM88 72h2v2h-2zM90 74h2v2h-2zM100 74h2v2h-2zM106 74h2v2h-2zM214 74h2v2h-2zM2 76h2v2h-2zM60 76h2v2h-2zM100 76h2v2h-2zM214 76h2v2h-2zM238 76h2v2h-2zM60 78h2v2h-2zM82 78h2v2h-2zM100 78h2v2h-2zM128 78h2v2h-2zM238 78h2v2h-2zM86 80h2v2h-2zM128 80h2v2h-2zM120 82h2v2h-2zM156 82h2v2h-2zM234 82h2v2h-2zM12 84h2v2h-2zM62 84h2v2h-2zM124 84h2v2h-2zM138 84h2v2h-2zM148 84h2v2h-2zM234 84h2v2h-2zM62 86h2v2h-2zM124 86h2v2h-2zM134 86h2v2h-2zM148 86h2v2h-2zM156 86h2v2h-2zM218 86h2v2h-2zM156 88h2v2h-2zM186 88h2v2h-2zM196 88h2v2h-2zM24 90h2v2h-2zM38 90h2v2h-2zM84 90h2v2h-2zM88 90h2v2h-2zM112 90h2v2h-2zM186 90h2v2h-2zM196 90h2v2h-2zM4 92h2v2h-2zM22 92h2v2h-2zM30 92h2v2h-2zM38 92h2v2h-2zM98 92h2v2h-2zM154 94h2v2h-2zM202 94h2v2h-2zM160 96h2v2h-2zM208 96h2v2h-2zM28 98h2v2h-2zM96 98h2v2h-2zM160 98h2v2h-2zM208 98h2v2h-2zM96 100h2v2h-2zM226 100h2v2h-2zM126 102h2v2h-2zM150 102h2v2h-2zM196 102h2v2h-2zM226 102h2v2h-2zM218 104h2v2h-2zM226 104h2v2h-2zM226 106h2v2h-2zM86 108h2v2h-2zM174 108h2v2h-2zM126 110h2v2h-2zM174 110h2v2h-2zM206 112h2v2h-2zM26 114h2v2h-2zM70 114h2v2h-2zM74 114h2v2h-2zM82 114h2v2h-2zM90 114h2v2h-2zM96 114h2v2h-2zM108 114h2v2h-2zM206 114h4v2h-4zM232 114h2v2h-2zM10 116h2v2h-2zM26 116h2v2h-2zM96 116h2v2h-2zM208 116h2v2h-2zM10 118h2v2h-2zM62 118h2v2h-2zM70 118h2v2h-2zM114 118h2v2h-2zM148 120h2v2h-2zM184 120h2v2h-2zM200 120h2v2h-2zM78 122h2v2h-2zM212 122h2v2h-2zM82 124h2v2h-2zM110 124h2v2h-2zM212 124h2v2h-2zM16 126h2v2h-2zM206 126h2v2h-2zM62 128h2v2h-2zM118 128h2v2h-2zM130 128h2v2h-2zM22 130h2v2h-2zM62 130h2v2h-2zM118 130h2v2h-2zM150 130h2v2h-2zM110 132h2v2h-2zM168 132h2v2h-2zM204 132h2v2h-2zM30 134h2v2h-2zM66 134h2v2h-2zM168 134h2v2h-2zM238 134h2v2h-2zM66 136h2v2h-2zM168 136h2v2h-2zM236 138h2v2h-2zM82 140h2v2h-2zM142 140h2v2h-2zM142 142h2v2h-2zM148 142h2v2h-2zM0 144h2v2h-2zM12 144h2v2h-2zM106 144h2v2h-2zM0 146h2v2h-2zM24 146h4v2h-4zM74 146h2v2h-2zM104 146h2v2h-2zM18 148h2v2h-2zM36 150h2v2h-2zM144 150h2v2h-2zM166 150h2v2h-2zM202 150h2v2h-2zM54 152h2v2h-2zM142 152h2v2h-2zM220 152h2v2h-2zM20 154h2v2h-2zM54 154h2v2h-2zM130 154h2v2h-2zM136 154h2v2h-2zM198 154h2v2h-2zM14 156h2v2h-2zM130 156h2v2h-2zM198 156h2v2h-2zM228 156h2v2h-2zM14 158h2v2h-2zM44 158h2v2h-2zM44 160h2v2h-2zM146 160h2v2h-2zM178 160h2v2h-2zM12 162h2v2h-2zM146 162h2v2h-2zM176 162h4v2h-4zM192 162h2v2h-2zM222 162h2v2h-2zM6 164h2v2h-2zM138 164h2v2h-2zM168 164h2v2h-2zM192 164h2v2h-2zM40 166h2v2h-2zM98 166h2v2h-2z"/><path fill="#d6c7fd" d="M0 0h2v2h-2zM28 0h2v2h-2zM16 2h2v2h-2zM58 4h2v2h-2zM236 4h2v2h-2zM20 6h2v2h-2zM92 6h2v2h-2zM138 8h2v2h-2zM12 10h2v2h-2zM102 10h2v2h-2zM168 12h2v2h-2zM108 14h2v2h-2zM210 14h2v2h-2zM2 16h2v2h-2zM206 16h2v2h-2zM154 18h2v2h-2zM0 22h4v2h-4zM60 22h2v2h-2zM104 22h2v2h-2zM130 22h2v2h-2zM44 24h2v2h-2zM86 24h2v2h-2zM168 24h2v2h-2zM14 26h2v2h-2zM42 28h2v2h-2zM22 30h2v2h-2zM26 32h2v2h-2zM84 32h2v2h-2zM152 32h2v2h-2zM154 34h2v2h-2zM14 38h2v2h-2zM222 38h2v2h-2zM160 40h2v2h-2zM188 46h2v2h-2zM82 48h2v2h-2zM110 48h2v2h-2zM32 50h2v2h-2zM68 50h2v2h-2zM204 52h2v2h-2zM178 54h2v2h-2zM26 58h2v2h-2zM70 58h2v2h-2zM206 58h2v2h-2zM210 58h2v2h-2zM222 58h2v2h-2zM122 60h2v2h-2zM80 64h2v2h-2zM164 64h2v2h-2zM202 66h2v2h-2zM54 68h2v2h-2zM70 68h2v2h-2zM100 68h2v2h-2zM28 70h2v2h-2zM182 70h2v2h-2zM52 74h2v2h-2zM78 74h2v2h-2zM184 74h2v2h-2zM66 78h2v2h-2zM228 78h2v2h-2zM56 80h2v2h-2zM102 80h2v2h-2zM212 82h2v2h-2zM30 84h2v2h-2zM228 86h2v2h-2zM0 88h2v2h-2zM96 88h2v2h-2zM54 90h2v2h-2zM202 90h2v2h-2zM170 92h2v2h-2zM188 94h2v2h-2zM2 96h2v2h-2zM82 96h2v2h-2zM10 98h2v2h-2zM66 98h2v2h-2zM78 98h2v2h-2zM92 98h2v2h-2zM176 98h2v2h-2zM10 100h2v2h-2zM102 100h2v2h-2zM116 100h2v2h-2zM184 102h2v2h-2zM50 104h2v2h-2zM102 104h2v2h-2zM132 104h2v2h-2zM220 104h2v2h-2zM186 108h2v2h-2zM204 108h2v2h-2zM82 112h2v2h-2zM106 112h2v2h-2zM120 114h2v2h-2zM42 116h2v2h-2zM104 116h2v2h-2zM188 116h2v2h-2zM92 120h2v2h-2zM196 122h2v2h-2zM126 124h2v2h-2zM36 126h2v2h-2zM88 126h2v2h-2zM56 130h2v2h-2zM92 130h2v2h-2zM118 134h2v2h-2zM212 134h2v2h-2zM94 136h2v2h-2zM234 136h2v2h-2zM6 140h2v2h-2zM212 140h2v2h-2zM234 140h2v2h-2zM112 142h2v2h-2zM122 142h2v2h-2zM38 144h2v2h-2zM156 144h2v2h-2zM212 144h2v2h-2zM224 144h2v2h-2zM36 146h2v2h-2zM38 150h2v2h-2zM92 150h2v2h-2zM14 152h2v2h-2zM134 152h2v2h-2zM16 154h2v2h-2zM98 154h2v2h-2zM126 154h2v2h-2zM150 154h2v2h-2zM48 156h2v2h-2zM178 156h2v2h-2zM74 158h2v2h-2zM134 162h2v2h-2zM182 164h2v2h-2zM190 166h2v2h-2z"/><path fill="#a9b2fa" d="M210 2h2v2h-2zM222 2h2v2h-2zM136 4h2v2h-2zM100 26h2v2h-2zM108 28h2v2h-2zM126 38h2v2h-2zM54 50h2v2h-2zM144 50h2v2h-2zM106 56h2v2h-2zM152 60h2v2h-2zM168 62h2v2h-2zM58 74h2v2h-2zM184 76h2v2h-2zM110 90h2v2h-2zM44 94h2v2h-2zM176 100h2v2h-2zM120 104h2v2h-2zM166 114h2v2h-2zM100 116h2v2h-2zM112 136h2v2h-2zM178 138h2v2h-2zM26 142h2v2h-2zM102 146h2v2h-2zM74 154h2v2h-2zM122 156h2v2h-2zM68 158h2v2h-2zM232 160h2v2h-2zM52 162h2v2h-2zM42 166h2v2h-2zM66 166h2v2h-2z"/></pattern>
</defs>
<rect x="25" y="87.5" width="790" height="639.5" fill="#fff9fc"/>
<g style="filter:blur(0.6px)">
<polygon points="25,88 165,88 165,140 168,200 212,375 292,590 313,690 318,727 25,727" fill="url(#pL)"/>
<polygon points="165,88 470,88 530,727 318,727 313,690 292,590 212,375 168,200 165,140" fill="url(#pM)"/>
<polygon points="470,88 815,88 815,727 530,727" fill="url(#pR)"/>
<polygon points="168,165 168,200 205,300 212,375 292,590 313,690 318,727 400,727 397,690 357,590 320,375 330,300 289,210 270,165" fill="url(#pB)"/>
<polygon points="166,100 168,165 270,165 262,100" fill="url(#pB)" opacity="0.35"/>
</g>
<g clip-path="url(#mapclip)">
<line x1="168.5" y1="85" x2="168.5" y2="727" stroke="#707070" stroke-width="1" stroke-dasharray="3 8"/>
<line x1="348.5" y1="85" x2="348.5" y2="727" stroke="#707070" stroke-width="1" stroke-dasharray="3 8"/>
<line x1="527.5" y1="85" x2="527.5" y2="727" stroke="#707070" stroke-width="1" stroke-dasharray="3 8"/>
<line x1="707.5" y1="85" x2="707.5" y2="727" stroke="#707070" stroke-width="1" stroke-dasharray="3 8"/>
<line x1="15" y1="160.5" x2="815" y2="160.5" stroke="#707070" stroke-width="1" stroke-dasharray="3.1 7.9"/>
<line x1="15" y1="233.5" x2="815" y2="233.5" stroke="#707070" stroke-width="1" stroke-dasharray="3.1 7.9"/>
<line x1="15" y1="307.5" x2="815" y2="307.5" stroke="#707070" stroke-width="1" stroke-dasharray="3.1 7.9"/>
<line x1="15" y1="381.5" x2="815" y2="381.5" stroke="#707070" stroke-width="1" stroke-dasharray="3.1 7.9"/>
<line x1="15" y1="456.5" x2="815" y2="456.5" stroke="#707070" stroke-width="1" stroke-dasharray="3.1 7.9"/>
<line x1="15" y1="532.5" x2="815" y2="532.5" stroke="#707070" stroke-width="1" stroke-dasharray="3.1 7.9"/>
<line x1="15" y1="609.5" x2="815" y2="609.5" stroke="#707070" stroke-width="1" stroke-dasharray="3.1 7.9"/>
<line x1="15" y1="687.5" x2="815" y2="687.5" stroke="#707070" stroke-width="1" stroke-dasharray="3.1 7.9"/>
<line x1="691" y1="88" x2="815" y2="630" stroke="#d8b0f4" stroke-width="1" opacity="0.55"/>
<polyline points="202,88 210.5,124 218.7,160.3 224.5,174 227.5,180 236.4,215 246.3,250 276.1,350 315,475 355,600 399.2,727" fill="none" stroke="#ff1010" stroke-width="1.15"/>
<polyline points="210.3,88 216.8,124 223,160.3 226,174 227.5,180" fill="none" stroke="#ff1010" stroke-width="1.15"/>
<path d="M44.6,88.5 L43.3,91.6 L44.6,94.7 L46.4,93.4 L45.8,89.7" fill="none" stroke="#000" stroke-width="1.3" stroke-linejoin="round" stroke-linecap="round"/>
<path d="M44.6,97.1 L44.0,98.4" fill="none" stroke="#000" stroke-width="1.3" stroke-linejoin="round" stroke-linecap="round"/>
<path d="M52.0,90.3 L55.7,92.2 L59.4,93.4 L63.2,94.7 L65.6,97.1 L66.9,99.6 L64.0,98.0 L60.0,96.5 L56.0,95.0 L52.5,92.5 Z" fill="none" stroke="#000" stroke-width="1.3" stroke-linejoin="round" stroke-linecap="round"/>
<path d="M58.0,88.5 L60.2,89.5 L62.0,91.0 L66.0,92.0 L68.0,90.0 L70.0,88.5" fill="none" stroke="#000" stroke-width="1.3" stroke-linejoin="round" stroke-linecap="round"/>
<path d="M68.7,108.3 L70.6,104.6 L73.7,103.3 L74.9,105.8 L74.6,108.5 L73.1,110.8 L73.7,112.6 L75.5,113.9 L79.3,113.9 L82.3,115.1 L83.6,117.0 L81.1,118.0 L78.0,116.3 L75.5,115.7 L72.4,113.9 L70.0,111.4 Z" fill="none" stroke="#000" stroke-width="1.3" stroke-linejoin="round" stroke-linecap="round"/>
<path d="M72.4,98.4 L75.5,97.1 L79.3,97.8 L81.7,99.6 L83.0,102.1 L84.0,104.1 L85.4,105.8 L87.7,106.4 L89.2,108.3 L90.4,108.9" fill="none" stroke="#000" stroke-width="1.3" stroke-linejoin="round" stroke-linecap="round"/>
<path d="M70.0,99.0 L72.4,98.4" fill="none" stroke="#000" stroke-width="1.3" stroke-linejoin="round" stroke-linecap="round"/>
<path d="M80.5,99.0 L81.7,101.3 L83.0,103.5 L84.5,105.5" fill="none" stroke="#000" stroke-width="1.3" stroke-linejoin="round" stroke-linecap="round"/>
<path d="M83.0,88.5 L83.8,90.9 L84.2,93.4 L87.2,94.6 L89.2,97.1 L91.0,99.6 L92.9,102.1 L95.3,104.6" fill="none" stroke="#000" stroke-width="1.3" stroke-linejoin="round" stroke-linecap="round"/>
<path d="M92.0,111.4 L93.0,108.2 L96.0,107.2 L99.0,108.2 L100.2,111.4 L98.8,114.6 L95.5,115.6 L92.8,114.2 Z" fill="none" stroke="#000" stroke-width="1.3" stroke-linejoin="round" stroke-linecap="round"/>
<path d="M100.3,104.5 L103.0,106.0 L104.1,108.7 L103.6,111.5 L105.0,115.5 L103.0,116.5 L101.0,114.0 L100.0,110.0 L100.0,107.2 Z" fill="none" stroke="#000" stroke-width="1.3" stroke-linejoin="round" stroke-linecap="round"/>
<path d="M87.9,115.7 L89.8,113.2" fill="none" stroke="#000" stroke-width="1.3" stroke-linejoin="round" stroke-linecap="round"/>
<path d="M106.5,114.5 L107.5,115.5" fill="none" stroke="#000" stroke-width="1.3" stroke-linejoin="round" stroke-linecap="round"/>
<path d="M130.0,88.5 L132.6,89.0 L134.9,90.2 L136.8,91.9 L138.8,93.7 L141.3,94.3 L143.6,94.5 L145.6,95.5 L147.4,97.0 L149.2,98.3 L151.6,98.4 L153.9,98.9 L156.2,99.0 L158.3,100.4 L160.9,99.2 L163.0,100.4 L163.9,103.3 L166.0,105.6 L165.3,108.0 L162.5,106.0 L160.0,103.0 L158.0,101.0 L155.0,99.5" fill="none" stroke="#000" stroke-width="1.3" stroke-linejoin="round" stroke-linecap="round"/>
<path d="M147.5,88.5 L149.7,89.1 L151.9,89.7 L153.7,91.2 L156.3,92.3 L158.0,94.5 L159.8,96.0 L160.6,98.4 L162.5,99.8" fill="none" stroke="#000" stroke-width="1.3" stroke-linejoin="round" stroke-linecap="round"/>
<path d="M151.5,104.5 L152.0,102.0 L154.5,101.8 L156.0,104.0 L155.5,106.3 L153.0,106.4 Z" fill="none" stroke="#000" stroke-width="1.3" stroke-linejoin="round" stroke-linecap="round"/>
<path d="M134.0,124.0 L136.5,122.5 L139.5,123.0 L141.5,125.5 L140.5,128.5 L137.0,129.5 L134.5,127.5 Z" fill="none" stroke="#000" stroke-width="1.3" stroke-linejoin="round" stroke-linecap="round"/>
<path d="M123.4,124.4 L124.2,125.2" fill="none" stroke="#000" stroke-width="2.2" stroke-linejoin="round" stroke-linecap="round"/>
<path d="M145.2,128.2 L145.8,128.8" fill="none" stroke="#000" stroke-width="1.8" stroke-linejoin="round" stroke-linecap="round"/>
<path d="M161.6,127.8 L162.6,129.2" fill="none" stroke="#000" stroke-width="2.4" stroke-linejoin="round" stroke-linecap="round"/>
<path d="M168.5,119.0 L171.0,120.5 L173.5,123.0 L176.5,124.0 L179.5,124.5 L182.5,126.5 L183.5,129.0 L180.5,130.5 L177.0,129.5 L174.0,128.5 L171.5,127.5 L170.0,125.0 L169.5,122.0 Z" fill="none" stroke="#000" stroke-width="1.3" stroke-linejoin="round" stroke-linecap="round"/>
<path d="M155.0,134.3 L158.7,133.1 L162.4,134.9 L164.6,136.0 L166.1,138.0 L169.0,138.3 L171.9,138.6 L174.8,138.6 L177.3,138.6 L179.7,139.2 L182.2,139.3 L185.1,140.1 L187.2,142.3 L189.6,143.2 L190.9,145.4 L192.5,147.0 L193.3,149.2 L195.0,150.7 L197.1,151.6 L200.2,153.9 L197.1,155.3 L194.6,156.4 L192.1,157.2 L189.6,157.2 L187.2,156.6 L184.1,155.5 L181.0,154.7 L177.9,154.2 L174.8,153.5 L172.3,153.9 L169.8,153.0 L167.3,153.5 L165.0,152.2 L162.4,151.6 L159.6,150.1 L157.4,147.9 L156.3,145.4 L155.0,143.0 L154.7,140.5 L154.3,138.0 Z" fill="none" stroke="#000" stroke-width="1.3" stroke-linejoin="round" stroke-linecap="round"/>
<path d="M189.6,98.4 L192.7,99.0 L195.8,97.8 L198.3,98.4 L199.5,102.1 L200.1,104.9 L202.0,107.1 L202.3,109.7 L203.3,112.0 L204.5,115.7 L206.6,116.6 L208.2,118.2 L208.7,121.1 L210.7,123.2 L211.9,126.9 L213.8,129.0 L214.4,131.8 L216.4,134.2 L218.1,136.8 L219.6,139.5 L221.8,141.7 L223.6,143.9 L224.3,146.7 L224.6,149.1 L224.9,151.6 L223.1,150.4 L220.6,147.9 L218.7,146.5 L218.1,144.2 L216.5,142.1 L214.4,140.5 L212.8,138.9 L210.7,138.0 L208.3,136.0 L205.7,134.3 L204.2,132.5 L202.0,131.8 L200.5,130.1 L199.5,128.1 L198.6,125.5 L197.1,123.2 L196.6,120.7 L195.8,118.2 L195.0,115.7 L194.0,113.2 L193.3,110.8 L192.7,108.3 L192.4,105.6 L190.9,103.3 L189.4,99.6 Z" fill="none" stroke="#000" stroke-width="1.3" stroke-linejoin="round" stroke-linecap="round"/>
<path d="M204.5,115.7 L204.9,118.2 L206.8,119.8 L207.6,122.1 L209.0,124.0 L210.7,126.0 L210.7,128.8 L212.0,131.0 L213.3,133.2 L214.3,135.5 L216.5,137.0 L217.5,139.3 L219.8,140.8 L221.0,143.0" fill="none" stroke="#000" stroke-width="1.3" stroke-linejoin="round" stroke-linecap="round"/>
<path d="M229.5,140.0 L229.8,143.5" fill="none" stroke="#000" stroke-width="2" stroke-linejoin="round" stroke-linecap="round"/>
<path d="M238.5,149.0 L238.8,152.0" fill="none" stroke="#000" stroke-width="2.2" stroke-linejoin="round" stroke-linecap="round"/>
<path d="M263.3,100.5 L265.5,99.6 L267.6,101.0 L265.5,102.3 Z" fill="none" stroke="#000" stroke-width="1.6" stroke-linejoin="round" stroke-linecap="round"/>
<path d="M214.9,168.2 L217.2,167.4 L219.6,168.0 L221.8,169.0 L223.9,170.8 L226.3,172.0 L228.7,172.3 L230.4,174.0 L232.4,175.1 L234.8,174.9 L237.1,175.2 L239.4,175.4 L241.6,176.6 L243.4,178.1 L246.0,178.1 L247.7,179.7 L249.1,181.5 L249.9,183.7 L250.8,185.8 L252.3,188.8 L254.4,190.2 L256.9,190.3 L253.8,191.9 L250.6,191.8 L247.7,190.3 L244.6,189.6 L241.6,188.8 L238.6,188.0 L235.5,187.3 L233.8,185.7 L231.7,184.7 L229.4,184.2 L227.5,182.2 L224.8,181.2 L221.8,178.1 L219.3,176.9 L217.2,175.1 L214.9,172.0 Z" fill="none" stroke="#000" stroke-width="1.3" stroke-linejoin="round" stroke-linecap="round"/>
<path d="M229.4,167.4 L231.0,169.0" fill="none" stroke="#000" stroke-width="2" stroke-linejoin="round" stroke-linecap="round"/>
<path d="M237.8,164.4 L239.3,170.5" fill="none" stroke="#000" stroke-width="1.5" stroke-linejoin="round" stroke-linecap="round"/>
<path d="M161.2,207.6 L162.4,208.8" fill="none" stroke="#000" stroke-width="2.6" stroke-linejoin="round" stroke-linecap="round"/>
<path d="M167.3,215.3 L170.3,213.8 L173.4,215.3 L176.4,217.4 L178.5,218.5 L180.5,219.9 L182.7,220.7 L184.6,222.0 L186.3,223.6 L188.7,224.0 L190.2,226.0 L187.6,227.6 L184.6,226.5 L182.9,224.8 L180.5,224.5 L177.5,221.4 L174.4,220.4 L171.4,219.4 L168.3,217.9 Z" fill="none" stroke="#000" stroke-width="1.3" stroke-linejoin="round" stroke-linecap="round"/>
<path d="M169.3,242.8 L171.4,242.8 L174.4,244.8 L174.4,246.9 L176.8,247.9 L178.5,249.9 L181.4,251.0 L183.6,253.0 L185.1,255.5 L185.3,257.9 L184.6,260.1 L186.1,263.2 L188.7,264.2 L190.1,266.0 L190.7,268.2 L191.2,270.8 L189.7,271.3 L188.1,268.2 L186.6,265.2 L183.6,262.1 L180.5,259.1 L178.5,257.1" fill="none" stroke="#000" stroke-width="1.3" stroke-linejoin="round" stroke-linecap="round"/>
<path d="M169.3,242.8 L170.0,244.5 L172.0,245.0" fill="none" stroke="#000" stroke-width="1.3" stroke-linejoin="round" stroke-linecap="round"/>
<path d="M371.9,164.3 L373.9,162.7" fill="none" stroke="#000" stroke-width="1.3" stroke-linejoin="round" stroke-linecap="round"/>
<path d="M381.6,165.3 L383.6,163.2" fill="none" stroke="#000" stroke-width="1.3" stroke-linejoin="round" stroke-linecap="round"/>
<path d="M376.3,174.3 L377.1,175.1" fill="none" stroke="#000" stroke-width="2" stroke-linejoin="round" stroke-linecap="round"/>
<path d="M375.9,188.2 L377.5,185.1 L380.5,184.6 L384.6,183.6 L388.7,184.1 L390.7,185.6 L389.2,188.2 L386.6,190.2 L383.6,190.7 L380.5,191.7 L376.5,191.2 L375.4,189.2 Z" fill="none" stroke="#000" stroke-width="1.3" stroke-linejoin="round" stroke-linecap="round"/>
<path d="M385.6,167.8 L388.7,169.3 L391.7,168.8 L394.8,170.9 L393.8,172.4 L390.7,171.4 L387.7,170.4 Z" fill="none" stroke="#000" stroke-width="1.3" stroke-linejoin="round" stroke-linecap="round"/>
<path d="M400.5,207.5 L402.5,206.5 L405.0,207.5 L405.3,210.0 L403.0,211.0 L400.5,209.8 Z" fill="none" stroke="#000" stroke-width="2.2" stroke-linejoin="round" stroke-linecap="round"/>
<path d="M410.5,217.5 L413.5,216.3 L416.5,217.5 L418.0,220.0 L416.0,222.7 L412.5,222.0 L410.3,219.7 Z" fill="none" stroke="#000" stroke-width="1.8" stroke-linejoin="round" stroke-linecap="round"/>
<path d="M423.5,154.5 L424.3,155.3" fill="none" stroke="#000" stroke-width="1.8" stroke-linejoin="round" stroke-linecap="round"/>
<path d="M426.8,157.8 L427.4,158.6" fill="none" stroke="#000" stroke-width="1.8" stroke-linejoin="round" stroke-linecap="round"/>
<path d="M402.9,272.6 L404.0,274.8 L405.0,277.0 L405.9,279.6 L407.0,282.0 L408.2,284.0 L408.6,286.3 L407.2,286.8 L405.3,284.2 L405.0,281.0 L403.9,278.6 L403.0,276.0 Z" fill="none" stroke="#000" stroke-width="1.6" stroke-linejoin="round" stroke-linecap="round"/>
<path d="M431.2,288.3 L432.0,289.1" fill="none" stroke="#000" stroke-width="2.4" stroke-linejoin="round" stroke-linecap="round"/>
<path d="M436.0,300.0 L438.4,296.6 L441.8,297.8 L442.6,300.0 L442.9,302.3 L439.5,304.6 L436.0,302.3 Z" fill="none" stroke="#000" stroke-width="1.3" stroke-linejoin="round" stroke-linecap="round"/>
<path d="M439.3,292.0 L439.9,292.6" fill="none" stroke="#000" stroke-width="1.8" stroke-linejoin="round" stroke-linecap="round"/>
<path d="M444.9,294.1 L445.5,294.7" fill="none" stroke="#000" stroke-width="1.8" stroke-linejoin="round" stroke-linecap="round"/>
<path d="M437.5,315.5 L438.5,313.5 L440.5,314.5 L440.5,316.8 L438.5,317.3 Z" fill="none" stroke="#000" stroke-width="1.3" stroke-linejoin="round" stroke-linecap="round"/>
<path d="M456.5,322.0 L457.1,322.6" fill="none" stroke="#000" stroke-width="1.6" stroke-linejoin="round" stroke-linecap="round"/>
<path d="M402.9,330.9 L406.3,329.8 L407.3,332.7 L408.6,335.5 L409.0,338.2 L410.6,340.3 L412.0,342.4 L413.1,344.7 L414.3,347.0 L417.8,349.2 L419.3,347.2 L420.5,345.0 L422.3,343.5 L425.8,343.5 L425.3,346.7 L425.5,350.0 L427.0,352.9 L426.9,356.1 L426.8,358.7 L428.1,361.0 L429.2,364.1 L428.2,366.9 L428.1,369.8 L425.8,372.1 L424.5,369.9 L422.3,368.7 L421.0,366.6 L418.9,365.3 L416.5,364.3 L414.3,363.0 L412.5,361.4 L410.9,359.5 L409.2,358.0 L408.8,355.6 L407.5,353.8 L406.0,351.8 L405.2,349.5 L405.2,347.0 L403.9,344.9 L403.1,342.6 L402.9,340.1 L402.4,337.8 L401.8,335.6 L402.4,333.2 Z" fill="none" stroke="#000" stroke-width="1.3" stroke-linejoin="round" stroke-linecap="round"/>
<path d="M425.5,366.0 L428.5,367.5 L429.5,371.0 L427.0,373.0 L425.0,370.5 L424.4,368.2 Z" fill="none" stroke="#000" stroke-width="1.3" stroke-linejoin="round" stroke-linecap="round"/>
<path d="M458.9,341.2 L461.2,342.4 L461.9,344.7 L462.1,346.9 L461.7,349.2 L462.5,351.5 L461.0,353.9 L461.6,356.1 L461.9,358.4 L462.8,360.6 L462.9,362.9 L463.0,365.2 L463.2,367.5 L463.9,369.7 L463.5,372.1 L463.3,374.9 L463.4,377.6 L464.7,380.1 L462.4,380.1 L461.9,377.6 L461.5,375.1 L460.3,372.7 L459.9,370.1 L460.1,367.5 L459.6,365.2 L459.2,363.0 L460.0,360.6 L458.5,358.4 L458.9,356.1 L458.0,353.6 L459.7,351.1 L459.0,348.6 L458.3,346.2 L459.0,343.7 Z" fill="none" stroke="#000" stroke-width="1.3" stroke-linejoin="round" stroke-linecap="round"/>
<path d="M425.8,376.7 L429.2,375.6 L431.6,376.4 L433.0,378.6 L434.9,380.1 L435.3,382.8 L437.2,384.7 L438.2,387.0 L440.0,388.7 L441.8,390.4 L444.4,391.8 L446.4,393.9 L448.3,395.4 L449.8,397.3 L450.8,399.1 L448.6,401.9 L446.2,401.9 L444.1,400.7 L441.3,402.3 L438.4,403.0 L437.0,400.4 L434.9,398.4 L434.4,395.5 L433.8,392.7 L433.1,390.2 L431.5,388.1 L429.6,386.6 L428.1,384.7 L425.8,381.3 L425.3,379.0 Z" fill="none" stroke="#000" stroke-width="1.3" stroke-linejoin="round" stroke-linecap="round"/>
<path d="M460.4,404.2 L462.3,402.9 L465.4,405.4 L466.1,409.3 L468.6,410.5 L471.8,411.8 L473.7,413.7 L471.8,414.4 L469.3,413.1 L466.1,412.4 L462.9,411.2 L460.4,409.3 L459.7,406.1 Z" fill="none" stroke="#000" stroke-width="1.3" stroke-linejoin="round" stroke-linecap="round"/>
<path d="M474.4,414.4 L476.5,416.5 L478.2,419.4" fill="none" stroke="#000" stroke-width="1.8" stroke-linejoin="round" stroke-linecap="round"/>
<path d="M465.4,420.7 L467.0,421.5" fill="none" stroke="#000" stroke-width="1.8" stroke-linejoin="round" stroke-linecap="round"/>
<path d="M469.0,422.5 L470.5,423.3" fill="none" stroke="#000" stroke-width="1.8" stroke-linejoin="round" stroke-linecap="round"/>
<path d="M470.3,428.1 L470.9,428.7" fill="none" stroke="#000" stroke-width="1.6" stroke-linejoin="round" stroke-linecap="round"/>
<path d="M462.3,443.6 L464.2,439.8 L466.7,437.9 L468.6,436.0 L470.5,437.3 L473.1,438.5 L474.4,442.3 L476.9,444.9 L475.6,448.7 L473.1,450.0 L469.3,450.0 L465.4,448.7 L462.3,446.8 L461.6,444.9 Z" fill="none" stroke="#000" stroke-width="1.3" stroke-linejoin="round" stroke-linecap="round"/>
<path d="M468.0,434.0 L469.0,435.5" fill="none" stroke="#000" stroke-width="1.6" stroke-linejoin="round" stroke-linecap="round"/>
<path d="M472.5,436.5 L474.0,438.0" fill="none" stroke="#000" stroke-width="1.6" stroke-linejoin="round" stroke-linecap="round"/>
<path d="M469.1,455.9 L469.7,456.5" fill="none" stroke="#000" stroke-width="1.8" stroke-linejoin="round" stroke-linecap="round"/>
<path d="M491.4,482.3 L494.4,480.3 L497.5,481.3 L499.0,484.3 L501.5,487.4 L503.6,490.4 L503.1,494.0 L500.5,494.5 L497.5,492.5 L494.4,490.9 L491.4,489.4 L490.9,486.4 Z" fill="none" stroke="#000" stroke-width="1.3" stroke-linejoin="round" stroke-linecap="round"/>
<path d="M513.4,503.8 L514.0,504.8" fill="none" stroke="#000" stroke-width="2" stroke-linejoin="round" stroke-linecap="round"/>
<path d="M499.5,508.7 L501.5,506.7 L504.1,506.9 L505.6,509.8 L507.6,512.8 L508.1,515.9 L506.6,518.9 L503.6,519.4 L500.5,516.9 L499.0,512.8 Z" fill="none" stroke="#000" stroke-width="1.3" stroke-linejoin="round" stroke-linecap="round"/>
<path d="M518.3,539.5 L520.5,537.5 L523.5,537.8 L524.4,540.0 L522.5,542.3 L519.5,542.0 Z" fill="none" stroke="#000" stroke-width="1.3" stroke-linejoin="round" stroke-linecap="round"/>
<path d="M275.0,469.4 L277.5,468.8 L279.8,468.1 L281.7,466.2 L283.9,467.0 L286.1,467.1 L288.4,466.7 L289.2,469.6 L291.0,472.0 L289.3,473.5 L288.7,475.9 L287.0,477.4 L284.8,477.8 L282.7,478.5 L280.4,478.7 L278.1,478.0 L276.3,476.7 L275.0,474.7 L274.6,472.0 Z" fill="none" stroke="#000" stroke-width="1.3" stroke-linejoin="round" stroke-linecap="round"/>
<path d="M269.7,456.0 L271.4,453.7 L273.7,452.0 L273.8,454.7 L273.8,457.5 L275.0,460.0 L273.1,462.1 L271.0,464.0" fill="none" stroke="#000" stroke-width="1.3" stroke-linejoin="round" stroke-linecap="round"/>
<path d="M284.4,457.4 L285.7,459.4 L287.4,460.8 L289.7,461.4 L291.0,465.4" fill="none" stroke="#000" stroke-width="1.3" stroke-linejoin="round" stroke-linecap="round"/>
<path d="M268.4,473.4 L272.4,476.0" fill="none" stroke="#000" stroke-width="1.3" stroke-linejoin="round" stroke-linecap="round"/>
<path d="M289.7,490.7 L292.2,490.6 L294.1,488.7 L296.4,488.1 L297.3,490.7 L297.8,493.4 L297.7,496.1 L296.9,498.4 L295.1,500.1 L292.8,499.2 L291.0,497.4 L290.8,495.1 L290.8,492.8 Z" fill="none" stroke="#000" stroke-width="1.3" stroke-linejoin="round" stroke-linecap="round"/>
<path d="M280.4,497.4 L280.7,500.3 L282.2,502.7 L283.0,505.4 L284.1,507.4 L285.2,509.5 L287.6,510.6 L288.1,513.1 L289.7,514.8 L290.4,517.0 L292.0,518.6 L293.3,520.4 L295.1,521.8 L296.8,523.3 L297.7,525.4 L299.0,527.8 L301.3,529.3 L302.3,531.8 L304.4,533.5 L305.4,536.0 L307.9,537.4 L309.6,539.4 L311.1,541.5 L311.8,543.8 L313.4,545.3 L315.6,546.4 L317.0,548.2 L318.3,550.0 L319.1,552.1 L319.8,554.3 L321.3,556.0 L323.6,557.1 L324.0,559.6 L325.1,561.5 L327.1,562.8 L328.5,564.6 L330.5,565.8 L331.8,567.7 L334.0,568.7 L335.1,570.8 L337.5,572.0 L338.1,575.0 L340.3,576.3 L342.2,578.0 L343.5,580.3 L345.8,581.5 L347.7,582.7 L349.0,584.7 L350.8,586.0 L353.2,586.4 L355.0,587.8 L356.5,589.5 L358.6,590.3 L360.5,591.4 L362.1,593.1 L364.3,593.7 L366.1,595.1 L368.2,595.8 L369.8,597.5 L371.3,599.3 L373.8,599.6 L375.6,600.9 L377.4,602.3 L379.0,603.9 L381.4,604.3 L383.2,605.6 L384.7,607.4 L387.0,607.9 L388.9,609.1 L390.8,610.2 L393.1,610.6 L394.7,612.4 L396.5,613.6 L398.9,614.1 L401.2,614.9 L402.7,617.3 L405.3,617.3 L407.2,618.9 L408.8,620.5 L410.1,622.4 L411.9,623.8 L413.8,625.1 L415.2,626.9 L416.3,629.1 L417.3,631.2 L418.0,633.6 L420.2,635.1 L420.6,637.6 L420.9,640.3 L421.9,642.9 L421.9,645.6 L419.2,646.9 L417.5,645.1 L416.5,642.9" fill="none" stroke="#000" stroke-width="1.3" stroke-linejoin="round" stroke-linecap="round"/>
<path d="M303.1,533.5 L304.0,535.6 L305.8,537.0 L307.0,538.9 L308.1,540.8 L309.2,542.8 L311.1,544.1 L312.7,546.0 L314.0,548.1 L315.7,549.8 L317.2,551.8 L318.5,553.9 L320.3,555.5 L321.8,557.5 L323.5,558.9 L325.4,560.1 L326.6,562.1 L328.7,563.1 L330.2,564.7 L332.4,565.5 L333.6,567.8 L336.3,568.8 L337.7,570.9 L339.0,573.2 L340.9,574.8 L343.1,576.2 L345.2,577.6 L346.8,579.5 L348.0,581.7 L350.1,583.1 L351.1,585.5 L353.5,586.4 L355.8,587.5 L357.4,589.8 L359.4,591.3 L361.8,592.2 L363.3,594.0 L365.9,594.0 L367.3,596.0 L369.3,597.0 L371.7,597.4 L372.9,599.6 L375.2,600.2 L376.7,602.1 L379.3,602.1 L380.5,604.3 L382.9,604.6 L384.7,605.9 L386.1,607.8 L388.5,608.2 L390.1,609.9 L392.6,610.0 L394.3,611.5 L396.1,612.8 L398.2,613.7 L400.3,614.6 L401.9,616.2 L403.9,617.3 L405.2,619.2 L407.7,619.5 L408.9,621.6 L410.8,622.8 L412.5,624.2 L415.0,624.8 L416.5,626.9" fill="none" stroke="#000" stroke-width="1.3" stroke-linejoin="round" stroke-linecap="round"/>
<path d="M295.1,488.1 L296.7,489.8 L297.6,491.9 L299.0,493.7 L301.0,495.1 L301.7,497.4 L301.7,500.1 L302.8,502.4 L303.3,504.9 L305.6,506.8 L305.7,509.4 L307.7,511.1 L309.7,512.9 L310.3,515.7 L312.4,517.4 L314.4,519.1 L316.3,521.0 L317.5,523.3 L319.1,525.4 L320.2,527.5 L321.9,529.0 L324.2,530.0 L325.9,531.4 L327.1,533.5 L327.8,535.9 L329.6,537.6 L330.8,539.7 L332.4,541.5 L334.5,542.6 L336.2,544.1 L337.0,546.5 L338.9,547.8 L340.4,549.5 L342.6,550.2 L343.5,552.8 L345.6,553.7 L347.2,555.3 L349.8,555.6 L351.1,557.5 L352.9,559.4 L355.8,559.5 L357.2,562.1 L359.7,562.8 L361.8,564.2 L364.1,565.3 L366.0,566.9 L367.8,568.8 L370.6,569.1 L372.5,570.8 L374.7,571.4 L376.3,573.2 L378.4,573.9 L380.5,574.8 L382.3,576.1 L384.3,577.1 L385.8,578.9 L387.9,579.8 L389.6,581.3 L391.4,582.6 L392.7,584.6 L394.9,585.3 L396.5,586.9 L398.3,588.2 L400.4,589.1 L402.0,590.7 L404.2,591.5 L405.7,593.2 L407.2,594.9 L409.2,596.2 L409.5,598.7 L411.1,600.3 L413.0,601.7 L413.9,603.8 L415.2,605.6 L415.3,608.0 L417.5,609.6 L417.1,612.2 L418.5,614.0 L419.2,616.2 L418.2,618.2 L416.7,619.9 L416.4,622.3 L415.2,624.2 L412.5,626.9" fill="none" stroke="#000" stroke-width="1.3" stroke-linejoin="round" stroke-linecap="round"/>
<path d="M353.8,554.8 L355.4,556.4 L356.8,558.2 L358.0,560.2 L360.4,561.0 L361.8,562.8 L363.2,564.6 L365.1,565.8 L367.0,567.0 L369.0,568.0 L370.9,569.2 L372.5,570.8 L374.9,571.5 L376.9,572.9 L378.9,574.2 L380.5,576.2" fill="none" stroke="#000" stroke-width="1.3" stroke-linejoin="round" stroke-linecap="round"/>
<path d="M369.8,565.5 L371.5,567.0 L373.9,567.4 L375.9,568.4 L377.8,569.4 L379.1,571.7 L380.9,572.9 L383.2,573.5 L384.9,575.3 L387.2,576.3 L389.2,577.7 L391.0,579.3 L392.7,581.1 L395.0,582.2 L396.5,584.2 L397.9,585.9 L399.5,587.5 L399.8,590.0 L401.2,591.8 L403.1,593.2 L404.5,594.9" fill="none" stroke="#000" stroke-width="1.3" stroke-linejoin="round" stroke-linecap="round"/>
<path d="M417.9,610.9 L419.4,612.6 L419.5,615.1 L421.6,616.4 L422.7,618.4 L424.4,619.9 L424.9,622.2 L425.9,624.2 L427.7,625.5 L429.5,626.9 L431.6,627.8 L433.0,629.6 L435.4,630.2 L436.6,632.3" fill="none" stroke="#000" stroke-width="1.3" stroke-linejoin="round" stroke-linecap="round"/>
<path d="M281.7,494.7 L283.4,496.8 L285.0,499.0 L285.8,501.7 L287.0,504.1 L289.0,505.6 L290.4,507.6 L291.3,509.9 L292.8,511.8 L293.6,514.2 L295.1,516.1 L296.4,518.0 L297.4,520.1 L298.8,521.8 L300.1,523.8 L301.7,525.4" fill="none" stroke="#000" stroke-width="1.3" stroke-linejoin="round" stroke-linecap="round"/>
<path d="M309.7,533.5 L312.6,533.5 L315.1,532.1 L317.4,532.8 L319.7,533.6 L321.8,534.8 L323.2,536.9 L326.0,536.9 L327.6,538.8 L325.8,542.8 L323.6,542.0 L321.4,541.7 L319.1,541.5 L316.6,541.4 L314.9,539.1 L312.4,538.8 L311.7,535.8 Z" fill="none" stroke="#000" stroke-width="1.3" stroke-linejoin="round" stroke-linecap="round"/>
<path d="M320.5,473.7 L321.9,476.1 L323.7,478.2 L324.6,476.0 L324.7,473.7" fill="none" stroke="#000" stroke-width="1.3" stroke-linejoin="round" stroke-linecap="round"/>
<path d="M421.1,623.1 L423.2,624.4 L425.6,624.7 L428.3,625.7 L430.2,627.7 L432.5,629.3 L434.8,630.8 L437.9,633.8 L438.6,636.1 L439.4,638.4" fill="none" stroke="#000" stroke-width="1.3" stroke-linejoin="round" stroke-linecap="round"/>
<path d="M435.0,630.0 L438.5,629.5 L440.9,633.0 L439.9,635.7 L440.0,638.5 L437.0,639.0 L437.0,636.6 L436.6,634.4 L435.6,632.2 Z" fill="none" stroke="#000" stroke-width="1.3" stroke-linejoin="round" stroke-linecap="round"/>
<path d="M390.5,543.7 L392.8,545.3 L392.1,548.3 L395.1,549.8 L397.6,549.7 L399.7,548.3 L402.0,548.3 L404.3,547.6 L406.5,548.7 L408.9,549.1 L407.3,552.9 L407.0,555.4 L405.8,557.5 L402.7,560.5 L400.3,561.0 L398.2,559.8 L395.5,558.8 L393.6,556.7" fill="none" stroke="#000" stroke-width="1.3" stroke-linejoin="round" stroke-linecap="round"/>
<path d="M421.1,560.5 L423.2,559.1 L425.6,558.2 L428.2,558.7 L430.2,560.5 L430.4,563.7 L431.8,566.6 L434.8,569.7 L435.4,572.0 L436.3,574.3 L434.6,576.1 L433.3,578.1 L431.1,576.7 L428.7,575.8 L426.5,574.7 L424.1,574.3 L422.6,572.0 L421.1,569.7 L419.8,567.6 L420.3,565.1 L421.2,562.9 Z" fill="none" stroke="#000" stroke-width="1.3" stroke-linejoin="round" stroke-linecap="round"/>
<path d="M448.5,585.0 L451.7,584.6 L454.7,583.4 L457.3,584.2 L460.0,585.0 L459.9,587.3 L459.7,589.5 L460.8,591.8 L460.0,594.1 L457.2,594.4 L454.7,595.6 L452.2,594.5 L450.1,592.6 L448.6,590.6 L448.5,588.0 Z" fill="none" stroke="#000" stroke-width="1.3" stroke-linejoin="round" stroke-linecap="round"/>
<path d="M440.6,575.5 L441.2,576.1" fill="none" stroke="#000" stroke-width="1.8" stroke-linejoin="round" stroke-linecap="round"/>
<path d="M449.0,575.5 L449.6,576.1" fill="none" stroke="#000" stroke-width="1.8" stroke-linejoin="round" stroke-linecap="round"/>
<path d="M369.0,521.0 L372.0,520.0 L374.0,522.5 L372.0,525.0 L370.0,524.0" fill="none" stroke="#000" stroke-width="1.3" stroke-linejoin="round" stroke-linecap="round"/>
<path d="M376.5,526.0 L377.1,526.6" fill="none" stroke="#000" stroke-width="1.8" stroke-linejoin="round" stroke-linecap="round"/>
<path d="M112.3,496.0 L111.8,498.5 L110.1,500.7 L109.6,503.2 L109.4,505.5 L107.8,507.3 L106.6,509.3 L106.7,511.8 L106.0,513.9 L105.4,516.6 L104.3,519.2 L105.6,521.9 L106.9,524.6 L108.0,526.6 L109.6,528.1 L111.5,530.3 L114.1,531.7" fill="none" stroke="#000" stroke-width="1.3" stroke-linejoin="round" stroke-linecap="round"/>
<path d="M112.5,527.5 L114.1,531.7" fill="none" stroke="#000" stroke-width="1.3" stroke-linejoin="round" stroke-linecap="round"/>
<path d="M119.4,497.8 L123.0,496.9 L125.7,495.2 L128.3,496.9 L131.0,495.2 L133.7,497.8 L135.5,500.5" fill="none" stroke="#000" stroke-width="1.3" stroke-linejoin="round" stroke-linecap="round"/>
<path d="M133.7,505.8 L131.9,511.2" fill="none" stroke="#000" stroke-width="1.3" stroke-linejoin="round" stroke-linecap="round"/>
<path d="M166.5,499.6 L167.0,507.6" fill="none" stroke="#000" stroke-width="2" stroke-linejoin="round" stroke-linecap="round"/>
<path d="M114.1,562.9 L116.7,565.6" fill="none" stroke="#000" stroke-width="1.3" stroke-linejoin="round" stroke-linecap="round"/>
<path d="M117.0,568.0 L117.6,571.8" fill="none" stroke="#000" stroke-width="1.3" stroke-linejoin="round" stroke-linecap="round"/>
<path d="M147.0,604.8 L150.6,605.7 L153.3,603.0" fill="none" stroke="#000" stroke-width="1.3" stroke-linejoin="round" stroke-linecap="round"/>
<path d="M815.0,430.1 L812.7,430.3 L810.4,430.6 L808.1,431.2 L805.4,432.5 L802.4,432.4 L800.2,433.6 L797.8,433.5 L796.4,435.5 L794.4,436.9 L792.1,440.4 L790.9,443.8 L788.6,447.3 L787.6,449.4 L787.5,451.8 L788.2,454.0 L788.1,456.4 L788.6,458.7 L791.0,459.8 L792.1,462.1 L795.2,462.5 L797.8,464.4 L800.6,464.8 L803.0,466.2 L805.8,466.7 L808.4,467.6 L811.1,468.1 L813.8,468.4 L815.0,468.4" fill="none" stroke="#000" stroke-width="1.3" stroke-linejoin="round" stroke-linecap="round"/>
<path d="M815.0,433.5 L812.1,433.9 L809.2,433.5 L806.3,434.6 L803.5,435.8 L801.2,437.0 L798.9,438.1 L796.7,440.4 L794.4,442.7 L793.9,445.3 L792.1,447.3 L789.8,450.7" fill="none" stroke="#000" stroke-width="1.3" stroke-linejoin="round" stroke-linecap="round"/>
<path d="M800.1,407.2 L797.7,408.6 L796.7,411.4 L794.4,412.9 L792.1,414.0 L790.9,416.3 L789.0,418.2 L788.6,420.9 L788.2,423.6 L786.3,425.5 L785.2,427.8" fill="none" stroke="#000" stroke-width="2.2" stroke-linejoin="round" stroke-linecap="round"/>
<path d="M780.0,419.2 L782.5,418.2 L785.2,417.8 L787.5,416.3 L789.4,414.1 L789.8,411.2" fill="none" stroke="#000" stroke-width="1.3" stroke-linejoin="round" stroke-linecap="round"/>
<path d="M790.9,424.4 L791.5,432.4" fill="none" stroke="#000" stroke-width="1.3" stroke-linejoin="round" stroke-linecap="round"/>
<path d="M774.6,425.2 L775.4,426.0" fill="none" stroke="#000" stroke-width="2.2" stroke-linejoin="round" stroke-linecap="round"/>
<path d="M783.2,429.2 L784.0,430.0" fill="none" stroke="#000" stroke-width="2.2" stroke-linejoin="round" stroke-linecap="round"/>
<path d="M781.2,441.5 L782.9,445.0 L784.7,446.6 L786.3,448.4 L788.6,451.8" fill="none" stroke="#000" stroke-width="1.3" stroke-linejoin="round" stroke-linecap="round"/>
<path d="M784.0,442.1 L788.0,442.7" fill="none" stroke="#000" stroke-width="1.3" stroke-linejoin="round" stroke-linecap="round"/>
<path d="M801.2,474.7 L803.5,478.2" fill="none" stroke="#000" stroke-width="2.4" stroke-linejoin="round" stroke-linecap="round"/>
<path d="M813.8,471.3 L814.5,475.0" fill="none" stroke="#000" stroke-width="1.3" stroke-linejoin="round" stroke-linecap="round"/>
<path d="M779.8,251.7 L783.4,251.7" fill="none" stroke="#000" stroke-width="2.6" stroke-linejoin="round" stroke-linecap="round"/>
<path d="M691.5,597.5 L692.5,598.5" fill="none" stroke="#000" stroke-width="2" stroke-linejoin="round" stroke-linecap="round"/>
<path d="M373.0,522.5 L374.0,523.5" fill="none" stroke="#000" stroke-width="1.5" stroke-linejoin="round" stroke-linecap="round"/>
<path d="M310.0,533.0 L312.5,532.0 L314.0,534.5 L312.0,536.5 L309.8,535.5 Z" fill="none" stroke="#000" stroke-width="1.6" stroke-linejoin="round" stroke-linecap="round"/>
<path d="M314.5,535.0 L317.5,534.0 L320.0,536.5 L318.5,539.0 L315.5,538.5 Z" fill="none" stroke="#000" stroke-width="1.6" stroke-linejoin="round" stroke-linecap="round"/>
<path d="M319.0,538.0 L322.5,537.5 L325.0,540.0 L323.5,542.5 L320.0,541.5 Z" fill="none" stroke="#000" stroke-width="1.6" stroke-linejoin="round" stroke-linecap="round"/>
<path d="M324.0,540.5 L327.0,540.0 L328.5,542.5 L326.0,544.5 L324.6,542.7 Z" fill="none" stroke="#000" stroke-width="1.6" stroke-linejoin="round" stroke-linecap="round"/>
<path d="M306.0,537.0 L309.0,539.0 L311.2,539.5 L313.0,541.0 L316.0,544.0" fill="none" stroke="#000" stroke-width="1.4" stroke-linejoin="round" stroke-linecap="round"/>
<path d="M414.0,612.0 L418.0,611.0 L418.9,613.5 L421.0,615.0 L421.0,618.1 L420.0,621.0 L418.4,623.4 L417.0,626.0 L415.2,624.3 L414.5,622.0 L414.3,619.5 L414.0,617.0" fill="none" stroke="#000" stroke-width="1.5" stroke-linejoin="round" stroke-linecap="round"/>
<path d="M386.0,601.0 L388.7,603.0 L392.0,603.5 L394.3,604.1 L395.7,606.3 L398.0,607.0 L400.0,608.3 L401.6,610.2 L404.0,611.0" fill="none" stroke="#000" stroke-width="1.2" stroke-linejoin="round" stroke-linecap="round"/>
<path d="M340.0,560.0 L341.8,561.3 L344.2,561.6 L346.0,563.0 L347.6,564.9 L350.0,565.6 L352.0,567.0" fill="none" stroke="#000" stroke-width="1.2" stroke-linejoin="round" stroke-linecap="round"/>
<path d="M573.6,622.5 L574.4,623.1" fill="none" stroke="#000" stroke-width="1.8" stroke-linejoin="round" stroke-linecap="round"/>
<path d="M52.3,90.0 L54.0,88.9 L55.5,90.2 L54.5,91.8 L52.8,91.3 Z" fill="none" stroke="#000" stroke-width="1.5" stroke-linejoin="round" stroke-linecap="round"/>
<path d="M58.4,93.0 L60.0,92.1 L61.7,93.2 L60.5,94.7 L58.8,94.3 Z" fill="none" stroke="#000" stroke-width="1.5" stroke-linejoin="round" stroke-linecap="round"/>
<path d="M61.7,93.5 L64.0,92.5 L66.7,94.5 L65.5,96.8 L62.5,96.0 Z" fill="none" stroke="#000" stroke-width="1.5" stroke-linejoin="round" stroke-linecap="round"/>
<path d="M63.8,98.5 L65.0,97.6 L66.0,98.8 L65.0,99.7 Z" fill="none" stroke="#000" stroke-width="1.5" stroke-linejoin="round" stroke-linecap="round"/>
<path d="M58.0,95.5 L61.0,97.5 L64.0,100.5 L67.0,103.0" fill="none" stroke="#000" stroke-width="1.3" stroke-linejoin="round" stroke-linecap="round"/>
<path d="M84.0,100.0 L87.0,98.5 L89.5,100.5 L92.0,103.0" fill="none" stroke="#000" stroke-width="1.3" stroke-linejoin="round" stroke-linecap="round"/>
<rect x="426" y="341" width="6" height="6" fill="#c8c8fc" opacity="1"/>
<rect x="432" y="339" width="8" height="6" fill="#c0c8fc" opacity="1"/>
<rect x="438" y="340" width="6" height="5" fill="#c8c0fc" opacity="1"/>
<rect x="426" y="347" width="5" height="8" fill="#b8c4fa" opacity="1"/>
<rect x="431" y="346" width="10" height="8" fill="#c4c8fc" opacity="1"/>
<rect x="441" y="346" width="5" height="6" fill="#ccccfc" opacity="1"/>
<rect x="430" y="360" width="12" height="7" fill="#ccc8fc" opacity="1"/>
<rect x="438" y="357" width="6" height="5" fill="#bcccfc" opacity="1"/>
<rect x="436" y="366" width="6" height="4" fill="#d8d0fc" opacity="1"/>
<rect x="426.2" y="342.2" width="3" height="3" fill="#80e8f0" opacity="1"/>
<rect x="435.3" y="342.2" width="3" height="3" fill="#90e0f8" opacity="1"/>
<rect x="439.4" y="345.3" width="4" height="4" fill="#80ecf4" opacity="1"/>
<rect x="428.2" y="353.4" width="5" height="3" fill="#78ecf0" opacity="1"/>
<rect x="433.3" y="358.5" width="4" height="5" fill="#84e4f4" opacity="1"/>
<rect x="445.5" y="352.4" width="3" height="3" fill="#88e0fa" opacity="1"/>
<rect x="441" y="349" width="3" height="3" fill="#a0c8fc" opacity="1"/>
<rect x="436" y="352" width="3" height="3" fill="#98ccfc" opacity="1"/>
<rect x="428.2" y="355.4" width="4" height="4" fill="#5ae678" opacity="1"/>
<rect x="439.4" y="352.4" width="5" height="4" fill="#5ae670" opacity="1"/>
<rect x="434.3" y="362.6" width="4" height="3" fill="#78e890" opacity="1"/>
<rect x="431" y="351" width="3" height="2" fill="#70e8a0" opacity="1"/>
<rect x="429.8" y="358.5" width="4" height="2" fill="#f05a28" opacity="1"/>
<rect x="442.5" y="352.9" width="4" height="2" fill="#f06428" opacity="1"/>
<rect x="443" y="355" width="2.5" height="1.5" fill="#f0d840" opacity="1"/>
<rect x="431" y="357.5" width="2" height="1.2" fill="#f0c040" opacity="1"/>
<rect x="380" y="314" width="6" height="4" fill="#c8ccfc" opacity="0.8"/>
<rect x="386" y="318" width="8" height="4" fill="#c0c8fc" opacity="0.8"/>
<rect x="384" y="324" width="6" height="4" fill="#ccccfc" opacity="0.8"/>
<rect x="394" y="314" width="6" height="4" fill="#d0ccfc" opacity="0.8"/>
<rect x="378" y="320" width="5" height="4" fill="#d4d0fc" opacity="0.8"/>
<rect x="396" y="322" width="6" height="4" fill="#ccccfc" opacity="0.8"/>
<rect x="390" y="310" width="6" height="3" fill="#d4d0fc" opacity="0.8"/>
<rect x="400" y="318" width="5" height="4" fill="#d0d0fc" opacity="0.8"/>
<rect x="486" y="511" width="10" height="4" fill="#b8c4fc" opacity="0.8"/>
<rect x="492" y="509" width="6" height="3" fill="#a8bcfc" opacity="0.8"/>
<path d="M87.6,131.4 L94.8,117.8 L102.0,131.4 Z" fill="none" stroke="#000" stroke-width="1.3" stroke-linejoin="miter"/>
<path d="M369.8,181.0 L377.0,167.4 L384.2,181.0 Z" fill="none" stroke="#000" stroke-width="1.3" stroke-linejoin="miter"/>
<path d="M430.8,324.0 L438.0,310.4 L445.2,324.0 Z" fill="none" stroke="#000" stroke-width="1.3" stroke-linejoin="miter"/>
<path d="M442.6,365.4 L449.8,351.8 L457.0,365.4 Z" fill="none" stroke="#000" stroke-width="1.3" stroke-linejoin="miter"/>
<path d="M453.5,397.7 L460.7,384.1 L467.9,397.7 Z" fill="none" stroke="#000" stroke-width="1.3" stroke-linejoin="miter"/>
<path d="M460.3,407.3 L467.5,393.7 L474.7,407.3 Z" fill="none" stroke="#000" stroke-width="1.3" stroke-linejoin="miter"/>
<path d="M500.0,521.3 L507.2,507.7 L514.4,521.3 Z" fill="none" stroke="#000" stroke-width="1.3" stroke-linejoin="miter"/>
<text x="474" y="362.5" font-family="Liberation Sans, sans-serif" font-size="14" font-weight="bold" letter-spacing="1.4">Aoba</text>
<text x="544" y="519.7" font-family="Liberation Sans, sans-serif" font-size="14.5" font-weight="bold" letter-spacing="1.4">Yasur</text>
<circle cx="536.3" cy="514.7" r="1.3" fill="#000"/>
</g>
<rect x="168.45" y="80.00" width="179.50" height="7.50" fill="#000"/>
<rect x="168.45" y="727.00" width="179.50" height="8.00" fill="#000"/>
<rect x="527.45" y="80.00" width="179.50" height="7.50" fill="#000"/>
<rect x="527.45" y="727.00" width="179.50" height="8.00" fill="#000"/>
<rect x="17.00" y="160.17" width="8.00" height="73.16" fill="#000"/>
<rect x="815.00" y="160.17" width="8.00" height="73.16" fill="#000"/>
<rect x="17.00" y="307.04" width="8.00" height="74.35" fill="#000"/>
<rect x="815.00" y="307.04" width="8.00" height="74.35" fill="#000"/>
<rect x="17.00" y="456.49" width="8.00" height="75.96" fill="#000"/>
<rect x="815.00" y="456.49" width="8.00" height="75.96" fill="#000"/>
<rect x="17.00" y="609.37" width="8.00" height="78.02" fill="#000"/>
<rect x="815.00" y="609.37" width="8.00" height="78.02" fill="#000"/>
<rect x="17" y="80" width="806" height="655" fill="none" stroke="#000" stroke-width="1.3"/>
<rect x="25" y="87.5" width="790" height="639.5" fill="none" stroke="#000" stroke-width="1.3"/>
<text x="168.4" y="74.9" font-family="Liberation Sans, sans-serif" font-size="16" font-weight="bold" text-anchor="middle">160</text>
<text x="168.4" y="755" font-family="Liberation Sans, sans-serif" font-size="16" font-weight="bold" text-anchor="middle">160</text>
<text x="347.9" y="74.9" font-family="Liberation Sans, sans-serif" font-size="16" font-weight="bold" text-anchor="middle">165</text>
<text x="347.9" y="755" font-family="Liberation Sans, sans-serif" font-size="16" font-weight="bold" text-anchor="middle">165</text>
<text x="527.5" y="74.9" font-family="Liberation Sans, sans-serif" font-size="16" font-weight="bold" text-anchor="middle">170</text>
<text x="527.5" y="755" font-family="Liberation Sans, sans-serif" font-size="16" font-weight="bold" text-anchor="middle">170</text>
<text x="707.0" y="74.9" font-family="Liberation Sans, sans-serif" font-size="16" font-weight="bold" text-anchor="middle">175</text>
<text x="707.0" y="755" font-family="Liberation Sans, sans-serif" font-size="16" font-weight="bold" text-anchor="middle">175</text>
<text transform="translate(12.6,160.2) rotate(-90)" font-family="Liberation Sans, sans-serif" font-size="16" font-weight="bold" text-anchor="middle">-10</text>
<text transform="translate(827.6,160.2) rotate(90)" font-family="Liberation Sans, sans-serif" font-size="16" font-weight="bold" text-anchor="middle">-10</text>
<text transform="translate(12.6,233.3) rotate(-90)" font-family="Liberation Sans, sans-serif" font-size="16" font-weight="bold" text-anchor="middle">-12</text>
<text transform="translate(827.6,233.3) rotate(90)" font-family="Liberation Sans, sans-serif" font-size="16" font-weight="bold" text-anchor="middle">-12</text>
<text transform="translate(12.6,307.0) rotate(-90)" font-family="Liberation Sans, sans-serif" font-size="16" font-weight="bold" text-anchor="middle">-14</text>
<text transform="translate(827.6,307.0) rotate(90)" font-family="Liberation Sans, sans-serif" font-size="16" font-weight="bold" text-anchor="middle">-14</text>
<text transform="translate(12.6,381.4) rotate(-90)" font-family="Liberation Sans, sans-serif" font-size="16" font-weight="bold" text-anchor="middle">-16</text>
<text transform="translate(827.6,381.4) rotate(90)" font-family="Liberation Sans, sans-serif" font-size="16" font-weight="bold" text-anchor="middle">-16</text>
<text transform="translate(12.6,456.5) rotate(-90)" font-family="Liberation Sans, sans-serif" font-size="16" font-weight="bold" text-anchor="middle">-18</text>
<text transform="translate(827.6,456.5) rotate(90)" font-family="Liberation Sans, sans-serif" font-size="16" font-weight="bold" text-anchor="middle">-18</text>
<text transform="translate(12.6,532.4) rotate(-90)" font-family="Liberation Sans, sans-serif" font-size="16" font-weight="bold" text-anchor="middle">-20</text>
<text transform="translate(827.6,532.4) rotate(90)" font-family="Liberation Sans, sans-serif" font-size="16" font-weight="bold" text-anchor="middle">-20</text>
<text transform="translate(12.6,609.4) rotate(-90)" font-family="Liberation Sans, sans-serif" font-size="16" font-weight="bold" text-anchor="middle">-22</text>
<text transform="translate(827.6,609.4) rotate(90)" font-family="Liberation Sans, sans-serif" font-size="16" font-weight="bold" text-anchor="middle">-22</text>
<text transform="translate(12.6,687.4) rotate(-90)" font-family="Liberation Sans, sans-serif" font-size="16" font-weight="bold" text-anchor="middle">-24</text>
<text transform="translate(827.6,687.4) rotate(90)" font-family="Liberation Sans, sans-serif" font-size="16" font-weight="bold" text-anchor="middle">-24</text>
<text x="149" y="18.3" font-family="Liberation Sans, sans-serif" font-size="23.4">Sentinel-5P/TROPOMI - 03/26/2024 01:55-03:41 UT</text>
<text x="18" y="47.8" font-family="Liberation Sans, sans-serif" font-size="16" letter-spacing="0.33">SO<tspan font-size="10.5" dy="3.7">2</tspan><tspan dy="-3.7"> mass: 0.1145 kt; SO</tspan><tspan font-size="10.5" dy="3.7">2</tspan><tspan dy="-3.7"> max: 2.20 DU at lon: 167.78 lat: -15.53 ; 01:58UTC</tspan></text>
<text x="18" y="781.7" font-family="Liberation Sans, sans-serif" font-size="16" letter-spacing="0.33" fill="#ff1a0a">Data: BIRA-IASB/DLR/ESA/EU Copernicus Program</text>
<polygon points="871.3,112.3 892.3,82.5 913.3,112.3" fill="#ff2200" stroke="#000" stroke-width="1.2" stroke-linejoin="round"/>
<polygon points="871.3,701.8 892.3,732 913.3,701.8" fill="#fffafa" stroke="#000" stroke-width="1.2" stroke-linejoin="round"/>
<rect x="871.3" y="112.3" width="42.0" height="589.5" fill="url(#cb)" stroke="#000" stroke-width="1.3"/>
<text x="918.5" y="124.7" font-family="Liberation Sans, sans-serif" font-size="19.5">2.0</text>
<line x1="908.0" y1="141.8" x2="913.3" y2="141.8" stroke="#000" stroke-width="1.2"/>
<line x1="871.3" y1="141.8" x2="872.3" y2="141.8" stroke="#000" stroke-width="1.2"/>
<line x1="902.3" y1="171.2" x2="913.3" y2="171.2" stroke="#000" stroke-width="1.2"/>
<line x1="871.3" y1="171.2" x2="872.3" y2="171.2" stroke="#000" stroke-width="1.2"/>
<text x="918.5" y="178.1" font-family="Liberation Sans, sans-serif" font-size="19.5">1.8</text>
<line x1="908.0" y1="200.7" x2="913.3" y2="200.7" stroke="#000" stroke-width="1.2"/>
<line x1="871.3" y1="200.7" x2="872.3" y2="200.7" stroke="#000" stroke-width="1.2"/>
<line x1="902.3" y1="230.2" x2="913.3" y2="230.2" stroke="#000" stroke-width="1.2"/>
<line x1="871.3" y1="230.2" x2="872.3" y2="230.2" stroke="#000" stroke-width="1.2"/>
<text x="918.5" y="237.0" font-family="Liberation Sans, sans-serif" font-size="19.5">1.6</text>
<line x1="908.0" y1="259.7" x2="913.3" y2="259.7" stroke="#000" stroke-width="1.2"/>
<line x1="871.3" y1="259.7" x2="872.3" y2="259.7" stroke="#000" stroke-width="1.2"/>
<line x1="902.3" y1="289.1" x2="913.3" y2="289.1" stroke="#000" stroke-width="1.2"/>
<line x1="871.3" y1="289.1" x2="872.3" y2="289.1" stroke="#000" stroke-width="1.2"/>
<text x="918.5" y="295.9" font-family="Liberation Sans, sans-serif" font-size="19.5">1.4</text>
<line x1="908.0" y1="318.6" x2="913.3" y2="318.6" stroke="#000" stroke-width="1.2"/>
<line x1="871.3" y1="318.6" x2="872.3" y2="318.6" stroke="#000" stroke-width="1.2"/>
<line x1="902.3" y1="348.1" x2="913.3" y2="348.1" stroke="#000" stroke-width="1.2"/>
<line x1="871.3" y1="348.1" x2="872.3" y2="348.1" stroke="#000" stroke-width="1.2"/>
<text x="918.5" y="354.9" font-family="Liberation Sans, sans-serif" font-size="19.5">1.2</text>
<line x1="908.0" y1="377.6" x2="913.3" y2="377.6" stroke="#000" stroke-width="1.2"/>
<line x1="871.3" y1="377.6" x2="872.3" y2="377.6" stroke="#000" stroke-width="1.2"/>
<line x1="902.3" y1="407.1" x2="913.3" y2="407.1" stroke="#000" stroke-width="1.2"/>
<line x1="871.3" y1="407.1" x2="872.3" y2="407.1" stroke="#000" stroke-width="1.2"/>
<text x="918.5" y="413.9" font-family="Liberation Sans, sans-serif" font-size="19.5">1.0</text>
<line x1="908.0" y1="436.5" x2="913.3" y2="436.5" stroke="#000" stroke-width="1.2"/>
<line x1="871.3" y1="436.5" x2="872.3" y2="436.5" stroke="#000" stroke-width="1.2"/>
<line x1="902.3" y1="466.0" x2="913.3" y2="466.0" stroke="#000" stroke-width="1.2"/>
<line x1="871.3" y1="466.0" x2="872.3" y2="466.0" stroke="#000" stroke-width="1.2"/>
<text x="918.5" y="472.8" font-family="Liberation Sans, sans-serif" font-size="19.5">0.8</text>
<line x1="908.0" y1="495.5" x2="913.3" y2="495.5" stroke="#000" stroke-width="1.2"/>
<line x1="871.3" y1="495.5" x2="872.3" y2="495.5" stroke="#000" stroke-width="1.2"/>
<line x1="902.3" y1="524.9" x2="913.3" y2="524.9" stroke="#000" stroke-width="1.2"/>
<line x1="871.3" y1="524.9" x2="872.3" y2="524.9" stroke="#000" stroke-width="1.2"/>
<text x="918.5" y="531.7" font-family="Liberation Sans, sans-serif" font-size="19.5">0.6</text>
<line x1="908.0" y1="554.4" x2="913.3" y2="554.4" stroke="#000" stroke-width="1.2"/>
<line x1="871.3" y1="554.4" x2="872.3" y2="554.4" stroke="#000" stroke-width="1.2"/>
<line x1="902.3" y1="583.9" x2="913.3" y2="583.9" stroke="#000" stroke-width="1.2"/>
<line x1="871.3" y1="583.9" x2="872.3" y2="583.9" stroke="#000" stroke-width="1.2"/>
<text x="918.5" y="590.7" font-family="Liberation Sans, sans-serif" font-size="19.5">0.4</text>
<line x1="908.0" y1="613.4" x2="913.3" y2="613.4" stroke="#000" stroke-width="1.2"/>
<line x1="871.3" y1="613.4" x2="872.3" y2="613.4" stroke="#000" stroke-width="1.2"/>
<line x1="902.3" y1="642.8" x2="913.3" y2="642.8" stroke="#000" stroke-width="1.2"/>
<line x1="871.3" y1="642.8" x2="872.3" y2="642.8" stroke="#000" stroke-width="1.2"/>
<text x="918.5" y="649.6" font-family="Liberation Sans, sans-serif" font-size="19.5">0.2</text>
<line x1="908.0" y1="672.3" x2="913.3" y2="672.3" stroke="#000" stroke-width="1.2"/>
<line x1="871.3" y1="672.3" x2="872.3" y2="672.3" stroke="#000" stroke-width="1.2"/>
<text x="918.5" y="701.8" font-family="Liberation Sans, sans-serif" font-size="19.5">0.0</text>
<text transform="translate(963.8,407.6) rotate(-90)" font-family="Liberation Sans, sans-serif" font-size="20.2" text-anchor="middle">SO<tspan font-size="12.5" dy="5.5">2</tspan><tspan dy="-5.5"> column TRM [DU]</tspan></text>
</svg></body></html>
